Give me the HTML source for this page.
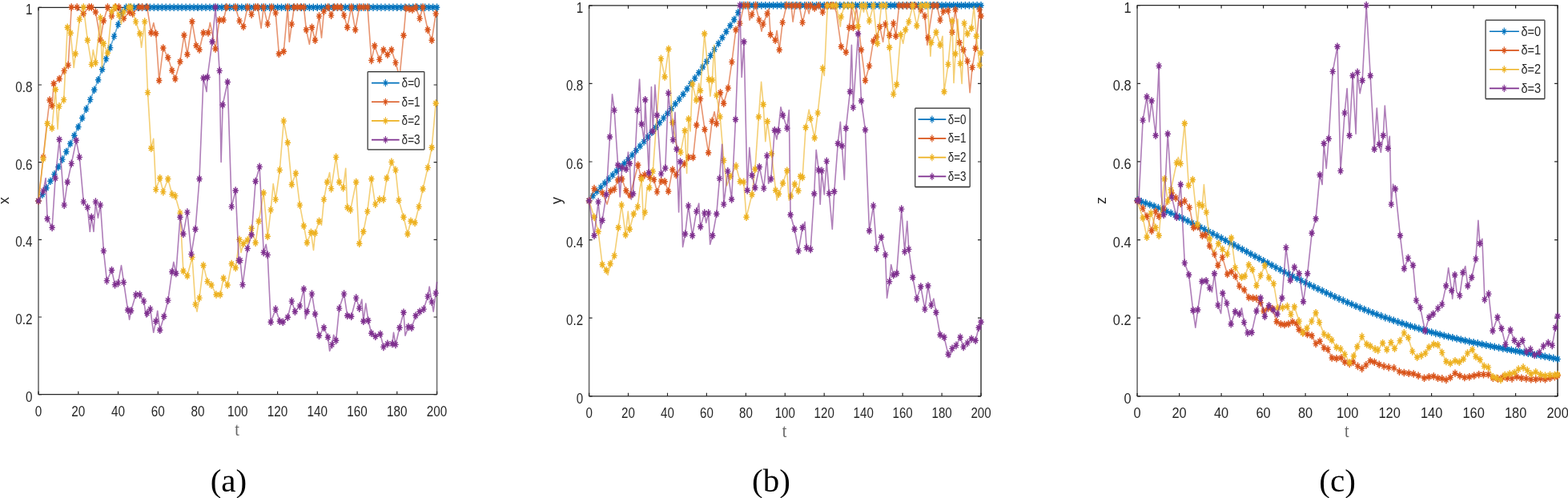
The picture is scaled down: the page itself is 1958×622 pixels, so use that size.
<!DOCTYPE html>
<html><head><meta charset="utf-8"><title>figure</title>
<style>
html,body{margin:0;padding:0;background:#fff;}
body{width:1958px;height:622px;overflow:hidden;}
svg{display:block;}
.tk{font-family:"Liberation Sans",Arial,sans-serif;font-size:18px;fill:#262626;}
.lg{font-family:"Liberation Sans",Arial,sans-serif;font-size:16px;fill:#262626;}
.xl{font-family:"Liberation Serif","Times New Roman",serif;font-size:24px;fill:#666;}
.yl{font-family:"Liberation Sans",Arial,sans-serif;font-size:18px;fill:#262626;}
.cap{font-family:"Liberation Serif","Times New Roman",serif;font-size:41px;fill:#000;}
</style></head><body>
<svg width="1958" height="622" viewBox="0 0 1958 622">
<rect width="1958" height="622" fill="#fff"/>
<path d="M48 9.3H545.6M48 492.7H545.6" stroke="#262626" stroke-width="1.3" fill="none"/>
<path d="M48 9.3V492.7" stroke="#6a6a6a" stroke-width="1.6" fill="none"/>
<path d="M545.6 9.3V492.7" stroke="#6a6a6a" stroke-width="1.5" fill="none"/>
<path d="M48 492.7v-4M48 9.3v4M97.8 492.7v-4M97.8 9.3v4M147.5 492.7v-4M147.5 9.3v4M197.3 492.7v-4M197.3 9.3v4M247 492.7v-4M247 9.3v4M296.8 492.7v-4M296.8 9.3v4M346.6 492.7v-4M346.6 9.3v4M396.3 492.7v-4M396.3 9.3v4M446.1 492.7v-4M446.1 9.3v4M495.8 492.7v-4M495.8 9.3v4M545.6 492.7v-4M545.6 9.3v4M48 492.7h4M545.6 492.7h-4M48 396h4M545.6 396h-4M48 299.3h4M545.6 299.3h-4M48 202.7h4M545.6 202.7h-4M48 106h4M545.6 106h-4M48 9.3h4M545.6 9.3h-4" stroke="#262626" stroke-width="1.2" fill="none"/>
<g>
<polyline points="48,251 53,243 58,234.8 62.9,226.3 67.9,217.6 72.9,208.5 77.9,199.1 82.8,189.5 87.8,179.5 92.8,169.2 97.8,158.5 102.7,147.5 107.7,136.1 112.7,124.4 117.7,112.3 122.6,99.7 127.6,86.8 132.6,73.4 137.6,59.6 142.5,45.4 147.5,30.6 152.5,15.4 157.5,9.3 162.4,9.3 167.4,9.3 172.4,9.3 177.4,9.3 182.4,9.3 187.3,9.3 192.3,9.3 197.3,9.3 202.3,9.3 207.2,9.3 212.2,9.3 217.2,9.3 222.2,9.3 227.1,9.3 232.1,9.3 237.1,9.3 242.1,9.3 247,9.3 252,9.3 257,9.3 262,9.3 266.9,9.3 271.9,9.3 276.9,9.3 281.9,9.3 286.8,9.3 291.8,9.3 296.8,9.3 301.8,9.3 306.8,9.3 311.7,9.3 316.7,9.3 321.7,9.3 326.7,9.3 331.6,9.3 336.6,9.3 341.6,9.3 346.6,9.3 351.5,9.3 356.5,9.3 361.5,9.3 366.5,9.3 371.4,9.3 376.4,9.3 381.4,9.3 386.4,9.3 391.3,9.3 396.3,9.3 401.3,9.3 406.3,9.3 411.2,9.3 416.2,9.3 421.2,9.3 426.2,9.3 431.2,9.3 436.1,9.3 441.1,9.3 446.1,9.3 451.1,9.3 456,9.3 461,9.3 466,9.3 471,9.3 475.9,9.3 480.9,9.3 485.9,9.3 490.9,9.3 495.8,9.3 500.8,9.3 505.8,9.3 510.8,9.3 515.7,9.3 520.7,9.3 525.7,9.3 530.7,9.3 535.6,9.3 540.6,9.3 545.6,9.3" fill="none" stroke="#0072BD" stroke-width="1.6" stroke-opacity="0.62" stroke-linejoin="round"/>
<path d="M44.3 251h7.4M48 246.2v9.6M45.3 248l5.3 6M45.3 254l5.3 -6M49.3 243h7.4M53 238.2v9.6M50.3 240.1l5.3 6M50.3 246l5.3 -6M54.3 234.8h7.4M58 230v9.6M55.3 231.8l5.3 6M55.3 237.8l5.3 -6M59.2 226.3h7.4M62.9 221.5v9.6M60.3 223.4l5.3 6M60.3 229.3l5.3 -6M64.2 217.6h7.4M67.9 212.8v9.6M65.2 214.6l5.3 6M65.2 220.5l5.3 -6M69.2 208.5h7.4M72.9 203.7v9.6M70.2 205.5l5.3 6M70.2 211.5l5.3 -6M74.2 199.1h7.4M77.9 194.3v9.6M75.2 196.2l5.3 6M75.2 202.1l5.3 -6M79.1 189.5h7.4M82.8 184.7v9.6M80.2 186.5l5.3 6M80.2 192.4l5.3 -6M84.1 179.5h7.4M87.8 174.7v9.6M85.1 176.5l5.3 6M85.1 182.5l5.3 -6M89.1 169.2h7.4M92.8 164.4v9.6M90.1 166.2l5.3 6M90.1 172.1l5.3 -6M94.1 158.5h7.4M97.8 153.7v9.6M95.1 155.5l5.3 6M95.1 161.5l5.3 -6M99 147.5h7.4M102.7 142.7v9.6M100.1 144.5l5.3 6M100.1 150.5l5.3 -6M104 136.1h7.4M107.7 131.3v9.6M105 133.2l5.3 6M105 139.1l5.3 -6M109 124.4h7.4M112.7 119.6v9.6M110 121.4l5.3 6M110 127.4l5.3 -6M114 112.3h7.4M117.7 107.5v9.6M115 109.3l5.3 6M115 115.2l5.3 -6M118.9 99.7h7.4M122.6 94.9v9.6M120 96.8l5.3 6M120 102.7l5.3 -6M123.9 86.8h7.4M127.6 82v9.6M125 83.8l5.3 6M125 89.8l5.3 -6M128.9 73.4h7.4M132.6 68.6v9.6M129.9 70.5l5.3 6M129.9 76.4l5.3 -6M133.9 59.6h7.4M137.6 54.8v9.6M134.9 56.7l5.3 6M134.9 62.6l5.3 -6M138.8 45.4h7.4M142.5 40.6v9.6M139.9 42.4l5.3 6M139.9 48.3l5.3 -6M143.8 30.6h7.4M147.5 25.8v9.6M144.9 27.7l5.3 6M144.9 33.6l5.3 -6M148.8 15.4h7.4M152.5 10.6v9.6M149.8 12.4l5.3 6M149.8 18.4l5.3 -6M153.8 9.3h7.4M157.5 4.5v9.6M154.8 6.3l5.3 6M154.8 12.3l5.3 -6M158.7 9.3h7.4M162.4 4.5v9.6M159.8 6.3l5.3 6M159.8 12.3l5.3 -6M163.7 9.3h7.4M167.4 4.5v9.6M164.8 6.3l5.3 6M164.8 12.3l5.3 -6M168.7 9.3h7.4M172.4 4.5v9.6M169.7 6.3l5.3 6M169.7 12.3l5.3 -6M173.7 9.3h7.4M177.4 4.5v9.6M174.7 6.3l5.3 6M174.7 12.3l5.3 -6M178.7 9.3h7.4M182.4 4.5v9.6M179.7 6.3l5.3 6M179.7 12.3l5.3 -6M183.6 9.3h7.4M187.3 4.5v9.6M184.7 6.3l5.3 6M184.7 12.3l5.3 -6M188.6 9.3h7.4M192.3 4.5v9.6M189.6 6.3l5.3 6M189.6 12.3l5.3 -6M193.6 9.3h7.4M197.3 4.5v9.6M194.6 6.3l5.3 6M194.6 12.3l5.3 -6M198.6 9.3h7.4M202.3 4.5v9.6M199.6 6.3l5.3 6M199.6 12.3l5.3 -6M203.5 9.3h7.4M207.2 4.5v9.6M204.6 6.3l5.3 6M204.6 12.3l5.3 -6M208.5 9.3h7.4M212.2 4.5v9.6M209.5 6.3l5.3 6M209.5 12.3l5.3 -6M213.5 9.3h7.4M217.2 4.5v9.6M214.5 6.3l5.3 6M214.5 12.3l5.3 -6M218.5 9.3h7.4M222.2 4.5v9.6M219.5 6.3l5.3 6M219.5 12.3l5.3 -6M223.4 9.3h7.4M227.1 4.5v9.6M224.5 6.3l5.3 6M224.5 12.3l5.3 -6M228.4 9.3h7.4M232.1 4.5v9.6M229.4 6.3l5.3 6M229.4 12.3l5.3 -6M233.4 9.3h7.4M237.1 4.5v9.6M234.4 6.3l5.3 6M234.4 12.3l5.3 -6M238.4 9.3h7.4M242.1 4.5v9.6M239.4 6.3l5.3 6M239.4 12.3l5.3 -6M243.3 9.3h7.4M247 4.5v9.6M244.4 6.3l5.3 6M244.4 12.3l5.3 -6M248.3 9.3h7.4M252 4.5v9.6M249.4 6.3l5.3 6M249.4 12.3l5.3 -6M253.3 9.3h7.4M257 4.5v9.6M254.3 6.3l5.3 6M254.3 12.3l5.3 -6M258.3 9.3h7.4M262 4.5v9.6M259.3 6.3l5.3 6M259.3 12.3l5.3 -6M263.2 9.3h7.4M266.9 4.5v9.6M264.3 6.3l5.3 6M264.3 12.3l5.3 -6M268.2 9.3h7.4M271.9 4.5v9.6M269.3 6.3l5.3 6M269.3 12.3l5.3 -6M273.2 9.3h7.4M276.9 4.5v9.6M274.2 6.3l5.3 6M274.2 12.3l5.3 -6M278.2 9.3h7.4M281.9 4.5v9.6M279.2 6.3l5.3 6M279.2 12.3l5.3 -6M283.1 9.3h7.4M286.8 4.5v9.6M284.2 6.3l5.3 6M284.2 12.3l5.3 -6M288.1 9.3h7.4M291.8 4.5v9.6M289.2 6.3l5.3 6M289.2 12.3l5.3 -6M293.1 9.3h7.4M296.8 4.5v9.6M294.1 6.3l5.3 6M294.1 12.3l5.3 -6M298.1 9.3h7.4M301.8 4.5v9.6M299.1 6.3l5.3 6M299.1 12.3l5.3 -6M303.1 9.3h7.4M306.8 4.5v9.6M304.1 6.3l5.3 6M304.1 12.3l5.3 -6M308 9.3h7.4M311.7 4.5v9.6M309.1 6.3l5.3 6M309.1 12.3l5.3 -6M313 9.3h7.4M316.7 4.5v9.6M314 6.3l5.3 6M314 12.3l5.3 -6M318 9.3h7.4M321.7 4.5v9.6M319 6.3l5.3 6M319 12.3l5.3 -6M323 9.3h7.4M326.7 4.5v9.6M324 6.3l5.3 6M324 12.3l5.3 -6M327.9 9.3h7.4M331.6 4.5v9.6M329 6.3l5.3 6M329 12.3l5.3 -6M332.9 9.3h7.4M336.6 4.5v9.6M333.9 6.3l5.3 6M333.9 12.3l5.3 -6M337.9 9.3h7.4M341.6 4.5v9.6M338.9 6.3l5.3 6M338.9 12.3l5.3 -6M342.9 9.3h7.4M346.6 4.5v9.6M343.9 6.3l5.3 6M343.9 12.3l5.3 -6M347.8 9.3h7.4M351.5 4.5v9.6M348.9 6.3l5.3 6M348.9 12.3l5.3 -6M352.8 9.3h7.4M356.5 4.5v9.6M353.8 6.3l5.3 6M353.8 12.3l5.3 -6M357.8 9.3h7.4M361.5 4.5v9.6M358.8 6.3l5.3 6M358.8 12.3l5.3 -6M362.8 9.3h7.4M366.5 4.5v9.6M363.8 6.3l5.3 6M363.8 12.3l5.3 -6M367.7 9.3h7.4M371.4 4.5v9.6M368.8 6.3l5.3 6M368.8 12.3l5.3 -6M372.7 9.3h7.4M376.4 4.5v9.6M373.8 6.3l5.3 6M373.8 12.3l5.3 -6M377.7 9.3h7.4M381.4 4.5v9.6M378.7 6.3l5.3 6M378.7 12.3l5.3 -6M382.7 9.3h7.4M386.4 4.5v9.6M383.7 6.3l5.3 6M383.7 12.3l5.3 -6M387.6 9.3h7.4M391.3 4.5v9.6M388.7 6.3l5.3 6M388.7 12.3l5.3 -6M392.6 9.3h7.4M396.3 4.5v9.6M393.7 6.3l5.3 6M393.7 12.3l5.3 -6M397.6 9.3h7.4M401.3 4.5v9.6M398.6 6.3l5.3 6M398.6 12.3l5.3 -6M402.6 9.3h7.4M406.3 4.5v9.6M403.6 6.3l5.3 6M403.6 12.3l5.3 -6M407.5 9.3h7.4M411.2 4.5v9.6M408.6 6.3l5.3 6M408.6 12.3l5.3 -6M412.5 9.3h7.4M416.2 4.5v9.6M413.6 6.3l5.3 6M413.6 12.3l5.3 -6M417.5 9.3h7.4M421.2 4.5v9.6M418.5 6.3l5.3 6M418.5 12.3l5.3 -6M422.5 9.3h7.4M426.2 4.5v9.6M423.5 6.3l5.3 6M423.5 12.3l5.3 -6M427.5 9.3h7.4M431.2 4.5v9.6M428.5 6.3l5.3 6M428.5 12.3l5.3 -6M432.4 9.3h7.4M436.1 4.5v9.6M433.5 6.3l5.3 6M433.5 12.3l5.3 -6M437.4 9.3h7.4M441.1 4.5v9.6M438.4 6.3l5.3 6M438.4 12.3l5.3 -6M442.4 9.3h7.4M446.1 4.5v9.6M443.4 6.3l5.3 6M443.4 12.3l5.3 -6M447.4 9.3h7.4M451.1 4.5v9.6M448.4 6.3l5.3 6M448.4 12.3l5.3 -6M452.3 9.3h7.4M456 4.5v9.6M453.4 6.3l5.3 6M453.4 12.3l5.3 -6M457.3 9.3h7.4M461 4.5v9.6M458.3 6.3l5.3 6M458.3 12.3l5.3 -6M462.3 9.3h7.4M466 4.5v9.6M463.3 6.3l5.3 6M463.3 12.3l5.3 -6M467.3 9.3h7.4M471 4.5v9.6M468.3 6.3l5.3 6M468.3 12.3l5.3 -6M472.2 9.3h7.4M475.9 4.5v9.6M473.3 6.3l5.3 6M473.3 12.3l5.3 -6M477.2 9.3h7.4M480.9 4.5v9.6M478.2 6.3l5.3 6M478.2 12.3l5.3 -6M482.2 9.3h7.4M485.9 4.5v9.6M483.2 6.3l5.3 6M483.2 12.3l5.3 -6M487.2 9.3h7.4M490.9 4.5v9.6M488.2 6.3l5.3 6M488.2 12.3l5.3 -6M492.1 9.3h7.4M495.8 4.5v9.6M493.2 6.3l5.3 6M493.2 12.3l5.3 -6M497.1 9.3h7.4M500.8 4.5v9.6M498.2 6.3l5.3 6M498.2 12.3l5.3 -6M502.1 9.3h7.4M505.8 4.5v9.6M503.1 6.3l5.3 6M503.1 12.3l5.3 -6M507.1 9.3h7.4M510.8 4.5v9.6M508.1 6.3l5.3 6M508.1 12.3l5.3 -6M512 9.3h7.4M515.7 4.5v9.6M513.1 6.3l5.3 6M513.1 12.3l5.3 -6M517 9.3h7.4M520.7 4.5v9.6M518.1 6.3l5.3 6M518.1 12.3l5.3 -6M522 9.3h7.4M525.7 4.5v9.6M523 6.3l5.3 6M523 12.3l5.3 -6M527 9.3h7.4M530.7 4.5v9.6M528 6.3l5.3 6M528 12.3l5.3 -6M531.9 9.3h7.4M535.6 4.5v9.6M533 6.3l5.3 6M533 12.3l5.3 -6M536.9 9.3h7.4M540.6 4.5v9.6M538 6.3l5.3 6M538 12.3l5.3 -6M541.9 9.3h7.4M545.6 4.5v9.6M542.9 6.3l5.3 6M542.9 12.3l5.3 -6" stroke="#0072BD" stroke-width="1.4" fill="none"/>
<polyline points="48,251 54,196.4 59,150 62,125 65.1,132 67.1,104.5 74.1,98.5 80.2,88.4 85.2,81.4 89.2,9 96.2,9 104.3,17 111.3,9 114.3,9 119.4,15 125.4,50 129.4,26 134.4,9 139.5,20 144.5,9 148.5,9 154.5,23 161.6,15 165.6,17 173.6,9 177.6,9 183.7,9 188.7,41 191.8,28.6 194.7,42 198.7,100.5 203.8,60 209.8,72 214.8,88 218.8,98.5 224.9,77 229.9,44 233.9,68 239.9,27 245,57 249,62 254,41 260,41 262.3,28.4 269,61 274,25 279,25 283,9 294,9 299,26.1 304,33.2 309.1,9 314.1,18.1 319.1,9 322,9 326.1,35.2 329.2,9 334.2,30.1 339.2,9 344.2,16.1 348.3,67.3 354.3,64.3 359.3,9 361.3,52.3 364.3,30.1 367.3,9 371.4,9 375.4,9 379.4,9 382.4,37.2 386.4,55.3 389.5,34.2 393.5,50.2 398.5,20.1 401.5,47.2 404.5,14.1 409.5,9 413.6,19.1 417.6,9 421.6,9 425.6,9 429.6,19.1 433.7,34.2 438.7,9 443.7,37.2 448.7,9 453.7,9 459,9 463.8,75.4 467.8,57.3 473.9,74.4 478.9,62.3 483.9,68.3 488.9,62.3 494,78.4 499,96 504,44.2 507,10 511,11 515,12 519.1,9 524.1,23.1 528.1,9 534.1,37.2 539.2,50.2 544.2,17.1" fill="none" stroke="#D95319" stroke-width="1.6" stroke-opacity="0.62" stroke-linejoin="round"/>
<path d="M44.3 251h7.4M48 246.2v9.6M45.3 248l5.3 6M45.3 254l5.3 -6M50.3 196.4h7.4M54 191.6v9.6M51.3 193.4l5.3 6M51.3 199.4l5.3 -6M58.3 125h7.4M62 120.2v9.6M59.3 122l5.3 6M59.3 128l5.3 -6M61.4 132h7.4M65.1 127.2v9.6M62.4 129l5.3 6M62.4 135l5.3 -6M63.4 104.5h7.4M67.1 99.7v9.6M64.4 101.5l5.3 6M64.4 107.5l5.3 -6M70.4 98.5h7.4M74.1 93.7v9.6M71.4 95.5l5.3 6M71.4 101.5l5.3 -6M76.5 88.4h7.4M80.2 83.6v9.6M77.5 85.4l5.3 6M77.5 91.4l5.3 -6M81.5 81.4h7.4M85.2 76.6v9.6M82.5 78.4l5.3 6M82.5 84.4l5.3 -6M85.5 9h7.4M89.2 4.2v9.6M86.5 6l5.3 6M86.5 12l5.3 -6M92.5 9h7.4M96.2 4.2v9.6M93.5 6l5.3 6M93.5 12l5.3 -6M100.6 17h7.4M104.3 12.2v9.6M101.6 14l5.3 6M101.6 20l5.3 -6M107.6 9h7.4M111.3 4.2v9.6M108.6 6l5.3 6M108.6 12l5.3 -6M110.6 9h7.4M114.3 4.2v9.6M111.6 6l5.3 6M111.6 12l5.3 -6M115.7 15h7.4M119.4 10.2v9.6M116.7 12l5.3 6M116.7 18l5.3 -6M121.7 50h7.4M125.4 45.2v9.6M122.7 47l5.3 6M122.7 53l5.3 -6M125.7 26h7.4M129.4 21.2v9.6M126.7 23l5.3 6M126.7 29l5.3 -6M130.7 9h7.4M134.4 4.2v9.6M131.7 6l5.3 6M131.7 12l5.3 -6M135.8 20h7.4M139.5 15.2v9.6M136.8 17l5.3 6M136.8 23l5.3 -6M140.8 9h7.4M144.5 4.2v9.6M141.8 6l5.3 6M141.8 12l5.3 -6M144.8 9h7.4M148.5 4.2v9.6M145.8 6l5.3 6M145.8 12l5.3 -6M150.8 23h7.4M154.5 18.2v9.6M151.8 20l5.3 6M151.8 26l5.3 -6M157.9 15h7.4M161.6 10.2v9.6M158.9 12l5.3 6M158.9 18l5.3 -6M161.9 17h7.4M165.6 12.2v9.6M162.9 14l5.3 6M162.9 20l5.3 -6M169.9 9h7.4M173.6 4.2v9.6M170.9 6l5.3 6M170.9 12l5.3 -6M173.9 9h7.4M177.6 4.2v9.6M174.9 6l5.3 6M174.9 12l5.3 -6M180 9h7.4M183.7 4.2v9.6M181 6l5.3 6M181 12l5.3 -6M185 41h7.4M188.7 36.2v9.6M186 38l5.3 6M186 44l5.3 -6M191 42h7.4M194.7 37.2v9.6M192 39l5.3 6M192 45l5.3 -6M195 100.5h7.4M198.7 95.7v9.6M196 97.5l5.3 6M196 103.5l5.3 -6M200.1 60h7.4M203.8 55.2v9.6M201.1 57l5.3 6M201.1 63l5.3 -6M206.1 72h7.4M209.8 67.2v9.6M207.1 69l5.3 6M207.1 75l5.3 -6M211.1 88h7.4M214.8 83.2v9.6M212.1 85l5.3 6M212.1 91l5.3 -6M215.1 98.5h7.4M218.8 93.7v9.6M216.1 95.5l5.3 6M216.1 101.5l5.3 -6M221.2 77h7.4M224.9 72.2v9.6M222.2 74l5.3 6M222.2 80l5.3 -6M226.2 44h7.4M229.9 39.2v9.6M227.2 41l5.3 6M227.2 47l5.3 -6M230.2 68h7.4M233.9 63.2v9.6M231.2 65l5.3 6M231.2 71l5.3 -6M236.2 27h7.4M239.9 22.2v9.6M237.2 24l5.3 6M237.2 30l5.3 -6M241.3 57h7.4M245 52.2v9.6M242.3 54l5.3 6M242.3 60l5.3 -6M245.3 62h7.4M249 57.2v9.6M246.3 59l5.3 6M246.3 65l5.3 -6M250.3 41h7.4M254 36.2v9.6M251.3 38l5.3 6M251.3 44l5.3 -6M256.3 41h7.4M260 36.2v9.6M257.3 38l5.3 6M257.3 44l5.3 -6M265.3 61h7.4M269 56.2v9.6M266.3 58l5.3 6M266.3 64l5.3 -6M270.3 25h7.4M274 20.2v9.6M271.3 22l5.3 6M271.3 28l5.3 -6M275.3 25h7.4M279 20.2v9.6M276.3 22l5.3 6M276.3 28l5.3 -6M279.3 9h7.4M283 4.2v9.6M280.3 6l5.3 6M280.3 12l5.3 -6M290.3 9h7.4M294 4.2v9.6M291.3 6l5.3 6M291.3 12l5.3 -6M295.3 26.1h7.4M299 21.3v9.6M296.3 23.1l5.3 6M296.3 29.1l5.3 -6M300.3 33.2h7.4M304 28.4v9.6M301.3 30.2l5.3 6M301.3 36.2l5.3 -6M305.4 9h7.4M309.1 4.2v9.6M306.4 6l5.3 6M306.4 12l5.3 -6M310.4 18.1h7.4M314.1 13.3v9.6M311.4 15.1l5.3 6M311.4 21.1l5.3 -6M315.4 9h7.4M319.1 4.2v9.6M316.4 6l5.3 6M316.4 12l5.3 -6M318.3 9h7.4M322 4.2v9.6M319.3 6l5.3 6M319.3 12l5.3 -6M325.5 9h7.4M329.2 4.2v9.6M326.5 6l5.3 6M326.5 12l5.3 -6M330.5 30.1h7.4M334.2 25.3v9.6M331.5 27.1l5.3 6M331.5 33.1l5.3 -6M335.5 9h7.4M339.2 4.2v9.6M336.5 6l5.3 6M336.5 12l5.3 -6M340.5 16.1h7.4M344.2 11.3v9.6M341.5 13.1l5.3 6M341.5 19.1l5.3 -6M344.6 67.3h7.4M348.3 62.5v9.6M345.6 64.3l5.3 6M345.6 70.3l5.3 -6M350.6 64.3h7.4M354.3 59.5v9.6M351.6 61.3l5.3 6M351.6 67.3l5.3 -6M355.6 9h7.4M359.3 4.2v9.6M356.6 6l5.3 6M356.6 12l5.3 -6M360.6 30.1h7.4M364.3 25.3v9.6M361.6 27.1l5.3 6M361.6 33.1l5.3 -6M363.6 9h7.4M367.3 4.2v9.6M364.6 6l5.3 6M364.6 12l5.3 -6M367.7 9h7.4M371.4 4.2v9.6M368.7 6l5.3 6M368.7 12l5.3 -6M371.7 9h7.4M375.4 4.2v9.6M372.7 6l5.3 6M372.7 12l5.3 -6M375.7 9h7.4M379.4 4.2v9.6M376.7 6l5.3 6M376.7 12l5.3 -6M378.7 37.2h7.4M382.4 32.4v9.6M379.7 34.2l5.3 6M379.7 40.2l5.3 -6M385.8 34.2h7.4M389.5 29.4v9.6M386.8 31.2l5.3 6M386.8 37.2l5.3 -6M389.8 50.2h7.4M393.5 45.4v9.6M390.8 47.2l5.3 6M390.8 53.2l5.3 -6M394.8 20.1h7.4M398.5 15.3v9.6M395.8 17.1l5.3 6M395.8 23.1l5.3 -6M400.8 14.1h7.4M404.5 9.3v9.6M401.8 11.1l5.3 6M401.8 17.1l5.3 -6M405.8 9h7.4M409.5 4.2v9.6M406.8 6l5.3 6M406.8 12l5.3 -6M409.9 19.1h7.4M413.6 14.3v9.6M410.9 16.1l5.3 6M410.9 22.1l5.3 -6M413.9 9h7.4M417.6 4.2v9.6M414.9 6l5.3 6M414.9 12l5.3 -6M417.9 9h7.4M421.6 4.2v9.6M418.9 6l5.3 6M418.9 12l5.3 -6M421.9 9h7.4M425.6 4.2v9.6M422.9 6l5.3 6M422.9 12l5.3 -6M425.9 19.1h7.4M429.6 14.3v9.6M426.9 16.1l5.3 6M426.9 22.1l5.3 -6M430 34.2h7.4M433.7 29.4v9.6M431 31.2l5.3 6M431 37.2l5.3 -6M435 9h7.4M438.7 4.2v9.6M436 6l5.3 6M436 12l5.3 -6M440 37.2h7.4M443.7 32.4v9.6M441 34.2l5.3 6M441 40.2l5.3 -6M445 9h7.4M448.7 4.2v9.6M446 6l5.3 6M446 12l5.3 -6M450 9h7.4M453.7 4.2v9.6M451 6l5.3 6M451 12l5.3 -6M455.3 9h7.4M459 4.2v9.6M456.3 6l5.3 6M456.3 12l5.3 -6M460.1 75.4h7.4M463.8 70.6v9.6M461.1 72.4l5.3 6M461.1 78.4l5.3 -6M464.1 57.3h7.4M467.8 52.5v9.6M465.1 54.3l5.3 6M465.1 60.3l5.3 -6M470.2 74.4h7.4M473.9 69.6v9.6M471.2 71.4l5.3 6M471.2 77.4l5.3 -6M475.2 62.3h7.4M478.9 57.5v9.6M476.2 59.3l5.3 6M476.2 65.3l5.3 -6M480.2 68.3h7.4M483.9 63.5v9.6M481.2 65.3l5.3 6M481.2 71.3l5.3 -6M485.2 62.3h7.4M488.9 57.5v9.6M486.2 59.3l5.3 6M486.2 65.3l5.3 -6M490.3 78.4h7.4M494 73.6v9.6M491.3 75.4l5.3 6M491.3 81.4l5.3 -6M500.3 44.2h7.4M504 39.4v9.6M501.3 41.2l5.3 6M501.3 47.2l5.3 -6M503.3 10h7.4M507 5.2v9.6M504.3 7l5.3 6M504.3 13l5.3 -6M507.3 11h7.4M511 6.2v9.6M508.3 8l5.3 6M508.3 14l5.3 -6M511.3 12h7.4M515 7.2v9.6M512.3 9l5.3 6M512.3 15l5.3 -6M515.4 9h7.4M519.1 4.2v9.6M516.4 6l5.3 6M516.4 12l5.3 -6M520.4 23.1h7.4M524.1 18.3v9.6M521.4 20.1l5.3 6M521.4 26.1l5.3 -6M524.4 9h7.4M528.1 4.2v9.6M525.4 6l5.3 6M525.4 12l5.3 -6M530.4 37.2h7.4M534.1 32.4v9.6M531.4 34.2l5.3 6M531.4 40.2l5.3 -6M535.5 50.2h7.4M539.2 45.4v9.6M536.5 47.2l5.3 6M536.5 53.2l5.3 -6M540.5 17.1h7.4M544.2 12.3v9.6M541.5 14.1l5.3 6M541.5 20.1l5.3 -6" stroke="#D95319" stroke-width="1.4" fill="none"/>
<polyline points="48,251 54,198.4 59.1,154.2 64.9,160 69.4,111.7 72,161.2 73.9,132.9 79.7,124.6 84.2,34.2 88.2,41.2 92.2,84.4 94.2,67.3 99.3,24.1 104.3,9 109.3,50.2 114.3,80.4 116.3,62.3 119.4,78.4 125.4,22.1 127.4,84.4 129.4,54.3 134.4,66.3 139.5,14.1 143.5,9 148.5,19.1 151.5,30.1 154.5,15.1 160.6,9 163.6,9 169.6,27.1 174.6,42.2 176.6,59.3 180.7,27.1 184.5,115.6 188.7,185.3 191.7,173.3 194.7,236.6 199.7,222.5 203.8,239.6 209.8,223.5 214.8,242.6 218.8,244.6 224.9,266.1 228.9,338.5 233.9,344.5 240,321.4 244,380.1 246,389.2 249,372.1 254,331.5 259,351.6 264,356 270,368 275,368 279.1,347.5 284.1,356 289.2,329.5 294.2,334.5 299,299.3 301,315.4 304,304.3 309,300 314.1,285.2 319.1,303.3 323.1,276.2 329.2,241 334.2,295.3 338.2,262.1 341.2,229.5 344.2,249.1 349.3,212.4 354.3,151.1 359.3,178.3 364.3,230.5 369.4,216.5 374.4,256.1 379.4,282.2 383.4,303.3 388.4,290.3 391.5,312.4 393.5,291.3 398.5,276.2 401.5,281.2 404.5,249.1 408.5,227.5 411.6,215.5 413.6,235.6 419.6,196.4 423.6,227.5 428.6,234.6 431.7,210.4 433.7,259.1 437.7,262.1 444.7,227.5 448.7,304.3 453.8,289.3 458.8,264.1 463.8,223.5 467.8,250 468.8,255.1 473.9,249.1 478.9,249.1 482.9,222.5 488.9,202.4 494,212.4 498,250.1 504,271.2 509,292.3 513,276.2 518.1,278.2 523.1,258.1 528.1,236 534.2,209.4 539.2,184.3 544.2,129" fill="none" stroke="#EDB120" stroke-width="1.6" stroke-opacity="0.62" stroke-linejoin="round"/>
<path d="M44.3 251h7.4M48 246.2v9.6M45.3 248l5.3 6M45.3 254l5.3 -6M50.3 198.4h7.4M54 193.6v9.6M51.3 195.4l5.3 6M51.3 201.4l5.3 -6M55.4 154.2h7.4M59.1 149.4v9.6M56.4 151.2l5.3 6M56.4 157.2l5.3 -6M61.2 160h7.4M64.9 155.2v9.6M62.2 157l5.3 6M62.2 163l5.3 -6M65.7 111.7h7.4M69.4 106.9v9.6M66.7 108.7l5.3 6M66.7 114.7l5.3 -6M70.2 132.9h7.4M73.9 128.1v9.6M71.2 129.9l5.3 6M71.2 135.9l5.3 -6M76 124.6h7.4M79.7 119.8v9.6M77 121.6l5.3 6M77 127.6l5.3 -6M80.5 34.2h7.4M84.2 29.4v9.6M81.5 31.2l5.3 6M81.5 37.2l5.3 -6M84.5 41.2h7.4M88.2 36.4v9.6M85.5 38.2l5.3 6M85.5 44.2l5.3 -6M90.5 67.3h7.4M94.2 62.5v9.6M91.5 64.3l5.3 6M91.5 70.3l5.3 -6M95.6 24.1h7.4M99.3 19.3v9.6M96.6 21.1l5.3 6M96.6 27.1l5.3 -6M100.6 9h7.4M104.3 4.2v9.6M101.6 6l5.3 6M101.6 12l5.3 -6M105.6 50.2h7.4M109.3 45.4v9.6M106.6 47.2l5.3 6M106.6 53.2l5.3 -6M110.6 80.4h7.4M114.3 75.6v9.6M111.6 77.4l5.3 6M111.6 83.4l5.3 -6M115.7 78.4h7.4M119.4 73.6v9.6M116.7 75.4l5.3 6M116.7 81.4l5.3 -6M121.7 22.1h7.4M125.4 17.3v9.6M122.7 19.1l5.3 6M122.7 25.1l5.3 -6M125.7 54.3h7.4M129.4 49.5v9.6M126.7 51.3l5.3 6M126.7 57.3l5.3 -6M130.7 66.3h7.4M134.4 61.5v9.6M131.7 63.3l5.3 6M131.7 69.3l5.3 -6M135.8 14.1h7.4M139.5 9.3v9.6M136.8 11.1l5.3 6M136.8 17.1l5.3 -6M139.8 9h7.4M143.5 4.2v9.6M140.8 6l5.3 6M140.8 12l5.3 -6M144.8 19.1h7.4M148.5 14.3v9.6M145.8 16.1l5.3 6M145.8 22.1l5.3 -6M150.8 15.1h7.4M154.5 10.3v9.6M151.8 12.1l5.3 6M151.8 18.1l5.3 -6M156.9 9h7.4M160.6 4.2v9.6M157.9 6l5.3 6M157.9 12l5.3 -6M159.9 9h7.4M163.6 4.2v9.6M160.9 6l5.3 6M160.9 12l5.3 -6M165.9 27.1h7.4M169.6 22.3v9.6M166.9 24.1l5.3 6M166.9 30.1l5.3 -6M170.9 42.2h7.4M174.6 37.4v9.6M171.9 39.2l5.3 6M171.9 45.2l5.3 -6M177 27.1h7.4M180.7 22.3v9.6M178 24.1l5.3 6M178 30.1l5.3 -6M180.8 115.6h7.4M184.5 110.8v9.6M181.8 112.6l5.3 6M181.8 118.6l5.3 -6M185 185.3h7.4M188.7 180.5v9.6M186 182.3l5.3 6M186 188.3l5.3 -6M191 236.6h7.4M194.7 231.8v9.6M192 233.6l5.3 6M192 239.6l5.3 -6M196 222.5h7.4M199.7 217.7v9.6M197 219.5l5.3 6M197 225.5l5.3 -6M200.1 239.6h7.4M203.8 234.8v9.6M201.1 236.6l5.3 6M201.1 242.6l5.3 -6M206.1 223.5h7.4M209.8 218.7v9.6M207.1 220.5l5.3 6M207.1 226.5l5.3 -6M211.1 242.6h7.4M214.8 237.8v9.6M212.1 239.6l5.3 6M212.1 245.6l5.3 -6M215.1 244.6h7.4M218.8 239.8v9.6M216.1 241.6l5.3 6M216.1 247.6l5.3 -6M221.2 266.1h7.4M224.9 261.3v9.6M222.2 263.1l5.3 6M222.2 269.1l5.3 -6M225.2 338.5h7.4M228.9 333.7v9.6M226.2 335.5l5.3 6M226.2 341.5l5.3 -6M230.2 344.5h7.4M233.9 339.7v9.6M231.2 341.5l5.3 6M231.2 347.5l5.3 -6M236.3 321.4h7.4M240 316.6v9.6M237.3 318.4l5.3 6M237.3 324.4l5.3 -6M240.3 380.1h7.4M244 375.3v9.6M241.3 377.1l5.3 6M241.3 383.1l5.3 -6M245.3 372.1h7.4M249 367.3v9.6M246.3 369.1l5.3 6M246.3 375.1l5.3 -6M250.3 331.5h7.4M254 326.7v9.6M251.3 328.5l5.3 6M251.3 334.5l5.3 -6M255.3 351.6h7.4M259 346.8v9.6M256.3 348.6l5.3 6M256.3 354.6l5.3 -6M260.3 356h7.4M264 351.2v9.6M261.3 353l5.3 6M261.3 359l5.3 -6M266.3 368h7.4M270 363.2v9.6M267.3 365l5.3 6M267.3 371l5.3 -6M271.3 368h7.4M275 363.2v9.6M272.3 365l5.3 6M272.3 371l5.3 -6M275.4 347.5h7.4M279.1 342.7v9.6M276.4 344.5l5.3 6M276.4 350.5l5.3 -6M280.4 356h7.4M284.1 351.2v9.6M281.4 353l5.3 6M281.4 359l5.3 -6M285.5 329.5h7.4M289.2 324.7v9.6M286.5 326.5l5.3 6M286.5 332.5l5.3 -6M290.5 334.5h7.4M294.2 329.7v9.6M291.5 331.5l5.3 6M291.5 337.5l5.3 -6M295.3 299.3h7.4M299 294.5v9.6M296.3 296.3l5.3 6M296.3 302.3l5.3 -6M300.3 304.3h7.4M304 299.5v9.6M301.3 301.3l5.3 6M301.3 307.3l5.3 -6M305.3 300h7.4M309 295.2v9.6M306.3 297l5.3 6M306.3 303l5.3 -6M310.4 285.2h7.4M314.1 280.4v9.6M311.4 282.2l5.3 6M311.4 288.2l5.3 -6M315.4 303.3h7.4M319.1 298.5v9.6M316.4 300.3l5.3 6M316.4 306.3l5.3 -6M319.4 276.2h7.4M323.1 271.4v9.6M320.4 273.2l5.3 6M320.4 279.2l5.3 -6M325.5 241h7.4M329.2 236.2v9.6M326.5 238l5.3 6M326.5 244l5.3 -6M330.5 295.3h7.4M334.2 290.5v9.6M331.5 292.3l5.3 6M331.5 298.3l5.3 -6M334.5 262.1h7.4M338.2 257.3v9.6M335.5 259.1l5.3 6M335.5 265.1l5.3 -6M340.5 249.1h7.4M344.2 244.3v9.6M341.5 246.1l5.3 6M341.5 252.1l5.3 -6M345.6 212.4h7.4M349.3 207.6v9.6M346.6 209.4l5.3 6M346.6 215.4l5.3 -6M350.6 151.1h7.4M354.3 146.3v9.6M351.6 148.1l5.3 6M351.6 154.1l5.3 -6M355.6 178.3h7.4M359.3 173.5v9.6M356.6 175.3l5.3 6M356.6 181.3l5.3 -6M360.6 230.5h7.4M364.3 225.7v9.6M361.6 227.5l5.3 6M361.6 233.5l5.3 -6M365.7 216.5h7.4M369.4 211.7v9.6M366.7 213.5l5.3 6M366.7 219.5l5.3 -6M370.7 256.1h7.4M374.4 251.3v9.6M371.7 253.1l5.3 6M371.7 259.1l5.3 -6M375.7 282.2h7.4M379.4 277.4v9.6M376.7 279.2l5.3 6M376.7 285.2l5.3 -6M379.7 303.3h7.4M383.4 298.5v9.6M380.7 300.3l5.3 6M380.7 306.3l5.3 -6M384.7 290.3h7.4M388.4 285.5v9.6M385.7 287.3l5.3 6M385.7 293.3l5.3 -6M389.8 291.3h7.4M393.5 286.5v9.6M390.8 288.3l5.3 6M390.8 294.3l5.3 -6M394.8 276.2h7.4M398.5 271.4v9.6M395.8 273.2l5.3 6M395.8 279.2l5.3 -6M400.8 249.1h7.4M404.5 244.3v9.6M401.8 246.1l5.3 6M401.8 252.1l5.3 -6M404.8 227.5h7.4M408.5 222.7v9.6M405.8 224.5l5.3 6M405.8 230.5l5.3 -6M409.9 235.6h7.4M413.6 230.8v9.6M410.9 232.6l5.3 6M410.9 238.6l5.3 -6M415.9 196.4h7.4M419.6 191.6v9.6M416.9 193.4l5.3 6M416.9 199.4l5.3 -6M419.9 227.5h7.4M423.6 222.7v9.6M420.9 224.5l5.3 6M420.9 230.5l5.3 -6M424.9 234.6h7.4M428.6 229.8v9.6M425.9 231.6l5.3 6M425.9 237.6l5.3 -6M430 259.1h7.4M433.7 254.3v9.6M431 256.1l5.3 6M431 262.1l5.3 -6M434 262.1h7.4M437.7 257.3v9.6M435 259.1l5.3 6M435 265.1l5.3 -6M441 227.5h7.4M444.7 222.7v9.6M442 224.5l5.3 6M442 230.5l5.3 -6M445 304.3h7.4M448.7 299.5v9.6M446 301.3l5.3 6M446 307.3l5.3 -6M450.1 289.3h7.4M453.8 284.5v9.6M451.1 286.3l5.3 6M451.1 292.3l5.3 -6M455.1 264.1h7.4M458.8 259.3v9.6M456.1 261.1l5.3 6M456.1 267.1l5.3 -6M460.1 223.5h7.4M463.8 218.7v9.6M461.1 220.5l5.3 6M461.1 226.5l5.3 -6M465.1 255.1h7.4M468.8 250.3v9.6M466.1 252.1l5.3 6M466.1 258.1l5.3 -6M470.2 249.1h7.4M473.9 244.3v9.6M471.2 246.1l5.3 6M471.2 252.1l5.3 -6M475.2 249.1h7.4M478.9 244.3v9.6M476.2 246.1l5.3 6M476.2 252.1l5.3 -6M479.2 222.5h7.4M482.9 217.7v9.6M480.2 219.5l5.3 6M480.2 225.5l5.3 -6M485.2 202.4h7.4M488.9 197.6v9.6M486.2 199.4l5.3 6M486.2 205.4l5.3 -6M490.3 212.4h7.4M494 207.6v9.6M491.3 209.4l5.3 6M491.3 215.4l5.3 -6M494.3 250.1h7.4M498 245.3v9.6M495.3 247.1l5.3 6M495.3 253.1l5.3 -6M500.3 271.2h7.4M504 266.4v9.6M501.3 268.2l5.3 6M501.3 274.2l5.3 -6M505.3 292.3h7.4M509 287.5v9.6M506.3 289.3l5.3 6M506.3 295.3l5.3 -6M509.3 276.2h7.4M513 271.4v9.6M510.3 273.2l5.3 6M510.3 279.2l5.3 -6M514.4 278.2h7.4M518.1 273.4v9.6M515.4 275.2l5.3 6M515.4 281.2l5.3 -6M519.4 258.1h7.4M523.1 253.3v9.6M520.4 255.1l5.3 6M520.4 261.1l5.3 -6M524.4 236h7.4M528.1 231.2v9.6M525.4 233l5.3 6M525.4 239l5.3 -6M530.5 209.4h7.4M534.2 204.6v9.6M531.5 206.4l5.3 6M531.5 212.4l5.3 -6M535.5 184.3h7.4M539.2 179.5v9.6M536.5 181.3l5.3 6M536.5 187.3l5.3 -6M540.5 129h7.4M544.2 124.2v9.6M541.5 126l5.3 6M541.5 132l5.3 -6" stroke="#EDB120" stroke-width="1.4" fill="none"/>
<polyline points="48,251 54,238.6 57.1,222.5 59.1,273.2 65.1,284.2 69.1,222.5 74.1,174.3 80.2,256.1 84.2,227.5 89.2,204.4 95.2,175.3 99.3,196.4 104.3,252.1 109.3,259.1 112.3,289.3 114.3,271.2 117,289.3 119.4,252.1 122.4,272.2 125.4,256.1 129.4,313.4 133.4,350.6 139.5,337.5 143.5,355.6 147.5,353.6 151.5,331.5 154.5,352.6 159.6,387.2 161.6,399.2 163.6,388.2 169.6,368.1 174.6,368.1 179.6,376.1 182.7,396.2 183.7,391.2 187.7,386.1 191.7,415.3 194.7,401.2 196.7,388.2 199.7,412.3 204.8,395.2 209.8,375.1 214.8,339.5 216.8,327.4 219.8,341.5 224.9,271.2 228.9,292.3 233.9,265.1 238.9,317.4 244,286.2 249,223.5 254,97.5 258,114.5 259,96.5 265,52.3 269.1,9 274.1,88.4 276.1,202.4 278.1,131 284.2,102.5 289.2,258.1 294.2,238 298.2,325.4 300,325.4 303,355.6 309.1,310.4 314.1,293.3 319.1,226.5 324.1,208.4 329.2,315.4 332.2,305.3 334.2,318.4 338.2,402.2 344.2,386.1 349.3,401.2 353.3,402.2 359.3,396.2 364.3,376.1 368.4,389.2 374.4,382.1 379.4,361 381.4,398.2 383.4,389.2 389.5,367.1 393.5,392.2 398.5,419.3 404.5,409.3 409.5,421.3 411.6,438.4 414.6,430.4 416.6,418.3 419.6,425.3 423.6,385.1 429.6,367.1 433.7,394.2 438.7,395.2 444.7,372.1 448.7,385.1 451.8,374.1 453.8,401.2 456.8,379.1 459.8,400.2 463.8,416.3 468.8,420.3 474.9,417.3 478.9,433.4 483.9,429.4 489.9,429.4 491.5,415.3 494,430.4 499,409.3 504,390.2 506,419.3 510,408.3 514,409.3 519.1,394.2 524.1,389.2 529.1,386.1 534.2,370.1 536.2,358 539.2,377.1 541.2,389.2 544.2,366.1 545.6,352" fill="none" stroke="#7E2F8E" stroke-width="1.6" stroke-opacity="0.62" stroke-linejoin="round"/>
<path d="M44.3 251h7.4M48 246.2v9.6M45.3 248l5.3 6M45.3 254l5.3 -6M50.3 238.6h7.4M54 233.8v9.6M51.3 235.6l5.3 6M51.3 241.6l5.3 -6M55.4 273.2h7.4M59.1 268.4v9.6M56.4 270.2l5.3 6M56.4 276.2l5.3 -6M61.4 284.2h7.4M65.1 279.4v9.6M62.4 281.2l5.3 6M62.4 287.2l5.3 -6M65.4 222.5h7.4M69.1 217.7v9.6M66.4 219.5l5.3 6M66.4 225.5l5.3 -6M70.4 174.3h7.4M74.1 169.5v9.6M71.4 171.3l5.3 6M71.4 177.3l5.3 -6M76.5 256.1h7.4M80.2 251.3v9.6M77.5 253.1l5.3 6M77.5 259.1l5.3 -6M80.5 227.5h7.4M84.2 222.7v9.6M81.5 224.5l5.3 6M81.5 230.5l5.3 -6M85.5 204.4h7.4M89.2 199.6v9.6M86.5 201.4l5.3 6M86.5 207.4l5.3 -6M91.5 175.3h7.4M95.2 170.5v9.6M92.5 172.3l5.3 6M92.5 178.3l5.3 -6M95.6 196.4h7.4M99.3 191.6v9.6M96.6 193.4l5.3 6M96.6 199.4l5.3 -6M100.6 252.1h7.4M104.3 247.3v9.6M101.6 249.1l5.3 6M101.6 255.1l5.3 -6M105.6 259.1h7.4M109.3 254.3v9.6M106.6 256.1l5.3 6M106.6 262.1l5.3 -6M110.6 271.2h7.4M114.3 266.4v9.6M111.6 268.2l5.3 6M111.6 274.2l5.3 -6M115.7 252.1h7.4M119.4 247.3v9.6M116.7 249.1l5.3 6M116.7 255.1l5.3 -6M121.7 256.1h7.4M125.4 251.3v9.6M122.7 253.1l5.3 6M122.7 259.1l5.3 -6M125.7 313.4h7.4M129.4 308.6v9.6M126.7 310.4l5.3 6M126.7 316.4l5.3 -6M129.7 350.6h7.4M133.4 345.8v9.6M130.7 347.6l5.3 6M130.7 353.6l5.3 -6M135.8 337.5h7.4M139.5 332.7v9.6M136.8 334.5l5.3 6M136.8 340.5l5.3 -6M139.8 355.6h7.4M143.5 350.8v9.6M140.8 352.6l5.3 6M140.8 358.6l5.3 -6M143.8 353.6h7.4M147.5 348.8v9.6M144.8 350.6l5.3 6M144.8 356.6l5.3 -6M150.8 352.6h7.4M154.5 347.8v9.6M151.8 349.6l5.3 6M151.8 355.6l5.3 -6M155.9 387.2h7.4M159.6 382.4v9.6M156.9 384.2l5.3 6M156.9 390.2l5.3 -6M159.9 388.2h7.4M163.6 383.4v9.6M160.9 385.2l5.3 6M160.9 391.2l5.3 -6M165.9 368.1h7.4M169.6 363.3v9.6M166.9 365.1l5.3 6M166.9 371.1l5.3 -6M170.9 368.1h7.4M174.6 363.3v9.6M171.9 365.1l5.3 6M171.9 371.1l5.3 -6M175.9 376.1h7.4M179.6 371.3v9.6M176.9 373.1l5.3 6M176.9 379.1l5.3 -6M180 391.2h7.4M183.7 386.4v9.6M181 388.2l5.3 6M181 394.2l5.3 -6M184 386.1h7.4M187.7 381.3v9.6M185 383.1l5.3 6M185 389.1l5.3 -6M191 401.2h7.4M194.7 396.4v9.6M192 398.2l5.3 6M192 404.2l5.3 -6M196 412.3h7.4M199.7 407.5v9.6M197 409.3l5.3 6M197 415.3l5.3 -6M201.1 395.2h7.4M204.8 390.4v9.6M202.1 392.2l5.3 6M202.1 398.2l5.3 -6M206.1 375.1h7.4M209.8 370.3v9.6M207.1 372.1l5.3 6M207.1 378.1l5.3 -6M211.1 339.5h7.4M214.8 334.7v9.6M212.1 336.5l5.3 6M212.1 342.5l5.3 -6M216.1 341.5h7.4M219.8 336.7v9.6M217.1 338.5l5.3 6M217.1 344.5l5.3 -6M221.2 271.2h7.4M224.9 266.4v9.6M222.2 268.2l5.3 6M222.2 274.2l5.3 -6M225.2 292.3h7.4M228.9 287.5v9.6M226.2 289.3l5.3 6M226.2 295.3l5.3 -6M230.2 265.1h7.4M233.9 260.3v9.6M231.2 262.1l5.3 6M231.2 268.1l5.3 -6M235.2 317.4h7.4M238.9 312.6v9.6M236.2 314.4l5.3 6M236.2 320.4l5.3 -6M240.3 286.2h7.4M244 281.4v9.6M241.3 283.2l5.3 6M241.3 289.2l5.3 -6M245.3 223.5h7.4M249 218.7v9.6M246.3 220.5l5.3 6M246.3 226.5l5.3 -6M250.3 97.5h7.4M254 92.7v9.6M251.3 94.5l5.3 6M251.3 100.5l5.3 -6M255.3 96.5h7.4M259 91.7v9.6M256.3 93.5l5.3 6M256.3 99.5l5.3 -6M261.3 52.3h7.4M265 47.5v9.6M262.3 49.3l5.3 6M262.3 55.3l5.3 -6M265.4 9h7.4M269.1 4.2v9.6M266.4 6l5.3 6M266.4 12l5.3 -6M270.4 88.4h7.4M274.1 83.6v9.6M271.4 85.4l5.3 6M271.4 91.4l5.3 -6M274.4 131h7.4M278.1 126.2v9.6M275.4 128l5.3 6M275.4 134l5.3 -6M280.5 102.5h7.4M284.2 97.7v9.6M281.5 99.5l5.3 6M281.5 105.5l5.3 -6M285.5 258.1h7.4M289.2 253.3v9.6M286.5 255.1l5.3 6M286.5 261.1l5.3 -6M290.5 238h7.4M294.2 233.2v9.6M291.5 235l5.3 6M291.5 241l5.3 -6M294.5 325.4h7.4M298.2 320.6v9.6M295.5 322.4l5.3 6M295.5 328.4l5.3 -6M296.3 325.4h7.4M300 320.6v9.6M297.3 322.4l5.3 6M297.3 328.4l5.3 -6M299.3 355.6h7.4M303 350.8v9.6M300.3 352.6l5.3 6M300.3 358.6l5.3 -6M305.4 310.4h7.4M309.1 305.6v9.6M306.4 307.4l5.3 6M306.4 313.4l5.3 -6M310.4 293.3h7.4M314.1 288.5v9.6M311.4 290.3l5.3 6M311.4 296.3l5.3 -6M315.4 226.5h7.4M319.1 221.7v9.6M316.4 223.5l5.3 6M316.4 229.5l5.3 -6M320.4 208.4h7.4M324.1 203.6v9.6M321.4 205.4l5.3 6M321.4 211.4l5.3 -6M325.5 315.4h7.4M329.2 310.6v9.6M326.5 312.4l5.3 6M326.5 318.4l5.3 -6M330.5 318.4h7.4M334.2 313.6v9.6M331.5 315.4l5.3 6M331.5 321.4l5.3 -6M334.5 402.2h7.4M338.2 397.4v9.6M335.5 399.2l5.3 6M335.5 405.2l5.3 -6M340.5 386.1h7.4M344.2 381.3v9.6M341.5 383.1l5.3 6M341.5 389.1l5.3 -6M345.6 401.2h7.4M349.3 396.4v9.6M346.6 398.2l5.3 6M346.6 404.2l5.3 -6M349.6 402.2h7.4M353.3 397.4v9.6M350.6 399.2l5.3 6M350.6 405.2l5.3 -6M355.6 396.2h7.4M359.3 391.4v9.6M356.6 393.2l5.3 6M356.6 399.2l5.3 -6M360.6 376.1h7.4M364.3 371.3v9.6M361.6 373.1l5.3 6M361.6 379.1l5.3 -6M364.7 389.2h7.4M368.4 384.4v9.6M365.7 386.2l5.3 6M365.7 392.2l5.3 -6M370.7 382.1h7.4M374.4 377.3v9.6M371.7 379.1l5.3 6M371.7 385.1l5.3 -6M375.7 361h7.4M379.4 356.2v9.6M376.7 358l5.3 6M376.7 364l5.3 -6M379.7 389.2h7.4M383.4 384.4v9.6M380.7 386.2l5.3 6M380.7 392.2l5.3 -6M385.8 367.1h7.4M389.5 362.3v9.6M386.8 364.1l5.3 6M386.8 370.1l5.3 -6M389.8 392.2h7.4M393.5 387.4v9.6M390.8 389.2l5.3 6M390.8 395.2l5.3 -6M394.8 419.3h7.4M398.5 414.5v9.6M395.8 416.3l5.3 6M395.8 422.3l5.3 -6M400.8 409.3h7.4M404.5 404.5v9.6M401.8 406.3l5.3 6M401.8 412.3l5.3 -6M405.8 421.3h7.4M409.5 416.5v9.6M406.8 418.3l5.3 6M406.8 424.3l5.3 -6M410.9 430.4h7.4M414.6 425.6v9.6M411.9 427.4l5.3 6M411.9 433.4l5.3 -6M415.9 425.3h7.4M419.6 420.5v9.6M416.9 422.3l5.3 6M416.9 428.3l5.3 -6M419.9 385.1h7.4M423.6 380.3v9.6M420.9 382.1l5.3 6M420.9 388.1l5.3 -6M425.9 367.1h7.4M429.6 362.3v9.6M426.9 364.1l5.3 6M426.9 370.1l5.3 -6M430 394.2h7.4M433.7 389.4v9.6M431 391.2l5.3 6M431 397.2l5.3 -6M435 395.2h7.4M438.7 390.4v9.6M436 392.2l5.3 6M436 398.2l5.3 -6M441 372.1h7.4M444.7 367.3v9.6M442 369.1l5.3 6M442 375.1l5.3 -6M445 385.1h7.4M448.7 380.3v9.6M446 382.1l5.3 6M446 388.1l5.3 -6M450.1 401.2h7.4M453.8 396.4v9.6M451.1 398.2l5.3 6M451.1 404.2l5.3 -6M456.1 400.2h7.4M459.8 395.4v9.6M457.1 397.2l5.3 6M457.1 403.2l5.3 -6M460.1 416.3h7.4M463.8 411.5v9.6M461.1 413.3l5.3 6M461.1 419.3l5.3 -6M465.1 420.3h7.4M468.8 415.5v9.6M466.1 417.3l5.3 6M466.1 423.3l5.3 -6M471.2 417.3h7.4M474.9 412.5v9.6M472.2 414.3l5.3 6M472.2 420.3l5.3 -6M475.2 433.4h7.4M478.9 428.6v9.6M476.2 430.4l5.3 6M476.2 436.4l5.3 -6M480.2 429.4h7.4M483.9 424.6v9.6M481.2 426.4l5.3 6M481.2 432.4l5.3 -6M486.2 429.4h7.4M489.9 424.6v9.6M487.2 426.4l5.3 6M487.2 432.4l5.3 -6M490.3 430.4h7.4M494 425.6v9.6M491.3 427.4l5.3 6M491.3 433.4l5.3 -6M495.3 409.3h7.4M499 404.5v9.6M496.3 406.3l5.3 6M496.3 412.3l5.3 -6M500.3 390.2h7.4M504 385.4v9.6M501.3 387.2l5.3 6M501.3 393.2l5.3 -6M506.3 408.3h7.4M510 403.5v9.6M507.3 405.3l5.3 6M507.3 411.3l5.3 -6M510.3 409.3h7.4M514 404.5v9.6M511.3 406.3l5.3 6M511.3 412.3l5.3 -6M515.4 394.2h7.4M519.1 389.4v9.6M516.4 391.2l5.3 6M516.4 397.2l5.3 -6M520.4 389.2h7.4M524.1 384.4v9.6M521.4 386.2l5.3 6M521.4 392.2l5.3 -6M525.4 386.1h7.4M529.1 381.3v9.6M526.4 383.1l5.3 6M526.4 389.1l5.3 -6M530.5 370.1h7.4M534.2 365.3v9.6M531.5 367.1l5.3 6M531.5 373.1l5.3 -6M535.5 377.1h7.4M539.2 372.3v9.6M536.5 374.1l5.3 6M536.5 380.1l5.3 -6M540.5 366.1h7.4M544.2 361.3v9.6M541.5 363.1l5.3 6M541.5 369.1l5.3 -6" stroke="#7E2F8E" stroke-width="1.4" fill="none"/>
</g>
<text class="tk" x="48" y="520.1" text-anchor="middle" transform="translate(48 0) scale(0.85 1) translate(-48 0)">0</text>
<text class="tk" x="97.8" y="520.1" text-anchor="middle" transform="translate(97.8 0) scale(0.85 1) translate(-97.8 0)">20</text>
<text class="tk" x="147.5" y="520.1" text-anchor="middle" transform="translate(147.5 0) scale(0.85 1) translate(-147.5 0)">40</text>
<text class="tk" x="197.3" y="520.1" text-anchor="middle" transform="translate(197.3 0) scale(0.85 1) translate(-197.3 0)">60</text>
<text class="tk" x="247" y="520.1" text-anchor="middle" transform="translate(247 0) scale(0.85 1) translate(-247 0)">80</text>
<text class="tk" x="296.8" y="520.1" text-anchor="middle" transform="translate(296.8 0) scale(0.85 1) translate(-296.8 0)">100</text>
<text class="tk" x="346.6" y="520.1" text-anchor="middle" transform="translate(346.6 0) scale(0.85 1) translate(-346.6 0)">120</text>
<text class="tk" x="396.3" y="520.1" text-anchor="middle" transform="translate(396.3 0) scale(0.85 1) translate(-396.3 0)">140</text>
<text class="tk" x="446.1" y="520.1" text-anchor="middle" transform="translate(446.1 0) scale(0.85 1) translate(-446.1 0)">160</text>
<text class="tk" x="495.8" y="520.1" text-anchor="middle" transform="translate(495.8 0) scale(0.85 1) translate(-495.8 0)">180</text>
<text class="tk" x="545.6" y="520.1" text-anchor="middle" transform="translate(545.6 0) scale(0.85 1) translate(-545.6 0)">200</text>
<text class="tk" x="40.5" y="501.7" text-anchor="end" transform="translate(40.5 0) scale(0.85 1) translate(-40.5 0)">0</text>
<text class="tk" x="40.5" y="405" text-anchor="end" transform="translate(40.5 0) scale(0.85 1) translate(-40.5 0)">0.2</text>
<text class="tk" x="40.5" y="308.3" text-anchor="end" transform="translate(40.5 0) scale(0.85 1) translate(-40.5 0)">0.4</text>
<text class="tk" x="40.5" y="211.7" text-anchor="end" transform="translate(40.5 0) scale(0.85 1) translate(-40.5 0)">0.6</text>
<text class="tk" x="40.5" y="115" text-anchor="end" transform="translate(40.5 0) scale(0.85 1) translate(-40.5 0)">0.8</text>
<text class="tk" x="40.5" y="18.3" text-anchor="end" transform="translate(40.5 0) scale(0.85 1) translate(-40.5 0)">1</text>
<text class="xl" x="296.1" y="544.2" text-anchor="middle" transform="translate(296.1 0) scale(0.85 1) translate(-296.1 0)">t</text>
<text class="yl" x="0" y="0" text-anchor="middle" transform="translate(6 250.5) rotate(-90)" dy="5">x</text>
<rect x="459.2" y="89.6" width="70.6" height="97.3" fill="#fff"/>
<path d="M459.2 89.6H529.8M459.2 186.9H529.8" stroke="#262626" stroke-width="1.3" fill="none"/>
<path d="M459.2 89.6V186.9M529.8 89.6V186.9" stroke="#555" stroke-width="1.5" fill="none"/>
<path d="M464 103.6H498.7" stroke="#0072BD" stroke-width="1.6"/>
<path d="M478.2 103.6h6.4M481.4 99v9.2M479.1 100.7l4.6 5.7M479.1 106.5l4.6 -5.7" stroke="#0072BD" stroke-width="1.1" fill="none"/>
<text class="lg" x="501.6" y="109.2" transform="translate(501.6 0) scale(0.85 1) translate(-501.6 0)">&#948;=0</text>
<path d="M464 127.3H498.7" stroke="#D95319" stroke-width="1.6"/>
<path d="M478.2 127.3h6.4M481.4 122.7v9.2M479.1 124.4l4.6 5.7M479.1 130.1l4.6 -5.7" stroke="#D95319" stroke-width="1.1" fill="none"/>
<text class="lg" x="501.6" y="132.9" transform="translate(501.6 0) scale(0.85 1) translate(-501.6 0)">&#948;=1</text>
<path d="M464 150.9H498.7" stroke="#EDB120" stroke-width="1.6"/>
<path d="M478.2 150.9h6.4M481.4 146.3v9.2M479.1 148.1l4.6 5.7M479.1 153.8l4.6 -5.7" stroke="#EDB120" stroke-width="1.1" fill="none"/>
<text class="lg" x="501.6" y="156.5" transform="translate(501.6 0) scale(0.85 1) translate(-501.6 0)">&#948;=2</text>
<path d="M464 174.6H498.7" stroke="#7E2F8E" stroke-width="1.6"/>
<path d="M478.2 174.6h6.4M481.4 170v9.2M479.1 171.8l4.6 5.7M479.1 177.5l4.6 -5.7" stroke="#7E2F8E" stroke-width="1.1" fill="none"/>
<text class="lg" x="501.6" y="180.2" transform="translate(501.6 0) scale(0.85 1) translate(-501.6 0)">&#948;=3</text>
<text class="cap" x="285.4" y="613.5" text-anchor="middle">(a)</text>
<path d="M735.6 6.8H1225M735.6 494.8H1225" stroke="#262626" stroke-width="1.3" fill="none"/>
<path d="M735.6 6.8V494.8" stroke="#6a6a6a" stroke-width="1.6" fill="none"/>
<path d="M1225 6.8V494.8" stroke="#3a3a3a" stroke-width="1.5" fill="none"/>
<path d="M735.6 494.8v-4M735.6 6.8v4M784.5 494.8v-4M784.5 6.8v4M833.5 494.8v-4M833.5 6.8v4M882.4 494.8v-4M882.4 6.8v4M931.4 494.8v-4M931.4 6.8v4M980.3 494.8v-4M980.3 6.8v4M1029.2 494.8v-4M1029.2 6.8v4M1078.2 494.8v-4M1078.2 6.8v4M1127.1 494.8v-4M1127.1 6.8v4M1176.1 494.8v-4M1176.1 6.8v4M1225 494.8v-4M1225 6.8v4M735.6 494.8h4M1225 494.8h-4M735.6 397.2h4M1225 397.2h-4M735.6 299.6h4M1225 299.6h-4M735.6 202h4M1225 202h-4M735.6 104.4h4M1225 104.4h-4M735.6 6.8h4M1225 6.8h-4" stroke="#262626" stroke-width="1.2" fill="none"/>
<g>
<polyline points="735.6,250.8 740.5,244.5 745.4,239 750.3,233.9 755.2,228.8 760.1,223.6 765,218.6 769.9,213.8 774.8,208.9 779.6,204 784.5,199.1 789.4,193.6 794.3,188 799.2,182.5 804.1,176.9 809,171.1 813.9,165.2 818.8,159.3 823.7,153.3 828.6,147.4 833.5,141.5 838.4,135.7 843.3,129.8 848.2,123.9 853.1,117.7 858,111 862.8,104.3 867.7,97.6 872.6,90.7 877.5,83.7 882.4,76.7 887.3,69.4 892.2,61.9 897.1,54.4 902,47 906.9,39.5 911.8,32 916.7,24.5 921.6,15.6 926.5,6.8 931.4,6.8 936.3,6.8 941.1,6.8 946,6.8 950.9,6.8 955.8,6.8 960.7,6.8 965.6,6.8 970.5,6.8 975.4,6.8 980.3,6.8 985.2,6.8 990.1,6.8 995,6.8 999.9,6.8 1004.8,6.8 1009.7,6.8 1014.6,6.8 1019.5,6.8 1024.3,6.8 1029.2,6.8 1034.1,6.8 1039,6.8 1043.9,6.8 1048.8,6.8 1053.7,6.8 1058.6,6.8 1063.5,6.8 1068.4,6.8 1073.3,6.8 1078.2,6.8 1083.1,6.8 1088,6.8 1092.9,6.8 1097.8,6.8 1102.7,6.8 1107.5,6.8 1112.4,6.8 1117.3,6.8 1122.2,6.8 1127.1,6.8 1132,6.8 1136.9,6.8 1141.8,6.8 1146.7,6.8 1151.6,6.8 1156.5,6.8 1161.4,6.8 1166.3,6.8 1171.2,6.8 1176.1,6.8 1181,6.8 1185.8,6.8 1190.7,6.8 1195.6,6.8 1200.5,6.8 1205.4,6.8 1210.3,6.8 1215.2,6.8 1220.1,6.8 1225,6.8" fill="none" stroke="#0072BD" stroke-width="1.6" stroke-opacity="0.62" stroke-linejoin="round"/>
<path d="M731.9 250.8h7.4M735.6 246v9.6M732.9 247.8l5.3 6M732.9 253.8l5.3 -6M736.8 244.5h7.4M740.5 239.7v9.6M737.8 241.6l5.3 6M737.8 247.5l5.3 -6M741.7 239h7.4M745.4 234.2v9.6M742.7 236.1l5.3 6M742.7 242l5.3 -6M746.6 233.9h7.4M750.3 229.1v9.6M747.6 230.9l5.3 6M747.6 236.9l5.3 -6M751.5 228.8h7.4M755.2 224v9.6M752.5 225.8l5.3 6M752.5 231.7l5.3 -6M756.4 223.6h7.4M760.1 218.8v9.6M757.4 220.7l5.3 6M757.4 226.6l5.3 -6M761.3 218.6h7.4M765 213.8v9.6M762.3 215.7l5.3 6M762.3 221.6l5.3 -6M766.2 213.8h7.4M769.9 209v9.6M767.2 210.8l5.3 6M767.2 216.8l5.3 -6M771.1 208.9h7.4M774.8 204.1v9.6M772.1 205.9l5.3 6M772.1 211.9l5.3 -6M775.9 204h7.4M779.6 199.2v9.6M777 201.1l5.3 6M777 207l5.3 -6M780.8 199.1h7.4M784.5 194.3v9.6M781.9 196.2l5.3 6M781.9 202.1l5.3 -6M785.7 193.6h7.4M789.4 188.8v9.6M786.8 190.6l5.3 6M786.8 196.5l5.3 -6M790.6 188h7.4M794.3 183.2v9.6M791.7 185l5.3 6M791.7 191l5.3 -6M795.5 182.5h7.4M799.2 177.7v9.6M796.6 179.5l5.3 6M796.6 185.4l5.3 -6M800.4 176.9h7.4M804.1 172.1v9.6M801.5 173.9l5.3 6M801.5 179.9l5.3 -6M805.3 171.1h7.4M809 166.3v9.6M806.3 168.2l5.3 6M806.3 174.1l5.3 -6M810.2 165.2h7.4M813.9 160.4v9.6M811.2 162.2l5.3 6M811.2 168.2l5.3 -6M815.1 159.3h7.4M818.8 154.5v9.6M816.1 156.3l5.3 6M816.1 162.3l5.3 -6M820 153.3h7.4M823.7 148.5v9.6M821 150.4l5.3 6M821 156.3l5.3 -6M824.9 147.4h7.4M828.6 142.6v9.6M825.9 144.4l5.3 6M825.9 150.4l5.3 -6M829.8 141.5h7.4M833.5 136.7v9.6M830.8 138.6l5.3 6M830.8 144.5l5.3 -6M834.7 135.7h7.4M838.4 130.9v9.6M835.7 132.7l5.3 6M835.7 138.6l5.3 -6M839.6 129.8h7.4M843.3 125v9.6M840.6 126.8l5.3 6M840.6 132.8l5.3 -6M844.5 123.9h7.4M848.2 119.1v9.6M845.5 120.9l5.3 6M845.5 126.9l5.3 -6M849.4 117.7h7.4M853.1 112.9v9.6M850.4 114.7l5.3 6M850.4 120.6l5.3 -6M854.2 111h7.4M858 106.2v9.6M855.3 108l5.3 6M855.3 114l5.3 -6M859.1 104.3h7.4M862.8 99.5v9.6M860.2 101.3l5.3 6M860.2 107.3l5.3 -6M864 97.6h7.4M867.7 92.8v9.6M865.1 94.7l5.3 6M865.1 100.6l5.3 -6M868.9 90.7h7.4M872.6 85.9v9.6M870 87.8l5.3 6M870 93.7l5.3 -6M873.8 83.7h7.4M877.5 78.9v9.6M874.9 80.7l5.3 6M874.9 86.7l5.3 -6M878.7 76.7h7.4M882.4 71.9v9.6M879.8 73.7l5.3 6M879.8 79.7l5.3 -6M883.6 69.4h7.4M887.3 64.6v9.6M884.7 66.4l5.3 6M884.7 72.4l5.3 -6M888.5 61.9h7.4M892.2 57.1v9.6M889.5 58.9l5.3 6M889.5 64.9l5.3 -6M893.4 54.4h7.4M897.1 49.6v9.6M894.4 51.5l5.3 6M894.4 57.4l5.3 -6M898.3 47h7.4M902 42.2v9.6M899.3 44l5.3 6M899.3 49.9l5.3 -6M903.2 39.5h7.4M906.9 34.7v9.6M904.2 36.5l5.3 6M904.2 42.4l5.3 -6M908.1 32h7.4M911.8 27.2v9.6M909.1 29l5.3 6M909.1 35l5.3 -6M913 24.5h7.4M916.7 19.7v9.6M914 21.5l5.3 6M914 27.5l5.3 -6M917.9 15.6h7.4M921.6 10.8v9.6M918.9 12.7l5.3 6M918.9 18.6l5.3 -6M922.8 6.8h7.4M926.5 2v9.6M923.8 3.8l5.3 6M923.8 9.8l5.3 -6M927.7 6.8h7.4M931.4 2v9.6M928.7 3.8l5.3 6M928.7 9.8l5.3 -6M932.6 6.8h7.4M936.3 2v9.6M933.6 3.8l5.3 6M933.6 9.8l5.3 -6M937.4 6.8h7.4M941.1 2v9.6M938.5 3.8l5.3 6M938.5 9.8l5.3 -6M942.3 6.8h7.4M946 2v9.6M943.4 3.8l5.3 6M943.4 9.8l5.3 -6M947.2 6.8h7.4M950.9 2v9.6M948.3 3.8l5.3 6M948.3 9.8l5.3 -6M952.1 6.8h7.4M955.8 2v9.6M953.2 3.8l5.3 6M953.2 9.8l5.3 -6M957 6.8h7.4M960.7 2v9.6M958.1 3.8l5.3 6M958.1 9.8l5.3 -6M961.9 6.8h7.4M965.6 2v9.6M963 3.8l5.3 6M963 9.8l5.3 -6M966.8 6.8h7.4M970.5 2v9.6M967.8 3.8l5.3 6M967.8 9.8l5.3 -6M971.7 6.8h7.4M975.4 2v9.6M972.7 3.8l5.3 6M972.7 9.8l5.3 -6M976.6 6.8h7.4M980.3 2v9.6M977.6 3.8l5.3 6M977.6 9.8l5.3 -6M981.5 6.8h7.4M985.2 2v9.6M982.5 3.8l5.3 6M982.5 9.8l5.3 -6M986.4 6.8h7.4M990.1 2v9.6M987.4 3.8l5.3 6M987.4 9.8l5.3 -6M991.3 6.8h7.4M995 2v9.6M992.3 3.8l5.3 6M992.3 9.8l5.3 -6M996.2 6.8h7.4M999.9 2v9.6M997.2 3.8l5.3 6M997.2 9.8l5.3 -6M1001.1 6.8h7.4M1004.8 2v9.6M1002.1 3.8l5.3 6M1002.1 9.8l5.3 -6M1006 6.8h7.4M1009.7 2v9.6M1007 3.8l5.3 6M1007 9.8l5.3 -6M1010.9 6.8h7.4M1014.6 2v9.6M1011.9 3.8l5.3 6M1011.9 9.8l5.3 -6M1015.8 6.8h7.4M1019.5 2v9.6M1016.8 3.8l5.3 6M1016.8 9.8l5.3 -6M1020.6 6.8h7.4M1024.3 2v9.6M1021.7 3.8l5.3 6M1021.7 9.8l5.3 -6M1025.5 6.8h7.4M1029.2 2v9.6M1026.6 3.8l5.3 6M1026.6 9.8l5.3 -6M1030.4 6.8h7.4M1034.1 2v9.6M1031.5 3.8l5.3 6M1031.5 9.8l5.3 -6M1035.3 6.8h7.4M1039 2v9.6M1036.4 3.8l5.3 6M1036.4 9.8l5.3 -6M1040.2 6.8h7.4M1043.9 2v9.6M1041.3 3.8l5.3 6M1041.3 9.8l5.3 -6M1045.1 6.8h7.4M1048.8 2v9.6M1046.2 3.8l5.3 6M1046.2 9.8l5.3 -6M1050 6.8h7.4M1053.7 2v9.6M1051 3.8l5.3 6M1051 9.8l5.3 -6M1054.9 6.8h7.4M1058.6 2v9.6M1055.9 3.8l5.3 6M1055.9 9.8l5.3 -6M1059.8 6.8h7.4M1063.5 2v9.6M1060.8 3.8l5.3 6M1060.8 9.8l5.3 -6M1064.7 6.8h7.4M1068.4 2v9.6M1065.7 3.8l5.3 6M1065.7 9.8l5.3 -6M1069.6 6.8h7.4M1073.3 2v9.6M1070.6 3.8l5.3 6M1070.6 9.8l5.3 -6M1074.5 6.8h7.4M1078.2 2v9.6M1075.5 3.8l5.3 6M1075.5 9.8l5.3 -6M1079.4 6.8h7.4M1083.1 2v9.6M1080.4 3.8l5.3 6M1080.4 9.8l5.3 -6M1084.3 6.8h7.4M1088 2v9.6M1085.3 3.8l5.3 6M1085.3 9.8l5.3 -6M1089.2 6.8h7.4M1092.9 2v9.6M1090.2 3.8l5.3 6M1090.2 9.8l5.3 -6M1094.1 6.8h7.4M1097.8 2v9.6M1095.1 3.8l5.3 6M1095.1 9.8l5.3 -6M1099 6.8h7.4M1102.7 2v9.6M1100 3.8l5.3 6M1100 9.8l5.3 -6M1103.8 6.8h7.4M1107.5 2v9.6M1104.9 3.8l5.3 6M1104.9 9.8l5.3 -6M1108.7 6.8h7.4M1112.4 2v9.6M1109.8 3.8l5.3 6M1109.8 9.8l5.3 -6M1113.6 6.8h7.4M1117.3 2v9.6M1114.7 3.8l5.3 6M1114.7 9.8l5.3 -6M1118.5 6.8h7.4M1122.2 2v9.6M1119.6 3.8l5.3 6M1119.6 9.8l5.3 -6M1123.4 6.8h7.4M1127.1 2v9.6M1124.5 3.8l5.3 6M1124.5 9.8l5.3 -6M1128.3 6.8h7.4M1132 2v9.6M1129.4 3.8l5.3 6M1129.4 9.8l5.3 -6M1133.2 6.8h7.4M1136.9 2v9.6M1134.2 3.8l5.3 6M1134.2 9.8l5.3 -6M1138.1 6.8h7.4M1141.8 2v9.6M1139.1 3.8l5.3 6M1139.1 9.8l5.3 -6M1143 6.8h7.4M1146.7 2v9.6M1144 3.8l5.3 6M1144 9.8l5.3 -6M1147.9 6.8h7.4M1151.6 2v9.6M1148.9 3.8l5.3 6M1148.9 9.8l5.3 -6M1152.8 6.8h7.4M1156.5 2v9.6M1153.8 3.8l5.3 6M1153.8 9.8l5.3 -6M1157.7 6.8h7.4M1161.4 2v9.6M1158.7 3.8l5.3 6M1158.7 9.8l5.3 -6M1162.6 6.8h7.4M1166.3 2v9.6M1163.6 3.8l5.3 6M1163.6 9.8l5.3 -6M1167.5 6.8h7.4M1171.2 2v9.6M1168.5 3.8l5.3 6M1168.5 9.8l5.3 -6M1172.4 6.8h7.4M1176.1 2v9.6M1173.4 3.8l5.3 6M1173.4 9.8l5.3 -6M1177.3 6.8h7.4M1181 2v9.6M1178.3 3.8l5.3 6M1178.3 9.8l5.3 -6M1182.1 6.8h7.4M1185.8 2v9.6M1183.2 3.8l5.3 6M1183.2 9.8l5.3 -6M1187 6.8h7.4M1190.7 2v9.6M1188.1 3.8l5.3 6M1188.1 9.8l5.3 -6M1191.9 6.8h7.4M1195.6 2v9.6M1193 3.8l5.3 6M1193 9.8l5.3 -6M1196.8 6.8h7.4M1200.5 2v9.6M1197.9 3.8l5.3 6M1197.9 9.8l5.3 -6M1201.7 6.8h7.4M1205.4 2v9.6M1202.8 3.8l5.3 6M1202.8 9.8l5.3 -6M1206.6 6.8h7.4M1210.3 2v9.6M1207.7 3.8l5.3 6M1207.7 9.8l5.3 -6M1211.5 6.8h7.4M1215.2 2v9.6M1212.5 3.8l5.3 6M1212.5 9.8l5.3 -6M1216.4 6.8h7.4M1220.1 2v9.6M1217.4 3.8l5.3 6M1217.4 9.8l5.3 -6M1221.3 6.8h7.4M1225 2v9.6M1222.3 3.8l5.3 6M1222.3 9.8l5.3 -6" stroke="#0072BD" stroke-width="1.4" fill="none"/>
<polyline points="735.6,250.8 742,235.6 752.3,240.9 758.1,255.1 762.6,238.3 767.1,236.4 771.6,224.8 776.7,223.5 781.9,238.3 785.3,247.1 787,243.5 796.7,206.2 800.5,221.6 805,218.4 811.5,221.6 816.6,224.2 820.5,239.6 825.6,226.1 830.1,226.7 834.6,239 839.8,212 844.3,218.4 849.5,210 854.5,204.9 859.7,196.5 865.5,196.5 869.8,156.2 874.6,123.4 880,161.7 884.6,190.7 889.1,151.4 892.1,139.5 894.7,154.5 899.5,115.7 903.7,129.2 909.2,110 913.9,77.4 918.9,37.2 923.9,29.1 928.9,6.6 933.8,6.6 936,25.1 939,18.1 943.6,6.6 948,25.1 951,39.2 953,30.1 958,17.1 960,11 962.1,43.2 968.1,50.2 970.1,38.2 973.2,62.3 977.2,28.1 982.2,6.6 988.1,7 990.1,27.1 993.1,7 998.1,7 1002.1,28.1 1007.2,7 1010.2,17.1 1012.2,7 1017.2,10 1022.2,7 1027.3,15.1 1032.3,7 1037.3,7 1041,7 1044.3,15.1 1050.4,58.3 1056.4,65.3 1060.4,34.2 1063.4,9 1065.4,34.2 1069.5,9 1075.5,62.3 1080.5,100.5 1085.5,82.4 1090.6,51.2 1094.6,46.2 1098.6,33.2 1102.6,52.3 1105.6,30.1 1110.7,44.2 1115.7,29.1 1118.7,45.2 1122.7,7 1127.7,7 1132.7,7 1137.7,7 1142.7,7 1149.8,12.1 1154.9,20.1 1157.9,56.3 1158.9,47.2 1165,7 1170,7 1174,25.1 1178,14.1 1184,13.1 1189,40.2 1193,12.1 1198.1,53.3 1203.1,62.3 1208.1,76.4 1211.1,115.6 1214.1,84.4 1218.2,60.3 1223.2,12.1 1225,20" fill="none" stroke="#D95319" stroke-width="1.6" stroke-opacity="0.62" stroke-linejoin="round"/>
<path d="M731.9 250.8h7.4M735.6 246v9.6M732.9 247.8l5.3 6M732.9 253.8l5.3 -6M738.3 235.6h7.4M742 230.8v9.6M739.3 232.6l5.3 6M739.3 238.6l5.3 -6M748.6 240.9h7.4M752.3 236.1v9.6M749.6 237.9l5.3 6M749.6 243.9l5.3 -6M758.9 238.3h7.4M762.6 233.5v9.6M759.9 235.3l5.3 6M759.9 241.3l5.3 -6M763.4 236.4h7.4M767.1 231.6v9.6M764.4 233.4l5.3 6M764.4 239.4l5.3 -6M767.9 224.8h7.4M771.6 220v9.6M768.9 221.8l5.3 6M768.9 227.8l5.3 -6M773 223.5h7.4M776.7 218.7v9.6M774 220.5l5.3 6M774 226.5l5.3 -6M778.2 238.3h7.4M781.9 233.5v9.6M779.2 235.3l5.3 6M779.2 241.3l5.3 -6M783.3 243.5h7.4M787 238.7v9.6M784.3 240.5l5.3 6M784.3 246.5l5.3 -6M793 206.2h7.4M796.7 201.4v9.6M794 203.2l5.3 6M794 209.2l5.3 -6M796.8 221.6h7.4M800.5 216.8v9.6M797.8 218.6l5.3 6M797.8 224.6l5.3 -6M801.3 218.4h7.4M805 213.6v9.6M802.3 215.4l5.3 6M802.3 221.4l5.3 -6M807.8 221.6h7.4M811.5 216.8v9.6M808.8 218.6l5.3 6M808.8 224.6l5.3 -6M812.9 224.2h7.4M816.6 219.4v9.6M813.9 221.2l5.3 6M813.9 227.2l5.3 -6M816.8 239.6h7.4M820.5 234.8v9.6M817.8 236.6l5.3 6M817.8 242.6l5.3 -6M821.9 226.1h7.4M825.6 221.3v9.6M822.9 223.1l5.3 6M822.9 229.1l5.3 -6M826.4 226.7h7.4M830.1 221.9v9.6M827.4 223.7l5.3 6M827.4 229.7l5.3 -6M830.9 239h7.4M834.6 234.2v9.6M831.9 236l5.3 6M831.9 242l5.3 -6M836.1 212h7.4M839.8 207.2v9.6M837.1 209l5.3 6M837.1 215l5.3 -6M840.6 218.4h7.4M844.3 213.6v9.6M841.6 215.4l5.3 6M841.6 221.4l5.3 -6M850.8 204.9h7.4M854.5 200.1v9.6M851.8 201.9l5.3 6M851.8 207.9l5.3 -6M856 196.5h7.4M859.7 191.7v9.6M857 193.5l5.3 6M857 199.5l5.3 -6M861.8 196.5h7.4M865.5 191.7v9.6M862.8 193.5l5.3 6M862.8 199.5l5.3 -6M866.1 156.2h7.4M869.8 151.4v9.6M867.1 153.2l5.3 6M867.1 159.2l5.3 -6M870.9 123.4h7.4M874.6 118.6v9.6M871.9 120.4l5.3 6M871.9 126.4l5.3 -6M876.3 161.7h7.4M880 156.9v9.6M877.3 158.7l5.3 6M877.3 164.7l5.3 -6M880.9 190.7h7.4M884.6 185.9v9.6M881.9 187.7l5.3 6M881.9 193.7l5.3 -6M885.4 151.4h7.4M889.1 146.6v9.6M886.4 148.4l5.3 6M886.4 154.4l5.3 -6M891 154.5h7.4M894.7 149.7v9.6M892 151.5l5.3 6M892 157.5l5.3 -6M895.8 115.7h7.4M899.5 110.9v9.6M896.8 112.7l5.3 6M896.8 118.7l5.3 -6M900 129.2h7.4M903.7 124.4v9.6M901 126.2l5.3 6M901 132.2l5.3 -6M905.5 110h7.4M909.2 105.2v9.6M906.5 107l5.3 6M906.5 113l5.3 -6M910.2 77.4h7.4M913.9 72.6v9.6M911.2 74.4l5.3 6M911.2 80.4l5.3 -6M915.2 37.2h7.4M918.9 32.4v9.6M916.2 34.2l5.3 6M916.2 40.2l5.3 -6M920.2 29.1h7.4M923.9 24.3v9.6M921.2 26.1l5.3 6M921.2 32.1l5.3 -6M925.2 6.6h7.4M928.9 1.8v9.6M926.2 3.6l5.3 6M926.2 9.6l5.3 -6M930.1 6.6h7.4M933.8 1.8v9.6M931.1 3.6l5.3 6M931.1 9.6l5.3 -6M935.3 18.1h7.4M939 13.3v9.6M936.3 15.1l5.3 6M936.3 21.1l5.3 -6M939.9 6.6h7.4M943.6 1.8v9.6M940.9 3.6l5.3 6M940.9 9.6l5.3 -6M944.3 25.1h7.4M948 20.3v9.6M945.3 22.1l5.3 6M945.3 28.1l5.3 -6M949.3 30.1h7.4M953 25.3v9.6M950.3 27.1l5.3 6M950.3 33.1l5.3 -6M954.3 17.1h7.4M958 12.3v9.6M955.3 14.1l5.3 6M955.3 20.1l5.3 -6M958.4 43.2h7.4M962.1 38.4v9.6M959.4 40.2l5.3 6M959.4 46.2l5.3 -6M964.4 50.2h7.4M968.1 45.4v9.6M965.4 47.2l5.3 6M965.4 53.2l5.3 -6M969.5 62.3h7.4M973.2 57.5v9.6M970.5 59.3l5.3 6M970.5 65.3l5.3 -6M973.5 28.1h7.4M977.2 23.3v9.6M974.5 25.1l5.3 6M974.5 31.1l5.3 -6M978.5 6.6h7.4M982.2 1.8v9.6M979.5 3.6l5.3 6M979.5 9.6l5.3 -6M984.4 7h7.4M988.1 2.2v9.6M985.4 4l5.3 6M985.4 10l5.3 -6M989.4 7h7.4M993.1 2.2v9.6M990.4 4l5.3 6M990.4 10l5.3 -6M994.4 7h7.4M998.1 2.2v9.6M995.4 4l5.3 6M995.4 10l5.3 -6M998.4 28.1h7.4M1002.1 23.3v9.6M999.4 25.1l5.3 6M999.4 31.1l5.3 -6M1003.5 7h7.4M1007.2 2.2v9.6M1004.5 4l5.3 6M1004.5 10l5.3 -6M1008.5 7h7.4M1012.2 2.2v9.6M1009.5 4l5.3 6M1009.5 10l5.3 -6M1013.5 10h7.4M1017.2 5.2v9.6M1014.5 7l5.3 6M1014.5 13l5.3 -6M1018.5 7h7.4M1022.2 2.2v9.6M1019.5 4l5.3 6M1019.5 10l5.3 -6M1023.6 15.1h7.4M1027.3 10.3v9.6M1024.6 12.1l5.3 6M1024.6 18.1l5.3 -6M1028.6 7h7.4M1032.3 2.2v9.6M1029.6 4l5.3 6M1029.6 10l5.3 -6M1033.6 7h7.4M1037.3 2.2v9.6M1034.6 4l5.3 6M1034.6 10l5.3 -6M1037.3 7h7.4M1041 2.2v9.6M1038.3 4l5.3 6M1038.3 10l5.3 -6M1046.7 58.3h7.4M1050.4 53.5v9.6M1047.7 55.3l5.3 6M1047.7 61.3l5.3 -6M1052.7 65.3h7.4M1056.4 60.5v9.6M1053.7 62.3l5.3 6M1053.7 68.3l5.3 -6M1056.7 34.2h7.4M1060.4 29.4v9.6M1057.7 31.2l5.3 6M1057.7 37.2l5.3 -6M1061.7 34.2h7.4M1065.4 29.4v9.6M1062.7 31.2l5.3 6M1062.7 37.2l5.3 -6M1071.8 62.3h7.4M1075.5 57.5v9.6M1072.8 59.3l5.3 6M1072.8 65.3l5.3 -6M1076.8 100.5h7.4M1080.5 95.7v9.6M1077.8 97.5l5.3 6M1077.8 103.5l5.3 -6M1081.8 82.4h7.4M1085.5 77.6v9.6M1082.8 79.4l5.3 6M1082.8 85.4l5.3 -6M1086.9 51.2h7.4M1090.6 46.4v9.6M1087.9 48.2l5.3 6M1087.9 54.2l5.3 -6M1090.9 46.2h7.4M1094.6 41.4v9.6M1091.9 43.2l5.3 6M1091.9 49.2l5.3 -6M1094.9 33.2h7.4M1098.6 28.4v9.6M1095.9 30.2l5.3 6M1095.9 36.2l5.3 -6M1101.9 30.1h7.4M1105.6 25.3v9.6M1102.9 27.1l5.3 6M1102.9 33.1l5.3 -6M1107 44.2h7.4M1110.7 39.4v9.6M1108 41.2l5.3 6M1108 47.2l5.3 -6M1112 29.1h7.4M1115.7 24.3v9.6M1113 26.1l5.3 6M1113 32.1l5.3 -6M1115 45.2h7.4M1118.7 40.4v9.6M1116 42.2l5.3 6M1116 48.2l5.3 -6M1119 7h7.4M1122.7 2.2v9.6M1120 4l5.3 6M1120 10l5.3 -6M1124 7h7.4M1127.7 2.2v9.6M1125 4l5.3 6M1125 10l5.3 -6M1129 7h7.4M1132.7 2.2v9.6M1130 4l5.3 6M1130 10l5.3 -6M1134 7h7.4M1137.7 2.2v9.6M1135 4l5.3 6M1135 10l5.3 -6M1139 7h7.4M1142.7 2.2v9.6M1140 4l5.3 6M1140 10l5.3 -6M1146.1 12.1h7.4M1149.8 7.3v9.6M1147.1 9.1l5.3 6M1147.1 15.1l5.3 -6M1151.2 20.1h7.4M1154.9 15.3v9.6M1152.2 17.1l5.3 6M1152.2 23.1l5.3 -6M1155.2 47.2h7.4M1158.9 42.4v9.6M1156.2 44.2l5.3 6M1156.2 50.2l5.3 -6M1161.3 7h7.4M1165 2.2v9.6M1162.3 4l5.3 6M1162.3 10l5.3 -6M1166.3 7h7.4M1170 2.2v9.6M1167.3 4l5.3 6M1167.3 10l5.3 -6M1170.3 25.1h7.4M1174 20.3v9.6M1171.3 22.1l5.3 6M1171.3 28.1l5.3 -6M1174.3 14.1h7.4M1178 9.3v9.6M1175.3 11.1l5.3 6M1175.3 17.1l5.3 -6M1180.3 13.1h7.4M1184 8.3v9.6M1181.3 10.1l5.3 6M1181.3 16.1l5.3 -6M1185.3 40.2h7.4M1189 35.4v9.6M1186.3 37.2l5.3 6M1186.3 43.2l5.3 -6M1189.3 12.1h7.4M1193 7.3v9.6M1190.3 9.1l5.3 6M1190.3 15.1l5.3 -6M1194.4 53.3h7.4M1198.1 48.5v9.6M1195.4 50.3l5.3 6M1195.4 56.3l5.3 -6M1199.4 62.3h7.4M1203.1 57.5v9.6M1200.4 59.3l5.3 6M1200.4 65.3l5.3 -6M1204.4 76.4h7.4M1208.1 71.6v9.6M1205.4 73.4l5.3 6M1205.4 79.4l5.3 -6M1210.4 84.4h7.4M1214.1 79.6v9.6M1211.4 81.4l5.3 6M1211.4 87.4l5.3 -6M1214.5 60.3h7.4M1218.2 55.5v9.6M1215.5 57.3l5.3 6M1215.5 63.3l5.3 -6M1219.5 12.1h7.4M1223.2 7.3v9.6M1220.5 9.1l5.3 6M1220.5 15.1l5.3 -6M1221.3 20h7.4M1225 15.2v9.6M1222.3 17l5.3 6M1222.3 23l5.3 -6" stroke="#D95319" stroke-width="1.4" fill="none"/>
<polyline points="735.6,250.8 742,271.2 747.1,289.3 752.1,330.5 757.1,337.5 759.1,343.5 762.1,329.5 767.2,319.4 772.2,284.2 776.2,256.1 781.2,293.3 784.3,264.1 786.3,286.2 791.3,267.2 796.3,258.1 799,236 801.2,223.5 803.3,274.2 805.4,265.1 808,235 810.8,234.5 815.3,213.9 825.4,73.4 830.1,96 834.9,61.3 838.5,133.7 839.8,153 844.5,180.3 850,190.1 855.2,163.3 857.6,216.5 859.8,148.8 862,164 864.6,105 869.5,125 872.7,104 874.6,113.2 879.7,42.2 885.2,99.3 886.9,120.2 889.4,100 891.8,56.3 894.7,118.9 899.2,145.9 903.8,200.4 907.5,231.9 912,220.3 919.1,207.4 924.2,226.7 928.7,227.4 932,271.2 939,243 942.9,211.3 947.4,146 950.6,102.2 953.2,130.5 955.8,176.6 958.3,151.7 963.5,192 968.6,237.7 970.1,250.1 972.5,242.2 977.6,228.7 982.8,213.2 985.2,250.1 987.5,245 992.4,230 996.9,238.3 999.5,220.3 1002.1,221.5 1006.1,159.2 1010.2,137.1 1012.2,148.1 1017.2,172.3 1021.2,141.1 1027.3,85.4 1029.3,94.5 1033.3,7 1039.3,7 1044.3,7 1049.4,33.2 1050.4,21.1 1054.4,7 1059.4,7 1064.4,7 1071.5,33.2 1076,7 1078.5,15.1 1080.5,7 1085.5,26.1 1090.6,7 1095.6,54.3 1100.6,7 1105.6,7 1110.7,59.3 1115.7,117.6 1119.7,105.5 1124.7,43.2 1127.7,54.3 1130.7,37.2 1134.8,27.1 1139.8,7 1144.8,32.2 1149.8,7 1154.8,7 1158.5,7 1161.9,70.3 1162.9,53.3 1169,40.2 1174,56.3 1177,45.2 1179,114.5 1184,80.4 1189,26.1 1191,103.5 1193,67.3 1196,24 1199.1,79.4 1201.1,104.5 1204.1,29.1 1208.1,42.2 1213.1,35.2 1216.2,8 1219.2,45.2 1223.2,81.4 1225,66.3" fill="none" stroke="#EDB120" stroke-width="1.6" stroke-opacity="0.62" stroke-linejoin="round"/>
<path d="M731.9 250.8h7.4M735.6 246v9.6M732.9 247.8l5.3 6M732.9 253.8l5.3 -6M738.3 271.2h7.4M742 266.4v9.6M739.3 268.2l5.3 6M739.3 274.2l5.3 -6M743.4 289.3h7.4M747.1 284.5v9.6M744.4 286.3l5.3 6M744.4 292.3l5.3 -6M748.4 330.5h7.4M752.1 325.7v9.6M749.4 327.5l5.3 6M749.4 333.5l5.3 -6M753.4 337.5h7.4M757.1 332.7v9.6M754.4 334.5l5.3 6M754.4 340.5l5.3 -6M758.4 329.5h7.4M762.1 324.7v9.6M759.4 326.5l5.3 6M759.4 332.5l5.3 -6M763.5 319.4h7.4M767.2 314.6v9.6M764.5 316.4l5.3 6M764.5 322.4l5.3 -6M768.5 284.2h7.4M772.2 279.4v9.6M769.5 281.2l5.3 6M769.5 287.2l5.3 -6M772.5 256.1h7.4M776.2 251.3v9.6M773.5 253.1l5.3 6M773.5 259.1l5.3 -6M777.5 293.3h7.4M781.2 288.5v9.6M778.5 290.3l5.3 6M778.5 296.3l5.3 -6M782.6 286.2h7.4M786.3 281.4v9.6M783.6 283.2l5.3 6M783.6 289.2l5.3 -6M787.6 267.2h7.4M791.3 262.4v9.6M788.6 264.2l5.3 6M788.6 270.2l5.3 -6M792.6 258.1h7.4M796.3 253.3v9.6M793.6 255.1l5.3 6M793.6 261.1l5.3 -6M797.5 223.5h7.4M801.2 218.7v9.6M798.5 220.5l5.3 6M798.5 226.5l5.3 -6M801.7 265.1h7.4M805.4 260.3v9.6M802.7 262.1l5.3 6M802.7 268.1l5.3 -6M807.1 234.5h7.4M810.8 229.7v9.6M808.1 231.5l5.3 6M808.1 237.5l5.3 -6M811.6 213.9h7.4M815.3 209.1v9.6M812.6 210.9l5.3 6M812.6 216.9l5.3 -6M821.7 73.4h7.4M825.4 68.6v9.6M822.7 70.4l5.3 6M822.7 76.4l5.3 -6M826.4 96h7.4M830.1 91.2v9.6M827.4 93l5.3 6M827.4 99l5.3 -6M831.2 61.3h7.4M834.9 56.5v9.6M832.2 58.3l5.3 6M832.2 64.3l5.3 -6M836.1 153h7.4M839.8 148.2v9.6M837.1 150l5.3 6M837.1 156l5.3 -6M846.3 190.1h7.4M850 185.3v9.6M847.3 187.1l5.3 6M847.3 193.1l5.3 -6M851.5 163.3h7.4M855.2 158.5v9.6M852.5 160.3l5.3 6M852.5 166.3l5.3 -6M856.1 148.8h7.4M859.8 144v9.6M857.1 145.8l5.3 6M857.1 151.8l5.3 -6M860.9 105h7.4M864.6 100.2v9.6M861.9 102l5.3 6M861.9 108l5.3 -6M865.8 125h7.4M869.5 120.2v9.6M866.8 122l5.3 6M866.8 128l5.3 -6M870.9 113.2h7.4M874.6 108.4v9.6M871.9 110.2l5.3 6M871.9 116.2l5.3 -6M876 42.2h7.4M879.7 37.4v9.6M877 39.2l5.3 6M877 45.2l5.3 -6M881.5 99.3h7.4M885.2 94.5v9.6M882.5 96.3l5.3 6M882.5 102.3l5.3 -6M885.7 100h7.4M889.4 95.2v9.6M886.7 97l5.3 6M886.7 103l5.3 -6M891 118.9h7.4M894.7 114.1v9.6M892 115.9l5.3 6M892 121.9l5.3 -6M895.5 145.9h7.4M899.2 141.1v9.6M896.5 142.9l5.3 6M896.5 148.9l5.3 -6M900.1 200.4h7.4M903.8 195.6v9.6M901.1 197.4l5.3 6M901.1 203.4l5.3 -6M908.3 220.3h7.4M912 215.5v9.6M909.3 217.3l5.3 6M909.3 223.3l5.3 -6M915.4 207.4h7.4M919.1 202.6v9.6M916.4 204.4l5.3 6M916.4 210.4l5.3 -6M920.5 226.7h7.4M924.2 221.9v9.6M921.5 223.7l5.3 6M921.5 229.7l5.3 -6M925 227.4h7.4M928.7 222.6v9.6M926 224.4l5.3 6M926 230.4l5.3 -6M928.3 271.2h7.4M932 266.4v9.6M929.3 268.2l5.3 6M929.3 274.2l5.3 -6M935.3 243h7.4M939 238.2v9.6M936.3 240l5.3 6M936.3 246l5.3 -6M939.2 211.3h7.4M942.9 206.5v9.6M940.2 208.3l5.3 6M940.2 214.3l5.3 -6M943.7 146h7.4M947.4 141.2v9.6M944.7 143l5.3 6M944.7 149l5.3 -6M949.5 130.5h7.4M953.2 125.7v9.6M950.5 127.5l5.3 6M950.5 133.5l5.3 -6M954.6 151.7h7.4M958.3 146.9v9.6M955.6 148.7l5.3 6M955.6 154.7l5.3 -6M959.8 192h7.4M963.5 187.2v9.6M960.8 189l5.3 6M960.8 195l5.3 -6M964.9 237.7h7.4M968.6 232.9v9.6M965.9 234.7l5.3 6M965.9 240.7l5.3 -6M968.8 242.2h7.4M972.5 237.4v9.6M969.8 239.2l5.3 6M969.8 245.2l5.3 -6M973.9 228.7h7.4M977.6 223.9v9.6M974.9 225.7l5.3 6M974.9 231.7l5.3 -6M979.1 213.2h7.4M982.8 208.4v9.6M980.1 210.2l5.3 6M980.1 216.2l5.3 -6M983.8 245h7.4M987.5 240.2v9.6M984.8 242l5.3 6M984.8 248l5.3 -6M988.7 230h7.4M992.4 225.2v9.6M989.7 227l5.3 6M989.7 233l5.3 -6M993.2 238.3h7.4M996.9 233.5v9.6M994.2 235.3l5.3 6M994.2 241.3l5.3 -6M995.8 220.3h7.4M999.5 215.5v9.6M996.8 217.3l5.3 6M996.8 223.3l5.3 -6M998.4 221.5h7.4M1002.1 216.7v9.6M999.4 218.5l5.3 6M999.4 224.5l5.3 -6M1002.4 159.2h7.4M1006.1 154.4v9.6M1003.4 156.2l5.3 6M1003.4 162.2l5.3 -6M1008.5 148.1h7.4M1012.2 143.3v9.6M1009.5 145.1l5.3 6M1009.5 151.1l5.3 -6M1013.5 172.3h7.4M1017.2 167.5v9.6M1014.5 169.3l5.3 6M1014.5 175.3l5.3 -6M1017.5 141.1h7.4M1021.2 136.3v9.6M1018.5 138.1l5.3 6M1018.5 144.1l5.3 -6M1023.6 85.4h7.4M1027.3 80.6v9.6M1024.6 82.4l5.3 6M1024.6 88.4l5.3 -6M1029.6 7h7.4M1033.3 2.2v9.6M1030.6 4l5.3 6M1030.6 10l5.3 -6M1035.6 7h7.4M1039.3 2.2v9.6M1036.6 4l5.3 6M1036.6 10l5.3 -6M1040.6 7h7.4M1044.3 2.2v9.6M1041.6 4l5.3 6M1041.6 10l5.3 -6M1046.7 21.1h7.4M1050.4 16.3v9.6M1047.7 18.1l5.3 6M1047.7 24.1l5.3 -6M1050.7 7h7.4M1054.4 2.2v9.6M1051.7 4l5.3 6M1051.7 10l5.3 -6M1055.7 7h7.4M1059.4 2.2v9.6M1056.7 4l5.3 6M1056.7 10l5.3 -6M1060.7 7h7.4M1064.4 2.2v9.6M1061.7 4l5.3 6M1061.7 10l5.3 -6M1067.8 33.2h7.4M1071.5 28.4v9.6M1068.8 30.2l5.3 6M1068.8 36.2l5.3 -6M1072.3 7h7.4M1076 2.2v9.6M1073.3 4l5.3 6M1073.3 10l5.3 -6M1076.8 7h7.4M1080.5 2.2v9.6M1077.8 4l5.3 6M1077.8 10l5.3 -6M1081.8 26.1h7.4M1085.5 21.3v9.6M1082.8 23.1l5.3 6M1082.8 29.1l5.3 -6M1086.9 7h7.4M1090.6 2.2v9.6M1087.9 4l5.3 6M1087.9 10l5.3 -6M1091.9 54.3h7.4M1095.6 49.5v9.6M1092.9 51.3l5.3 6M1092.9 57.3l5.3 -6M1096.9 7h7.4M1100.6 2.2v9.6M1097.9 4l5.3 6M1097.9 10l5.3 -6M1101.9 7h7.4M1105.6 2.2v9.6M1102.9 4l5.3 6M1102.9 10l5.3 -6M1107 59.3h7.4M1110.7 54.5v9.6M1108 56.3l5.3 6M1108 62.3l5.3 -6M1112 117.6h7.4M1115.7 112.8v9.6M1113 114.6l5.3 6M1113 120.6l5.3 -6M1116 105.5h7.4M1119.7 100.7v9.6M1117 102.5l5.3 6M1117 108.5l5.3 -6M1121 43.2h7.4M1124.7 38.4v9.6M1122 40.2l5.3 6M1122 46.2l5.3 -6M1127 37.2h7.4M1130.7 32.4v9.6M1128 34.2l5.3 6M1128 40.2l5.3 -6M1131.1 27.1h7.4M1134.8 22.3v9.6M1132.1 24.1l5.3 6M1132.1 30.1l5.3 -6M1136.1 7h7.4M1139.8 2.2v9.6M1137.1 4l5.3 6M1137.1 10l5.3 -6M1141.1 32.2h7.4M1144.8 27.4v9.6M1142.1 29.2l5.3 6M1142.1 35.2l5.3 -6M1146.1 7h7.4M1149.8 2.2v9.6M1147.1 4l5.3 6M1147.1 10l5.3 -6M1151.1 7h7.4M1154.8 2.2v9.6M1152.1 4l5.3 6M1152.1 10l5.3 -6M1154.8 7h7.4M1158.5 2.2v9.6M1155.8 4l5.3 6M1155.8 10l5.3 -6M1159.2 53.3h7.4M1162.9 48.5v9.6M1160.2 50.3l5.3 6M1160.2 56.3l5.3 -6M1165.3 40.2h7.4M1169 35.4v9.6M1166.3 37.2l5.3 6M1166.3 43.2l5.3 -6M1170.3 56.3h7.4M1174 51.5v9.6M1171.3 53.3l5.3 6M1171.3 59.3l5.3 -6M1175.3 114.5h7.4M1179 109.7v9.6M1176.3 111.5l5.3 6M1176.3 117.5l5.3 -6M1180.3 80.4h7.4M1184 75.6v9.6M1181.3 77.4l5.3 6M1181.3 83.4l5.3 -6M1185.3 26.1h7.4M1189 21.3v9.6M1186.3 23.1l5.3 6M1186.3 29.1l5.3 -6M1189.3 67.3h7.4M1193 62.5v9.6M1190.3 64.3l5.3 6M1190.3 70.3l5.3 -6M1195.4 79.4h7.4M1199.1 74.6v9.6M1196.4 76.4l5.3 6M1196.4 82.4l5.3 -6M1200.4 29.1h7.4M1204.1 24.3v9.6M1201.4 26.1l5.3 6M1201.4 32.1l5.3 -6M1204.4 42.2h7.4M1208.1 37.4v9.6M1205.4 39.2l5.3 6M1205.4 45.2l5.3 -6M1209.4 35.2h7.4M1213.1 30.4v9.6M1210.4 32.2l5.3 6M1210.4 38.2l5.3 -6M1215.5 45.2h7.4M1219.2 40.4v9.6M1216.5 42.2l5.3 6M1216.5 48.2l5.3 -6M1219.5 81.4h7.4M1223.2 76.6v9.6M1220.5 78.4l5.3 6M1220.5 84.4l5.3 -6M1221.3 66.3h7.4M1225 61.5v9.6M1222.3 63.3l5.3 6M1222.3 69.3l5.3 -6" stroke="#EDB120" stroke-width="1.4" fill="none"/>
<polyline points="735.6,250.8 742,294.3 747.1,252.1 750.1,285.2 752.1,275.2 757.1,243 761.5,171 764.5,117.7 767.1,137.6 771.6,206.2 774.2,246 776.7,209.4 781.9,211.3 784.4,190.1 786.4,204.2 788.3,249.1 790.6,242 796,137.6 798.6,99 801.2,155 804.4,176.6 805.7,124.7 810.2,215.8 813.4,108.6 815.3,164 817.9,106.1 820.5,144 825.6,217.1 830.8,210 834.6,116.4 840.4,174.6 843,140.2 844.9,186.2 847.6,265 849.5,202 852.6,308.4 855.6,292.3 859.6,257.1 864.6,294.3 869.7,264.1 872.7,254.1 874.7,283.2 879.7,266.1 881.7,278.2 884.7,266.1 886.7,305.3 889.8,294.3 894.8,267.2 898.5,222.9 901.7,180.4 903.8,255.1 908.8,213.9 913.6,249 918.5,149.2 923.9,6.6 926.2,96.4 929,52.3 933.2,237.7 935.8,184.3 939,219 942.9,234.5 948.3,208.5 953.8,235.1 957.7,194.6 959.6,229.3 962.8,223.5 967.3,162.7 969.9,174 971.8,163.3 975,133.7 977.6,144 982.8,160.1 985.3,137.6 987.1,268.2 992.1,286.2 997.1,313.4 1002.1,284.2 1005.1,277.2 1007.2,309.4 1012.2,311.4 1016.7,242 1019.2,187.3 1022.2,212.4 1024.2,255.1 1026.2,213.4 1029.3,243 1032.3,201.4 1035.3,241.6 1039.3,286.2 1041.8,239.3 1046.3,179.3 1049.4,152.2 1051.4,182.3 1054.4,224.5 1056.4,160.2 1061.4,114.5 1063.4,56.3 1065.4,134.1 1071.5,42.2 1075.5,126 1080.5,162.2 1085.5,288.3 1090.6,257.1 1094.6,310.4 1100.6,296.3 1105.6,318.4 1107.6,372.1 1110.7,351.6 1112.7,330.5 1115.7,343.5 1119.7,341.5 1125.7,261.1 1129.7,314.4 1132.8,276.2 1134.8,311.4 1139.8,346.5 1144.8,373.1 1149.8,358 1154.9,386.1 1158.9,357 1162.9,381.1 1165.9,373.1 1168.9,390.2 1174,418.3 1179,421.3 1184,442.4 1186,446.4 1189,435.4 1194,431.4 1199.1,421.3 1203.1,433.4 1208.1,428.4 1213.1,423.3 1218.2,425.3 1222.2,409.3 1225,402.2" fill="none" stroke="#7E2F8E" stroke-width="1.6" stroke-opacity="0.62" stroke-linejoin="round"/>
<path d="M731.9 250.8h7.4M735.6 246v9.6M732.9 247.8l5.3 6M732.9 253.8l5.3 -6M738.3 294.3h7.4M742 289.5v9.6M739.3 291.3l5.3 6M739.3 297.3l5.3 -6M743.4 252.1h7.4M747.1 247.3v9.6M744.4 249.1l5.3 6M744.4 255.1l5.3 -6M748.4 275.2h7.4M752.1 270.4v9.6M749.4 272.2l5.3 6M749.4 278.2l5.3 -6M753.4 243h7.4M757.1 238.2v9.6M754.4 240l5.3 6M754.4 246l5.3 -6M757.8 171h7.4M761.5 166.2v9.6M758.8 168l5.3 6M758.8 174l5.3 -6M763.4 137.6h7.4M767.1 132.8v9.6M764.4 134.6l5.3 6M764.4 140.6l5.3 -6M767.9 206.2h7.4M771.6 201.4v9.6M768.9 203.2l5.3 6M768.9 209.2l5.3 -6M773 209.4h7.4M776.7 204.6v9.6M774 206.4l5.3 6M774 212.4l5.3 -6M778.2 211.3h7.4M781.9 206.5v9.6M779.2 208.3l5.3 6M779.2 214.3l5.3 -6M782.7 204.2h7.4M786.4 199.4v9.6M783.7 201.2l5.3 6M783.7 207.2l5.3 -6M786.9 242h7.4M790.6 237.2v9.6M787.9 239l5.3 6M787.9 245l5.3 -6M792.3 137.6h7.4M796 132.8v9.6M793.3 134.6l5.3 6M793.3 140.6l5.3 -6M797.5 155h7.4M801.2 150.2v9.6M798.5 152l5.3 6M798.5 158l5.3 -6M802 124.7h7.4M805.7 119.9v9.6M803 121.7l5.3 6M803 127.7l5.3 -6M806.5 215.8h7.4M810.2 211v9.6M807.5 212.8l5.3 6M807.5 218.8l5.3 -6M811.6 164h7.4M815.3 159.2v9.6M812.6 161l5.3 6M812.6 167l5.3 -6M816.8 144h7.4M820.5 139.2v9.6M817.8 141l5.3 6M817.8 147l5.3 -6M821.9 217.1h7.4M825.6 212.3v9.6M822.9 214.1l5.3 6M822.9 220.1l5.3 -6M827.1 210h7.4M830.8 205.2v9.6M828.1 207l5.3 6M828.1 213l5.3 -6M830.9 116.4h7.4M834.6 111.6v9.6M831.9 113.4l5.3 6M831.9 119.4l5.3 -6M836.7 174.6h7.4M840.4 169.8v9.6M837.7 171.6l5.3 6M837.7 177.6l5.3 -6M841.2 186.2h7.4M844.9 181.4v9.6M842.2 183.2l5.3 6M842.2 189.2l5.3 -6M845.8 202h7.4M849.5 197.2v9.6M846.8 199l5.3 6M846.8 205l5.3 -6M851.9 292.3h7.4M855.6 287.5v9.6M852.9 289.3l5.3 6M852.9 295.3l5.3 -6M855.9 257.1h7.4M859.6 252.3v9.6M856.9 254.1l5.3 6M856.9 260.1l5.3 -6M860.9 294.3h7.4M864.6 289.5v9.6M861.9 291.3l5.3 6M861.9 297.3l5.3 -6M866 264.1h7.4M869.7 259.3v9.6M867 261.1l5.3 6M867 267.1l5.3 -6M871 283.2h7.4M874.7 278.4v9.6M872 280.2l5.3 6M872 286.2l5.3 -6M876 266.1h7.4M879.7 261.3v9.6M877 263.1l5.3 6M877 269.1l5.3 -6M881 266.1h7.4M884.7 261.3v9.6M882 263.1l5.3 6M882 269.1l5.3 -6M886.1 294.3h7.4M889.8 289.5v9.6M887.1 291.3l5.3 6M887.1 297.3l5.3 -6M891.1 267.2h7.4M894.8 262.4v9.6M892.1 264.2l5.3 6M892.1 270.2l5.3 -6M894.8 222.9h7.4M898.5 218.1v9.6M895.8 219.9l5.3 6M895.8 225.9l5.3 -6M900.1 255.1h7.4M903.8 250.3v9.6M901.1 252.1l5.3 6M901.1 258.1l5.3 -6M905.1 213.9h7.4M908.8 209.1v9.6M906.1 210.9l5.3 6M906.1 216.9l5.3 -6M909.9 249h7.4M913.6 244.2v9.6M910.9 246l5.3 6M910.9 252l5.3 -6M914.8 149.2h7.4M918.5 144.4v9.6M915.8 146.2l5.3 6M915.8 152.2l5.3 -6M920.2 6.6h7.4M923.9 1.8v9.6M921.2 3.6l5.3 6M921.2 9.6l5.3 -6M925.3 52.3h7.4M929 47.5v9.6M926.3 49.3l5.3 6M926.3 55.3l5.3 -6M929.5 237.7h7.4M933.2 232.9v9.6M930.5 234.7l5.3 6M930.5 240.7l5.3 -6M935.3 219h7.4M939 214.2v9.6M936.3 216l5.3 6M936.3 222l5.3 -6M939.2 234.5h7.4M942.9 229.7v9.6M940.2 231.5l5.3 6M940.2 237.5l5.3 -6M944.6 208.5h7.4M948.3 203.7v9.6M945.6 205.5l5.3 6M945.6 211.5l5.3 -6M950.1 235.1h7.4M953.8 230.3v9.6M951.1 232.1l5.3 6M951.1 238.1l5.3 -6M954 194.6h7.4M957.7 189.8v9.6M955 191.6l5.3 6M955 197.6l5.3 -6M959.1 223.5h7.4M962.8 218.7v9.6M960.1 220.5l5.3 6M960.1 226.5l5.3 -6M963.6 162.7h7.4M967.3 157.9v9.6M964.6 159.7l5.3 6M964.6 165.7l5.3 -6M968.1 163.3h7.4M971.8 158.5v9.6M969.1 160.3l5.3 6M969.1 166.3l5.3 -6M973.9 144h7.4M977.6 139.2v9.6M974.9 141l5.3 6M974.9 147l5.3 -6M979.1 160.1h7.4M982.8 155.3v9.6M980.1 157.1l5.3 6M980.1 163.1l5.3 -6M983.4 268.2h7.4M987.1 263.4v9.6M984.4 265.2l5.3 6M984.4 271.2l5.3 -6M988.4 286.2h7.4M992.1 281.4v9.6M989.4 283.2l5.3 6M989.4 289.2l5.3 -6M993.4 313.4h7.4M997.1 308.6v9.6M994.4 310.4l5.3 6M994.4 316.4l5.3 -6M998.4 284.2h7.4M1002.1 279.4v9.6M999.4 281.2l5.3 6M999.4 287.2l5.3 -6M1003.5 309.4h7.4M1007.2 304.6v9.6M1004.5 306.4l5.3 6M1004.5 312.4l5.3 -6M1008.5 311.4h7.4M1012.2 306.6v9.6M1009.5 308.4l5.3 6M1009.5 314.4l5.3 -6M1013 242h7.4M1016.7 237.2v9.6M1014 239l5.3 6M1014 245l5.3 -6M1018.5 212.4h7.4M1022.2 207.6v9.6M1019.5 209.4l5.3 6M1019.5 215.4l5.3 -6M1022.5 213.4h7.4M1026.2 208.6v9.6M1023.5 210.4l5.3 6M1023.5 216.4l5.3 -6M1028.6 201.4h7.4M1032.3 196.6v9.6M1029.6 198.4l5.3 6M1029.6 204.4l5.3 -6M1031.6 241.6h7.4M1035.3 236.8v9.6M1032.6 238.6l5.3 6M1032.6 244.6l5.3 -6M1038.1 239.3h7.4M1041.8 234.5v9.6M1039.1 236.3l5.3 6M1039.1 242.3l5.3 -6M1042.6 179.3h7.4M1046.3 174.5v9.6M1043.6 176.3l5.3 6M1043.6 182.3l5.3 -6M1047.7 182.3h7.4M1051.4 177.5v9.6M1048.7 179.3l5.3 6M1048.7 185.3l5.3 -6M1052.7 160.2h7.4M1056.4 155.4v9.6M1053.7 157.2l5.3 6M1053.7 163.2l5.3 -6M1057.7 114.5h7.4M1061.4 109.7v9.6M1058.7 111.5l5.3 6M1058.7 117.5l5.3 -6M1061.7 134.1h7.4M1065.4 129.3v9.6M1062.7 131.1l5.3 6M1062.7 137.1l5.3 -6M1067.8 42.2h7.4M1071.5 37.4v9.6M1068.8 39.2l5.3 6M1068.8 45.2l5.3 -6M1071.8 126h7.4M1075.5 121.2v9.6M1072.8 123l5.3 6M1072.8 129l5.3 -6M1076.8 162.2h7.4M1080.5 157.4v9.6M1077.8 159.2l5.3 6M1077.8 165.2l5.3 -6M1081.8 288.3h7.4M1085.5 283.5v9.6M1082.8 285.3l5.3 6M1082.8 291.3l5.3 -6M1086.9 257.1h7.4M1090.6 252.3v9.6M1087.9 254.1l5.3 6M1087.9 260.1l5.3 -6M1090.9 310.4h7.4M1094.6 305.6v9.6M1091.9 307.4l5.3 6M1091.9 313.4l5.3 -6M1096.9 296.3h7.4M1100.6 291.5v9.6M1097.9 293.3l5.3 6M1097.9 299.3l5.3 -6M1101.9 318.4h7.4M1105.6 313.6v9.6M1102.9 315.4l5.3 6M1102.9 321.4l5.3 -6M1107 351.6h7.4M1110.7 346.8v9.6M1108 348.6l5.3 6M1108 354.6l5.3 -6M1112 343.5h7.4M1115.7 338.7v9.6M1113 340.5l5.3 6M1113 346.5l5.3 -6M1116 341.5h7.4M1119.7 336.7v9.6M1117 338.5l5.3 6M1117 344.5l5.3 -6M1122 261.1h7.4M1125.7 256.3v9.6M1123 258.1l5.3 6M1123 264.1l5.3 -6M1126 314.4h7.4M1129.7 309.6v9.6M1127 311.4l5.3 6M1127 317.4l5.3 -6M1131.1 311.4h7.4M1134.8 306.6v9.6M1132.1 308.4l5.3 6M1132.1 314.4l5.3 -6M1136.1 346.5h7.4M1139.8 341.7v9.6M1137.1 343.5l5.3 6M1137.1 349.5l5.3 -6M1141.1 373.1h7.4M1144.8 368.3v9.6M1142.1 370.1l5.3 6M1142.1 376.1l5.3 -6M1146.1 358h7.4M1149.8 353.2v9.6M1147.1 355l5.3 6M1147.1 361l5.3 -6M1151.2 386.1h7.4M1154.9 381.3v9.6M1152.2 383.1l5.3 6M1152.2 389.1l5.3 -6M1155.2 357h7.4M1158.9 352.2v9.6M1156.2 354l5.3 6M1156.2 360l5.3 -6M1159.2 381.1h7.4M1162.9 376.3v9.6M1160.2 378.1l5.3 6M1160.2 384.1l5.3 -6M1165.2 390.2h7.4M1168.9 385.4v9.6M1166.2 387.2l5.3 6M1166.2 393.2l5.3 -6M1170.3 418.3h7.4M1174 413.5v9.6M1171.3 415.3l5.3 6M1171.3 421.3l5.3 -6M1175.3 421.3h7.4M1179 416.5v9.6M1176.3 418.3l5.3 6M1176.3 424.3l5.3 -6M1180.3 442.4h7.4M1184 437.6v9.6M1181.3 439.4l5.3 6M1181.3 445.4l5.3 -6M1185.3 435.4h7.4M1189 430.6v9.6M1186.3 432.4l5.3 6M1186.3 438.4l5.3 -6M1190.3 431.4h7.4M1194 426.6v9.6M1191.3 428.4l5.3 6M1191.3 434.4l5.3 -6M1195.4 421.3h7.4M1199.1 416.5v9.6M1196.4 418.3l5.3 6M1196.4 424.3l5.3 -6M1199.4 433.4h7.4M1203.1 428.6v9.6M1200.4 430.4l5.3 6M1200.4 436.4l5.3 -6M1204.4 428.4h7.4M1208.1 423.6v9.6M1205.4 425.4l5.3 6M1205.4 431.4l5.3 -6M1209.4 423.3h7.4M1213.1 418.5v9.6M1210.4 420.3l5.3 6M1210.4 426.3l5.3 -6M1214.5 425.3h7.4M1218.2 420.5v9.6M1215.5 422.3l5.3 6M1215.5 428.3l5.3 -6M1218.5 409.3h7.4M1222.2 404.5v9.6M1219.5 406.3l5.3 6M1219.5 412.3l5.3 -6M1221.3 402.2h7.4M1225 397.4v9.6M1222.3 399.2l5.3 6M1222.3 405.2l5.3 -6" stroke="#7E2F8E" stroke-width="1.4" fill="none"/>
</g>
<text class="tk" x="735.6" y="522.2" text-anchor="middle" transform="translate(735.6 0) scale(0.84 1) translate(-735.6 0)">0</text>
<text class="tk" x="784.5" y="522.2" text-anchor="middle" transform="translate(784.5 0) scale(0.84 1) translate(-784.5 0)">20</text>
<text class="tk" x="833.5" y="522.2" text-anchor="middle" transform="translate(833.5 0) scale(0.84 1) translate(-833.5 0)">40</text>
<text class="tk" x="882.4" y="522.2" text-anchor="middle" transform="translate(882.4 0) scale(0.84 1) translate(-882.4 0)">60</text>
<text class="tk" x="931.4" y="522.2" text-anchor="middle" transform="translate(931.4 0) scale(0.84 1) translate(-931.4 0)">80</text>
<text class="tk" x="980.3" y="522.2" text-anchor="middle" transform="translate(980.3 0) scale(0.84 1) translate(-980.3 0)">100</text>
<text class="tk" x="1029.2" y="522.2" text-anchor="middle" transform="translate(1029.2 0) scale(0.84 1) translate(-1029.2 0)">120</text>
<text class="tk" x="1078.2" y="522.2" text-anchor="middle" transform="translate(1078.2 0) scale(0.84 1) translate(-1078.2 0)">140</text>
<text class="tk" x="1127.1" y="522.2" text-anchor="middle" transform="translate(1127.1 0) scale(0.84 1) translate(-1127.1 0)">160</text>
<text class="tk" x="1176.1" y="522.2" text-anchor="middle" transform="translate(1176.1 0) scale(0.84 1) translate(-1176.1 0)">180</text>
<text class="tk" x="1225" y="522.2" text-anchor="middle" transform="translate(1225 0) scale(0.84 1) translate(-1225 0)">200</text>
<text class="tk" x="728.1" y="503.8" text-anchor="end" transform="translate(728.1 0) scale(0.84 1) translate(-728.1 0)">0</text>
<text class="tk" x="728.1" y="406.2" text-anchor="end" transform="translate(728.1 0) scale(0.84 1) translate(-728.1 0)">0.2</text>
<text class="tk" x="728.1" y="308.6" text-anchor="end" transform="translate(728.1 0) scale(0.84 1) translate(-728.1 0)">0.4</text>
<text class="tk" x="728.1" y="211" text-anchor="end" transform="translate(728.1 0) scale(0.84 1) translate(-728.1 0)">0.6</text>
<text class="tk" x="728.1" y="113.4" text-anchor="end" transform="translate(728.1 0) scale(0.84 1) translate(-728.1 0)">0.8</text>
<text class="tk" x="728.1" y="15.8" text-anchor="end" transform="translate(728.1 0) scale(0.84 1) translate(-728.1 0)">1</text>
<text class="xl" x="979.6" y="546.3" text-anchor="middle" transform="translate(979.6 0) scale(0.85 1) translate(-979.6 0)">t</text>
<text class="yl" x="0" y="0" text-anchor="middle" transform="translate(696 250.5) rotate(-90)" dy="5">y</text>
<rect x="1142.7" y="135.2" width="68.5" height="98.3" fill="#fff"/>
<path d="M1142.7 135.2H1211.2M1142.7 233.5H1211.2" stroke="#262626" stroke-width="1.3" fill="none"/>
<path d="M1142.7 135.2V233.5M1211.2 135.2V233.5" stroke="#555" stroke-width="1.5" fill="none"/>
<path d="M1146.6 149.1H1181.3" stroke="#0072BD" stroke-width="1.6"/>
<path d="M1160.7 149.1h6.4M1163.9 144.5v9.2M1161.6 146.2l4.6 5.7M1161.6 152l4.6 -5.7" stroke="#0072BD" stroke-width="1.1" fill="none"/>
<text class="lg" x="1183.7" y="154.7" transform="translate(1183.7 0) scale(0.84 1) translate(-1183.7 0)">&#948;=0</text>
<path d="M1146.6 172.9H1181.3" stroke="#D95319" stroke-width="1.6"/>
<path d="M1160.7 172.9h6.4M1163.9 168.3v9.2M1161.6 170l4.6 5.7M1161.6 175.7l4.6 -5.7" stroke="#D95319" stroke-width="1.1" fill="none"/>
<text class="lg" x="1183.7" y="178.5" transform="translate(1183.7 0) scale(0.84 1) translate(-1183.7 0)">&#948;=1</text>
<path d="M1146.6 196.6H1181.3" stroke="#EDB120" stroke-width="1.6"/>
<path d="M1160.7 196.6h6.4M1163.9 192v9.2M1161.6 193.8l4.6 5.7M1161.6 199.5l4.6 -5.7" stroke="#EDB120" stroke-width="1.1" fill="none"/>
<text class="lg" x="1183.7" y="202.2" transform="translate(1183.7 0) scale(0.84 1) translate(-1183.7 0)">&#948;=2</text>
<path d="M1146.6 220.4H1181.3" stroke="#7E2F8E" stroke-width="1.6"/>
<path d="M1160.7 220.4h6.4M1163.9 215.8v9.2M1161.6 217.6l4.6 5.7M1161.6 223.3l4.6 -5.7" stroke="#7E2F8E" stroke-width="1.1" fill="none"/>
<text class="lg" x="1183.7" y="226" transform="translate(1183.7 0) scale(0.84 1) translate(-1183.7 0)">&#948;=3</text>
<text class="cap" x="963" y="613.5" text-anchor="middle">(b)</text>
<path d="M1420.1 6.6H1945.1M1420.1 494.9H1945.1" stroke="#262626" stroke-width="1.3" fill="none"/>
<path d="M1420.1 6.6V494.9" stroke="#6a6a6a" stroke-width="1.6" fill="none"/>
<path d="M1945.1 6.6V494.9" stroke="#333" stroke-width="1.5" fill="none"/>
<path d="M1420.1 494.9v-4M1420.1 6.6v4M1472.6 494.9v-4M1472.6 6.6v4M1525.1 494.9v-4M1525.1 6.6v4M1577.6 494.9v-4M1577.6 6.6v4M1630.1 494.9v-4M1630.1 6.6v4M1682.6 494.9v-4M1682.6 6.6v4M1735.1 494.9v-4M1735.1 6.6v4M1787.6 494.9v-4M1787.6 6.6v4M1840.1 494.9v-4M1840.1 6.6v4M1892.6 494.9v-4M1892.6 6.6v4M1945.1 494.9v-4M1945.1 6.6v4M1420.1 494.9h4M1945.1 494.9h-4M1420.1 397.2h4M1945.1 397.2h-4M1420.1 299.6h4M1945.1 299.6h-4M1420.1 201.9h4M1945.1 201.9h-4M1420.1 104.3h4M1945.1 104.3h-4M1420.1 6.6h4M1945.1 6.6h-4" stroke="#262626" stroke-width="1.2" fill="none"/>
<g>
<polyline points="1420.1,250 1425.3,251.7 1430.6,253.6 1435.8,255.5 1441.1,257.5 1446.3,259.6 1451.6,261.7 1456.8,264 1462.1,266.2 1467.3,268.6 1472.6,271 1477.8,273.5 1483.1,276 1488.3,278.5 1493.6,281.1 1498.8,283.8 1504.1,286.4 1509.3,289.1 1514.6,291.9 1519.8,294.6 1525.1,297.4 1530.3,300.2 1535.6,303 1540.8,305.8 1546.1,308.7 1551.3,311.5 1556.6,314.3 1561.8,317.2 1567.1,320 1572.3,322.8 1577.6,325.7 1582.8,328.5 1588.1,331.3 1593.3,334.1 1598.6,336.9 1603.8,339.6 1609.1,342.4 1614.3,345.1 1619.6,347.8 1624.8,350.4 1630.1,353.1 1635.3,355.7 1640.6,358.3 1645.8,360.8 1651.1,363.3 1656.3,365.8 1661.6,368.3 1666.8,370.7 1672.1,373.1 1677.3,375.4 1682.6,377.7 1687.8,380 1693.1,382.2 1698.3,384.4 1703.6,386.5 1708.8,388.6 1714.1,390.7 1719.3,392.7 1724.6,394.6 1729.8,396.6 1735.1,398.4 1740.3,400.3 1745.6,402.1 1750.8,403.8 1756.1,405.5 1761.3,407.2 1766.6,408.8 1771.8,410.4 1777.1,412 1782.3,413.5 1787.6,415 1792.8,416.4 1798.1,417.8 1803.3,419.2 1808.6,420.5 1813.8,421.8 1819.1,423 1824.3,424.3 1829.6,425.5 1834.8,426.6 1840.1,427.8 1845.3,428.9 1850.6,430 1855.8,431.1 1861.1,432.2 1866.3,433.2 1871.6,434.2 1876.8,435.3 1882.1,436.3 1887.3,437.3 1892.6,438.3 1897.8,439.2 1903.1,440.2 1908.3,441.2 1913.6,442.2 1918.8,443.2 1924.1,444.2 1929.3,445.3 1934.6,446.3 1939.8,447.4 1945.1,448.5" fill="none" stroke="#0072BD" stroke-width="1.6" stroke-opacity="0.62" stroke-linejoin="round"/>
<path d="M1416.4 250h7.4M1420.1 245.2v9.6M1417.4 247l5.3 6M1417.4 253l5.3 -6M1421.6 251.7h7.4M1425.3 246.9v9.6M1422.7 248.8l5.3 6M1422.7 254.7l5.3 -6M1426.9 253.6h7.4M1430.6 248.8v9.6M1427.9 250.6l5.3 6M1427.9 256.6l5.3 -6M1432.1 255.5h7.4M1435.8 250.7v9.6M1433.2 252.5l5.3 6M1433.2 258.5l5.3 -6M1437.4 257.5h7.4M1441.1 252.7v9.6M1438.4 254.5l5.3 6M1438.4 260.5l5.3 -6M1442.6 259.6h7.4M1446.3 254.8v9.6M1443.7 256.6l5.3 6M1443.7 262.6l5.3 -6M1447.9 261.7h7.4M1451.6 256.9v9.6M1448.9 258.8l5.3 6M1448.9 264.7l5.3 -6M1453.1 264h7.4M1456.8 259.2v9.6M1454.2 261l5.3 6M1454.2 266.9l5.3 -6M1458.4 266.2h7.4M1462.1 261.4v9.6M1459.4 263.3l5.3 6M1459.4 269.2l5.3 -6M1463.6 268.6h7.4M1467.3 263.8v9.6M1464.7 265.6l5.3 6M1464.7 271.6l5.3 -6M1468.9 271h7.4M1472.6 266.2v9.6M1469.9 268l5.3 6M1469.9 274l5.3 -6M1474.1 273.5h7.4M1477.8 268.7v9.6M1475.2 270.5l5.3 6M1475.2 276.4l5.3 -6M1479.4 276h7.4M1483.1 271.2v9.6M1480.4 273l5.3 6M1480.4 278.9l5.3 -6M1484.6 278.5h7.4M1488.3 273.7v9.6M1485.7 275.6l5.3 6M1485.7 281.5l5.3 -6M1489.9 281.1h7.4M1493.6 276.3v9.6M1490.9 278.2l5.3 6M1490.9 284.1l5.3 -6M1495.1 283.8h7.4M1498.8 279v9.6M1496.2 280.8l5.3 6M1496.2 286.7l5.3 -6M1500.4 286.4h7.4M1504.1 281.6v9.6M1501.4 283.5l5.3 6M1501.4 289.4l5.3 -6M1505.6 289.1h7.4M1509.3 284.3v9.6M1506.7 286.2l5.3 6M1506.7 292.1l5.3 -6M1510.9 291.9h7.4M1514.6 287.1v9.6M1511.9 288.9l5.3 6M1511.9 294.8l5.3 -6M1516.1 294.6h7.4M1519.8 289.8v9.6M1517.2 291.6l5.3 6M1517.2 297.6l5.3 -6M1521.4 297.4h7.4M1525.1 292.6v9.6M1522.4 294.4l5.3 6M1522.4 300.4l5.3 -6M1526.6 300.2h7.4M1530.3 295.4v9.6M1527.7 297.2l5.3 6M1527.7 303.2l5.3 -6M1531.9 303h7.4M1535.6 298.2v9.6M1532.9 300l5.3 6M1532.9 306l5.3 -6M1537.1 305.8h7.4M1540.8 301v9.6M1538.2 302.9l5.3 6M1538.2 308.8l5.3 -6M1542.4 308.7h7.4M1546.1 303.9v9.6M1543.4 305.7l5.3 6M1543.4 311.6l5.3 -6M1547.6 311.5h7.4M1551.3 306.7v9.6M1548.7 308.5l5.3 6M1548.7 314.5l5.3 -6M1552.9 314.3h7.4M1556.6 309.5v9.6M1553.9 311.4l5.3 6M1553.9 317.3l5.3 -6M1558.1 317.2h7.4M1561.8 312.4v9.6M1559.2 314.2l5.3 6M1559.2 320.2l5.3 -6M1563.4 320h7.4M1567.1 315.2v9.6M1564.4 317l5.3 6M1564.4 323l5.3 -6M1568.6 322.8h7.4M1572.3 318v9.6M1569.7 319.9l5.3 6M1569.7 325.8l5.3 -6M1573.9 325.7h7.4M1577.6 320.9v9.6M1574.9 322.7l5.3 6M1574.9 328.7l5.3 -6M1579.1 328.5h7.4M1582.8 323.7v9.6M1580.2 325.5l5.3 6M1580.2 331.5l5.3 -6M1584.4 331.3h7.4M1588.1 326.5v9.6M1585.4 328.3l5.3 6M1585.4 334.3l5.3 -6M1589.6 334.1h7.4M1593.3 329.3v9.6M1590.7 331.1l5.3 6M1590.7 337.1l5.3 -6M1594.9 336.9h7.4M1598.6 332.1v9.6M1595.9 333.9l5.3 6M1595.9 339.8l5.3 -6M1600.1 339.6h7.4M1603.8 334.8v9.6M1601.2 336.7l5.3 6M1601.2 342.6l5.3 -6M1605.4 342.4h7.4M1609.1 337.6v9.6M1606.4 339.4l5.3 6M1606.4 345.3l5.3 -6M1610.6 345.1h7.4M1614.3 340.3v9.6M1611.7 342.1l5.3 6M1611.7 348.1l5.3 -6M1615.9 347.8h7.4M1619.6 343v9.6M1616.9 344.8l5.3 6M1616.9 350.8l5.3 -6M1621.1 350.4h7.4M1624.8 345.6v9.6M1622.2 347.5l5.3 6M1622.2 353.4l5.3 -6M1626.4 353.1h7.4M1630.1 348.3v9.6M1627.4 350.1l5.3 6M1627.4 356.1l5.3 -6M1631.6 355.7h7.4M1635.3 350.9v9.6M1632.7 352.7l5.3 6M1632.7 358.7l5.3 -6M1636.9 358.3h7.4M1640.6 353.5v9.6M1637.9 355.3l5.3 6M1637.9 361.3l5.3 -6M1642.1 360.8h7.4M1645.8 356v9.6M1643.2 357.9l5.3 6M1643.2 363.8l5.3 -6M1647.4 363.3h7.4M1651.1 358.5v9.6M1648.4 360.4l5.3 6M1648.4 366.3l5.3 -6M1652.6 365.8h7.4M1656.3 361v9.6M1653.7 362.9l5.3 6M1653.7 368.8l5.3 -6M1657.9 368.3h7.4M1661.6 363.5v9.6M1658.9 365.3l5.3 6M1658.9 371.3l5.3 -6M1663.1 370.7h7.4M1666.8 365.9v9.6M1664.2 367.7l5.3 6M1664.2 373.7l5.3 -6M1668.4 373.1h7.4M1672.1 368.3v9.6M1669.4 370.1l5.3 6M1669.4 376l5.3 -6M1673.6 375.4h7.4M1677.3 370.6v9.6M1674.7 372.4l5.3 6M1674.7 378.4l5.3 -6M1678.9 377.7h7.4M1682.6 372.9v9.6M1679.9 374.7l5.3 6M1679.9 380.7l5.3 -6M1684.1 380h7.4M1687.8 375.2v9.6M1685.2 377l5.3 6M1685.2 382.9l5.3 -6M1689.4 382.2h7.4M1693.1 377.4v9.6M1690.4 379.2l5.3 6M1690.4 385.2l5.3 -6M1694.6 384.4h7.4M1698.3 379.6v9.6M1695.7 381.4l5.3 6M1695.7 387.3l5.3 -6M1699.9 386.5h7.4M1703.6 381.7v9.6M1700.9 383.5l5.3 6M1700.9 389.5l5.3 -6M1705.1 388.6h7.4M1708.8 383.8v9.6M1706.2 385.6l5.3 6M1706.2 391.6l5.3 -6M1710.4 390.7h7.4M1714.1 385.9v9.6M1711.4 387.7l5.3 6M1711.4 393.6l5.3 -6M1715.6 392.7h7.4M1719.3 387.9v9.6M1716.7 389.7l5.3 6M1716.7 395.6l5.3 -6M1720.9 394.6h7.4M1724.6 389.8v9.6M1721.9 391.7l5.3 6M1721.9 397.6l5.3 -6M1726.1 396.6h7.4M1729.8 391.8v9.6M1727.2 393.6l5.3 6M1727.2 399.5l5.3 -6M1731.4 398.4h7.4M1735.1 393.6v9.6M1732.4 395.5l5.3 6M1732.4 401.4l5.3 -6M1736.6 400.3h7.4M1740.3 395.5v9.6M1737.7 397.3l5.3 6M1737.7 403.3l5.3 -6M1741.9 402.1h7.4M1745.6 397.3v9.6M1742.9 399.1l5.3 6M1742.9 405.1l5.3 -6M1747.1 403.8h7.4M1750.8 399v9.6M1748.2 400.9l5.3 6M1748.2 406.8l5.3 -6M1752.4 405.5h7.4M1756.1 400.7v9.6M1753.4 402.6l5.3 6M1753.4 408.5l5.3 -6M1757.6 407.2h7.4M1761.3 402.4v9.6M1758.7 404.2l5.3 6M1758.7 410.2l5.3 -6M1762.9 408.8h7.4M1766.6 404v9.6M1763.9 405.9l5.3 6M1763.9 411.8l5.3 -6M1768.1 410.4h7.4M1771.8 405.6v9.6M1769.2 407.5l5.3 6M1769.2 413.4l5.3 -6M1773.4 412h7.4M1777.1 407.2v9.6M1774.4 409l5.3 6M1774.4 415l5.3 -6M1778.6 413.5h7.4M1782.3 408.7v9.6M1779.7 410.5l5.3 6M1779.7 416.5l5.3 -6M1783.9 415h7.4M1787.6 410.2v9.6M1784.9 412l5.3 6M1784.9 417.9l5.3 -6M1789.1 416.4h7.4M1792.8 411.6v9.6M1790.2 413.4l5.3 6M1790.2 419.4l5.3 -6M1794.4 417.8h7.4M1798.1 413v9.6M1795.4 414.8l5.3 6M1795.4 420.8l5.3 -6M1799.6 419.2h7.4M1803.3 414.4v9.6M1800.7 416.2l5.3 6M1800.7 422.1l5.3 -6M1804.9 420.5h7.4M1808.6 415.7v9.6M1805.9 417.5l5.3 6M1805.9 423.5l5.3 -6M1810.1 421.8h7.4M1813.8 417v9.6M1811.2 418.8l5.3 6M1811.2 424.8l5.3 -6M1815.4 423h7.4M1819.1 418.2v9.6M1816.4 420.1l5.3 6M1816.4 426l5.3 -6M1820.6 424.3h7.4M1824.3 419.5v9.6M1821.7 421.3l5.3 6M1821.7 427.2l5.3 -6M1825.9 425.5h7.4M1829.6 420.7v9.6M1826.9 422.5l5.3 6M1826.9 428.5l5.3 -6M1831.1 426.6h7.4M1834.8 421.8v9.6M1832.2 423.7l5.3 6M1832.2 429.6l5.3 -6M1836.4 427.8h7.4M1840.1 423v9.6M1837.4 424.8l5.3 6M1837.4 430.8l5.3 -6M1841.6 428.9h7.4M1845.3 424.1v9.6M1842.7 425.9l5.3 6M1842.7 431.9l5.3 -6M1846.9 430h7.4M1850.6 425.2v9.6M1847.9 427l5.3 6M1847.9 433l5.3 -6M1852.1 431.1h7.4M1855.8 426.3v9.6M1853.2 428.1l5.3 6M1853.2 434.1l5.3 -6M1857.4 432.2h7.4M1861.1 427.4v9.6M1858.4 429.2l5.3 6M1858.4 435.1l5.3 -6M1862.6 433.2h7.4M1866.3 428.4v9.6M1863.7 430.2l5.3 6M1863.7 436.2l5.3 -6M1867.9 434.2h7.4M1871.6 429.4v9.6M1868.9 431.3l5.3 6M1868.9 437.2l5.3 -6M1873.1 435.3h7.4M1876.8 430.5v9.6M1874.2 432.3l5.3 6M1874.2 438.2l5.3 -6M1878.4 436.3h7.4M1882.1 431.5v9.6M1879.4 433.3l5.3 6M1879.4 439.2l5.3 -6M1883.6 437.3h7.4M1887.3 432.5v9.6M1884.7 434.3l5.3 6M1884.7 440.2l5.3 -6M1888.9 438.3h7.4M1892.6 433.5v9.6M1889.9 435.3l5.3 6M1889.9 441.2l5.3 -6M1894.1 439.2h7.4M1897.8 434.4v9.6M1895.2 436.3l5.3 6M1895.2 442.2l5.3 -6M1899.4 440.2h7.4M1903.1 435.4v9.6M1900.4 437.3l5.3 6M1900.4 443.2l5.3 -6M1904.6 441.2h7.4M1908.3 436.4v9.6M1905.7 438.2l5.3 6M1905.7 444.2l5.3 -6M1909.9 442.2h7.4M1913.6 437.4v9.6M1910.9 439.2l5.3 6M1910.9 445.2l5.3 -6M1915.1 443.2h7.4M1918.8 438.4v9.6M1916.2 440.2l5.3 6M1916.2 446.2l5.3 -6M1920.4 444.2h7.4M1924.1 439.4v9.6M1921.4 441.3l5.3 6M1921.4 447.2l5.3 -6M1925.6 445.3h7.4M1929.3 440.5v9.6M1926.7 442.3l5.3 6M1926.7 448.2l5.3 -6M1930.9 446.3h7.4M1934.6 441.5v9.6M1931.9 443.3l5.3 6M1931.9 449.3l5.3 -6M1936.1 447.4h7.4M1939.8 442.6v9.6M1937.2 444.4l5.3 6M1937.2 450.4l5.3 -6M1941.4 448.5h7.4M1945.1 443.7v9.6M1942.4 445.5l5.3 6M1942.4 451.4l5.3 -6" stroke="#0072BD" stroke-width="1.4" fill="none"/>
<polyline points="1420.1,250.7 1427.1,260.1 1432.1,270.2 1438.1,288.3 1443.1,264.1 1447.2,270.2 1453.2,261.1 1458.2,252 1463.2,241 1468.3,247.1 1474.3,254.1 1479.3,251.1 1485.3,259.1 1490.4,284.2 1495.4,283 1501.4,294.3 1505.4,293.3 1510.5,307.3 1516.5,317.4 1520.9,331.5 1526.5,321.4 1532.6,342.5 1537.6,339.5 1542.6,345 1547.6,357.4 1553.7,362 1559.4,371.5 1564.6,372.2 1569,372.9 1574,378 1578,388.5 1583.8,384.8 1589,385.5 1594.2,401.8 1599.4,404.8 1604,405.5 1609,404.5 1614,402 1619,404 1622,411.5 1627,415.3 1632.5,417.4 1638.1,419.3 1643.1,429.4 1648.1,426.3 1653.2,434.4 1658.2,436.4 1663.2,447 1668.9,447.8 1674.8,447 1679.3,452.2 1685.2,454.4 1689.6,452.2 1695.5,457.4 1700.7,460.4 1705.9,455.9 1711.1,450.7 1716.3,452.2 1722.2,455.2 1728.1,457.4 1734.1,458.9 1740.7,459.6 1747.4,464.1 1753.3,465.5 1759.2,466.3 1765.2,467 1771.1,469.2 1778.5,472.2 1784.4,470.7 1790.3,470 1795.5,472.2 1800.7,472.9 1805.9,474.4 1811.1,471.5 1817,466.3 1822.9,469.2 1828.8,471.5 1834.8,470.7 1840.7,469.2 1846.6,467.8 1852.5,467.8 1858.5,467.8 1864.4,472.2 1870.3,472.9 1876.2,471.5 1882.1,472.2 1888.1,472.9 1894,470.7 1899.9,472.2 1905.8,472.9 1911.8,473.7 1917.7,473.7 1923.6,472.9 1929.5,473.7 1935.5,472.2 1941.4,470.7 1945.1,469.2" fill="none" stroke="#D95319" stroke-width="1.6" stroke-opacity="0.62" stroke-linejoin="round"/>
<path d="M1416.4 250.7h7.4M1420.1 245.9v9.6M1417.4 247.7l5.3 6M1417.4 253.7l5.3 -6M1423.4 260.1h7.4M1427.1 255.3v9.6M1424.4 257.1l5.3 6M1424.4 263.1l5.3 -6M1428.4 270.2h7.4M1432.1 265.4v9.6M1429.4 267.2l5.3 6M1429.4 273.2l5.3 -6M1434.4 288.3h7.4M1438.1 283.5v9.6M1435.4 285.3l5.3 6M1435.4 291.3l5.3 -6M1439.4 264.1h7.4M1443.1 259.3v9.6M1440.4 261.1l5.3 6M1440.4 267.1l5.3 -6M1443.5 270.2h7.4M1447.2 265.4v9.6M1444.5 267.2l5.3 6M1444.5 273.2l5.3 -6M1449.5 261.1h7.4M1453.2 256.3v9.6M1450.5 258.1l5.3 6M1450.5 264.1l5.3 -6M1459.5 241h7.4M1463.2 236.2v9.6M1460.5 238l5.3 6M1460.5 244l5.3 -6M1464.6 247.1h7.4M1468.3 242.3v9.6M1465.6 244.1l5.3 6M1465.6 250.1l5.3 -6M1470.6 254.1h7.4M1474.3 249.3v9.6M1471.6 251.1l5.3 6M1471.6 257.1l5.3 -6M1475.6 251.1h7.4M1479.3 246.3v9.6M1476.6 248.1l5.3 6M1476.6 254.1l5.3 -6M1481.6 259.1h7.4M1485.3 254.3v9.6M1482.6 256.1l5.3 6M1482.6 262.1l5.3 -6M1486.7 284.2h7.4M1490.4 279.4v9.6M1487.7 281.2l5.3 6M1487.7 287.2l5.3 -6M1491.7 283h7.4M1495.4 278.2v9.6M1492.7 280l5.3 6M1492.7 286l5.3 -6M1497.7 294.3h7.4M1501.4 289.5v9.6M1498.7 291.3l5.3 6M1498.7 297.3l5.3 -6M1501.7 293.3h7.4M1505.4 288.5v9.6M1502.7 290.3l5.3 6M1502.7 296.3l5.3 -6M1506.8 307.3h7.4M1510.5 302.5v9.6M1507.8 304.3l5.3 6M1507.8 310.3l5.3 -6M1512.8 317.4h7.4M1516.5 312.6v9.6M1513.8 314.4l5.3 6M1513.8 320.4l5.3 -6M1517.2 331.5h7.4M1520.9 326.7v9.6M1518.2 328.5l5.3 6M1518.2 334.5l5.3 -6M1522.8 321.4h7.4M1526.5 316.6v9.6M1523.8 318.4l5.3 6M1523.8 324.4l5.3 -6M1528.9 342.5h7.4M1532.6 337.7v9.6M1529.9 339.5l5.3 6M1529.9 345.5l5.3 -6M1533.9 339.5h7.4M1537.6 334.7v9.6M1534.9 336.5l5.3 6M1534.9 342.5l5.3 -6M1538.9 345h7.4M1542.6 340.2v9.6M1539.9 342l5.3 6M1539.9 348l5.3 -6M1543.9 357.4h7.4M1547.6 352.6v9.6M1544.9 354.4l5.3 6M1544.9 360.4l5.3 -6M1550 362h7.4M1553.7 357.2v9.6M1551 359l5.3 6M1551 365l5.3 -6M1555.7 371.5h7.4M1559.4 366.7v9.6M1556.7 368.5l5.3 6M1556.7 374.5l5.3 -6M1560.9 372.2h7.4M1564.6 367.4v9.6M1561.9 369.2l5.3 6M1561.9 375.2l5.3 -6M1565.3 372.9h7.4M1569 368.1v9.6M1566.3 369.9l5.3 6M1566.3 375.9l5.3 -6M1570.3 378h7.4M1574 373.2v9.6M1571.3 375l5.3 6M1571.3 381l5.3 -6M1574.3 388.5h7.4M1578 383.7v9.6M1575.3 385.5l5.3 6M1575.3 391.5l5.3 -6M1580.1 384.8h7.4M1583.8 380v9.6M1581.1 381.8l5.3 6M1581.1 387.8l5.3 -6M1585.3 385.5h7.4M1589 380.7v9.6M1586.3 382.5l5.3 6M1586.3 388.5l5.3 -6M1590.5 401.8h7.4M1594.2 397v9.6M1591.5 398.8l5.3 6M1591.5 404.8l5.3 -6M1595.7 404.8h7.4M1599.4 400v9.6M1596.7 401.8l5.3 6M1596.7 407.8l5.3 -6M1600.3 405.5h7.4M1604 400.7v9.6M1601.3 402.5l5.3 6M1601.3 408.5l5.3 -6M1605.3 404.5h7.4M1609 399.7v9.6M1606.3 401.5l5.3 6M1606.3 407.5l5.3 -6M1610.3 402h7.4M1614 397.2v9.6M1611.3 399l5.3 6M1611.3 405l5.3 -6M1615.3 404h7.4M1619 399.2v9.6M1616.3 401l5.3 6M1616.3 407l5.3 -6M1618.3 411.5h7.4M1622 406.7v9.6M1619.3 408.5l5.3 6M1619.3 414.5l5.3 -6M1623.3 415.3h7.4M1627 410.5v9.6M1624.3 412.3l5.3 6M1624.3 418.3l5.3 -6M1628.8 417.4h7.4M1632.5 412.6v9.6M1629.8 414.4l5.3 6M1629.8 420.4l5.3 -6M1634.4 419.3h7.4M1638.1 414.5v9.6M1635.4 416.3l5.3 6M1635.4 422.3l5.3 -6M1639.4 429.4h7.4M1643.1 424.6v9.6M1640.4 426.4l5.3 6M1640.4 432.4l5.3 -6M1644.4 426.3h7.4M1648.1 421.5v9.6M1645.4 423.3l5.3 6M1645.4 429.3l5.3 -6M1649.5 434.4h7.4M1653.2 429.6v9.6M1650.5 431.4l5.3 6M1650.5 437.4l5.3 -6M1654.5 436.4h7.4M1658.2 431.6v9.6M1655.5 433.4l5.3 6M1655.5 439.4l5.3 -6M1659.5 447h7.4M1663.2 442.2v9.6M1660.5 444l5.3 6M1660.5 450l5.3 -6M1665.2 447.8h7.4M1668.9 443v9.6M1666.2 444.8l5.3 6M1666.2 450.8l5.3 -6M1671.1 447h7.4M1674.8 442.2v9.6M1672.1 444l5.3 6M1672.1 450l5.3 -6M1675.6 452.2h7.4M1679.3 447.4v9.6M1676.6 449.2l5.3 6M1676.6 455.2l5.3 -6M1681.5 454.4h7.4M1685.2 449.6v9.6M1682.5 451.4l5.3 6M1682.5 457.4l5.3 -6M1685.9 452.2h7.4M1689.6 447.4v9.6M1686.9 449.2l5.3 6M1686.9 455.2l5.3 -6M1691.8 457.4h7.4M1695.5 452.6v9.6M1692.8 454.4l5.3 6M1692.8 460.4l5.3 -6M1697 460.4h7.4M1700.7 455.6v9.6M1698 457.4l5.3 6M1698 463.4l5.3 -6M1702.2 455.9h7.4M1705.9 451.1v9.6M1703.2 452.9l5.3 6M1703.2 458.9l5.3 -6M1707.4 450.7h7.4M1711.1 445.9v9.6M1708.4 447.7l5.3 6M1708.4 453.7l5.3 -6M1712.6 452.2h7.4M1716.3 447.4v9.6M1713.6 449.2l5.3 6M1713.6 455.2l5.3 -6M1718.5 455.2h7.4M1722.2 450.4v9.6M1719.5 452.2l5.3 6M1719.5 458.2l5.3 -6M1724.4 457.4h7.4M1728.1 452.6v9.6M1725.4 454.4l5.3 6M1725.4 460.4l5.3 -6M1730.4 458.9h7.4M1734.1 454.1v9.6M1731.4 455.9l5.3 6M1731.4 461.9l5.3 -6M1737 459.6h7.4M1740.7 454.8v9.6M1738 456.6l5.3 6M1738 462.6l5.3 -6M1743.7 464.1h7.4M1747.4 459.3v9.6M1744.7 461.1l5.3 6M1744.7 467.1l5.3 -6M1749.6 465.5h7.4M1753.3 460.7v9.6M1750.6 462.5l5.3 6M1750.6 468.5l5.3 -6M1755.5 466.3h7.4M1759.2 461.5v9.6M1756.5 463.3l5.3 6M1756.5 469.3l5.3 -6M1761.5 467h7.4M1765.2 462.2v9.6M1762.5 464l5.3 6M1762.5 470l5.3 -6M1767.4 469.2h7.4M1771.1 464.4v9.6M1768.4 466.2l5.3 6M1768.4 472.2l5.3 -6M1774.8 472.2h7.4M1778.5 467.4v9.6M1775.8 469.2l5.3 6M1775.8 475.2l5.3 -6M1780.7 470.7h7.4M1784.4 465.9v9.6M1781.7 467.7l5.3 6M1781.7 473.7l5.3 -6M1786.6 470h7.4M1790.3 465.2v9.6M1787.6 467l5.3 6M1787.6 473l5.3 -6M1791.8 472.2h7.4M1795.5 467.4v9.6M1792.8 469.2l5.3 6M1792.8 475.2l5.3 -6M1797 472.9h7.4M1800.7 468.1v9.6M1798 469.9l5.3 6M1798 475.9l5.3 -6M1802.2 474.4h7.4M1805.9 469.6v9.6M1803.2 471.4l5.3 6M1803.2 477.4l5.3 -6M1807.4 471.5h7.4M1811.1 466.7v9.6M1808.4 468.5l5.3 6M1808.4 474.5l5.3 -6M1813.3 466.3h7.4M1817 461.5v9.6M1814.3 463.3l5.3 6M1814.3 469.3l5.3 -6M1819.2 469.2h7.4M1822.9 464.4v9.6M1820.2 466.2l5.3 6M1820.2 472.2l5.3 -6M1825.1 471.5h7.4M1828.8 466.7v9.6M1826.1 468.5l5.3 6M1826.1 474.5l5.3 -6M1831.1 470.7h7.4M1834.8 465.9v9.6M1832.1 467.7l5.3 6M1832.1 473.7l5.3 -6M1837 469.2h7.4M1840.7 464.4v9.6M1838 466.2l5.3 6M1838 472.2l5.3 -6M1842.9 467.8h7.4M1846.6 463v9.6M1843.9 464.8l5.3 6M1843.9 470.8l5.3 -6M1848.8 467.8h7.4M1852.5 463v9.6M1849.8 464.8l5.3 6M1849.8 470.8l5.3 -6M1854.8 467.8h7.4M1858.5 463v9.6M1855.8 464.8l5.3 6M1855.8 470.8l5.3 -6M1860.7 472.2h7.4M1864.4 467.4v9.6M1861.7 469.2l5.3 6M1861.7 475.2l5.3 -6M1866.6 472.9h7.4M1870.3 468.1v9.6M1867.6 469.9l5.3 6M1867.6 475.9l5.3 -6M1872.5 471.5h7.4M1876.2 466.7v9.6M1873.5 468.5l5.3 6M1873.5 474.5l5.3 -6M1878.4 472.2h7.4M1882.1 467.4v9.6M1879.4 469.2l5.3 6M1879.4 475.2l5.3 -6M1884.4 472.9h7.4M1888.1 468.1v9.6M1885.4 469.9l5.3 6M1885.4 475.9l5.3 -6M1890.3 470.7h7.4M1894 465.9v9.6M1891.3 467.7l5.3 6M1891.3 473.7l5.3 -6M1896.2 472.2h7.4M1899.9 467.4v9.6M1897.2 469.2l5.3 6M1897.2 475.2l5.3 -6M1902.1 472.9h7.4M1905.8 468.1v9.6M1903.1 469.9l5.3 6M1903.1 475.9l5.3 -6M1908.1 473.7h7.4M1911.8 468.9v9.6M1909.1 470.7l5.3 6M1909.1 476.7l5.3 -6M1914 473.7h7.4M1917.7 468.9v9.6M1915 470.7l5.3 6M1915 476.7l5.3 -6M1919.9 472.9h7.4M1923.6 468.1v9.6M1920.9 469.9l5.3 6M1920.9 475.9l5.3 -6M1925.8 473.7h7.4M1929.5 468.9v9.6M1926.8 470.7l5.3 6M1926.8 476.7l5.3 -6M1931.8 472.2h7.4M1935.5 467.4v9.6M1932.8 469.2l5.3 6M1932.8 475.2l5.3 -6M1937.7 470.7h7.4M1941.4 465.9v9.6M1938.7 467.7l5.3 6M1938.7 473.7l5.3 -6M1941.4 469.2h7.4M1945.1 464.4v9.6M1942.4 466.2l5.3 6M1942.4 472.2l5.3 -6" stroke="#D95319" stroke-width="1.4" fill="none"/>
<polyline points="1420.1,250.7 1427.1,272.2 1432.1,296.3 1437.1,266.1 1443.1,284.2 1447.2,294.3 1450.5,255 1454.2,223.5 1458.2,251.1 1462.2,237 1469.3,203.4 1471.3,196.4 1474.3,204.4 1479.3,154.2 1484.3,231.5 1489.4,224.5 1495.4,280.2 1497.4,255.1 1501.4,257.1 1503.4,230.5 1506.4,265.1 1510.5,298.3 1515.5,315 1521.5,304.3 1526.5,311.4 1532.6,317.4 1537.6,297.3 1542.5,334.4 1546,340 1550.5,346.3 1554.5,345 1559.4,330.7 1563.8,336.7 1569,356.7 1574.2,344.1 1579.4,331.5 1584.6,347 1590.5,354.4 1595.7,384.8 1601.6,384.1 1607.5,382.6 1612,392.9 1616.4,383.3 1622.3,401.1 1626.8,415.9 1632,410 1637.9,401.1 1643.1,390.7 1647.5,402.6 1653.4,417.4 1658.5,420 1663,424.8 1668.9,433.7 1674.1,435.9 1679.3,442.6 1685.2,453 1690.4,444.8 1694.8,433 1700.7,420.4 1706.7,430 1711.1,432.2 1717,435.9 1720.7,437.4 1726.6,428.5 1731.8,436.7 1737,427.8 1741.5,435.2 1748.1,425.6 1753.3,415.9 1758.5,421.8 1763.7,438.9 1769.6,446.3 1774.8,444.1 1780,441.1 1784.4,433.7 1790.3,430 1795.5,430.7 1800.7,440.4 1805.9,451.5 1811.1,453.7 1817,450.7 1822.2,452.2 1827.4,448.5 1832.5,441.1 1838.5,436.7 1842.9,445.5 1848.1,449.2 1853.3,457.4 1858.5,458.9 1864.4,470.7 1868.8,472.2 1874,474.4 1879.2,468.5 1885.1,467 1891,465.5 1896.2,461.1 1902.1,458.9 1907.3,462.6 1911.8,467 1917.7,464.8 1923.6,467.8 1929.5,469.2 1935.5,468.5 1941.4,468.5 1945.1,467.8" fill="none" stroke="#EDB120" stroke-width="1.6" stroke-opacity="0.62" stroke-linejoin="round"/>
<path d="M1416.4 250.7h7.4M1420.1 245.9v9.6M1417.4 247.7l5.3 6M1417.4 253.7l5.3 -6M1423.4 272.2h7.4M1427.1 267.4v9.6M1424.4 269.2l5.3 6M1424.4 275.2l5.3 -6M1428.4 296.3h7.4M1432.1 291.5v9.6M1429.4 293.3l5.3 6M1429.4 299.3l5.3 -6M1433.4 266.1h7.4M1437.1 261.3v9.6M1434.4 263.1l5.3 6M1434.4 269.1l5.3 -6M1439.4 284.2h7.4M1443.1 279.4v9.6M1440.4 281.2l5.3 6M1440.4 287.2l5.3 -6M1443.5 294.3h7.4M1447.2 289.5v9.6M1444.5 291.3l5.3 6M1444.5 297.3l5.3 -6M1450.5 223.5h7.4M1454.2 218.7v9.6M1451.5 220.5l5.3 6M1451.5 226.5l5.3 -6M1454.5 251.1h7.4M1458.2 246.3v9.6M1455.5 248.1l5.3 6M1455.5 254.1l5.3 -6M1458.5 237h7.4M1462.2 232.2v9.6M1459.5 234l5.3 6M1459.5 240l5.3 -6M1465.6 203.4h7.4M1469.3 198.6v9.6M1466.6 200.4l5.3 6M1466.6 206.4l5.3 -6M1470.6 204.4h7.4M1474.3 199.6v9.6M1471.6 201.4l5.3 6M1471.6 207.4l5.3 -6M1475.6 154.2h7.4M1479.3 149.4v9.6M1476.6 151.2l5.3 6M1476.6 157.2l5.3 -6M1480.6 231.5h7.4M1484.3 226.7v9.6M1481.6 228.5l5.3 6M1481.6 234.5l5.3 -6M1485.7 224.5h7.4M1489.4 219.7v9.6M1486.7 221.5l5.3 6M1486.7 227.5l5.3 -6M1491.7 280.2h7.4M1495.4 275.4v9.6M1492.7 277.2l5.3 6M1492.7 283.2l5.3 -6M1493.7 255.1h7.4M1497.4 250.3v9.6M1494.7 252.1l5.3 6M1494.7 258.1l5.3 -6M1497.7 257.1h7.4M1501.4 252.3v9.6M1498.7 254.1l5.3 6M1498.7 260.1l5.3 -6M1502.7 265.1h7.4M1506.4 260.3v9.6M1503.7 262.1l5.3 6M1503.7 268.1l5.3 -6M1506.8 298.3h7.4M1510.5 293.5v9.6M1507.8 295.3l5.3 6M1507.8 301.3l5.3 -6M1517.8 304.3h7.4M1521.5 299.5v9.6M1518.8 301.3l5.3 6M1518.8 307.3l5.3 -6M1522.8 311.4h7.4M1526.5 306.6v9.6M1523.8 308.4l5.3 6M1523.8 314.4l5.3 -6M1528.9 317.4h7.4M1532.6 312.6v9.6M1529.9 314.4l5.3 6M1529.9 320.4l5.3 -6M1533.9 297.3h7.4M1537.6 292.5v9.6M1534.9 294.3l5.3 6M1534.9 300.3l5.3 -6M1538.8 334.4h7.4M1542.5 329.6v9.6M1539.8 331.4l5.3 6M1539.8 337.4l5.3 -6M1546.8 346.3h7.4M1550.5 341.5v9.6M1547.8 343.3l5.3 6M1547.8 349.3l5.3 -6M1550.8 345h7.4M1554.5 340.2v9.6M1551.8 342l5.3 6M1551.8 348l5.3 -6M1555.7 330.7h7.4M1559.4 325.9v9.6M1556.7 327.7l5.3 6M1556.7 333.7l5.3 -6M1560.1 336.7h7.4M1563.8 331.9v9.6M1561.1 333.7l5.3 6M1561.1 339.7l5.3 -6M1565.3 356.7h7.4M1569 351.9v9.6M1566.3 353.7l5.3 6M1566.3 359.7l5.3 -6M1570.5 344.1h7.4M1574.2 339.3v9.6M1571.5 341.1l5.3 6M1571.5 347.1l5.3 -6M1575.7 331.5h7.4M1579.4 326.7v9.6M1576.7 328.5l5.3 6M1576.7 334.5l5.3 -6M1580.9 347h7.4M1584.6 342.2v9.6M1581.9 344l5.3 6M1581.9 350l5.3 -6M1586.8 354.4h7.4M1590.5 349.6v9.6M1587.8 351.4l5.3 6M1587.8 357.4l5.3 -6M1592 384.8h7.4M1595.7 380v9.6M1593 381.8l5.3 6M1593 387.8l5.3 -6M1597.9 384.1h7.4M1601.6 379.3v9.6M1598.9 381.1l5.3 6M1598.9 387.1l5.3 -6M1603.8 382.6h7.4M1607.5 377.8v9.6M1604.8 379.6l5.3 6M1604.8 385.6l5.3 -6M1608.3 392.9h7.4M1612 388.1v9.6M1609.3 389.9l5.3 6M1609.3 395.9l5.3 -6M1612.7 383.3h7.4M1616.4 378.5v9.6M1613.7 380.3l5.3 6M1613.7 386.3l5.3 -6M1618.6 401.1h7.4M1622.3 396.3v9.6M1619.6 398.1l5.3 6M1619.6 404.1l5.3 -6M1623.1 415.9h7.4M1626.8 411.1v9.6M1624.1 412.9l5.3 6M1624.1 418.9l5.3 -6M1628.3 410h7.4M1632 405.2v9.6M1629.3 407l5.3 6M1629.3 413l5.3 -6M1634.2 401.1h7.4M1637.9 396.3v9.6M1635.2 398.1l5.3 6M1635.2 404.1l5.3 -6M1639.4 390.7h7.4M1643.1 385.9v9.6M1640.4 387.7l5.3 6M1640.4 393.7l5.3 -6M1643.8 402.6h7.4M1647.5 397.8v9.6M1644.8 399.6l5.3 6M1644.8 405.6l5.3 -6M1649.7 417.4h7.4M1653.4 412.6v9.6M1650.7 414.4l5.3 6M1650.7 420.4l5.3 -6M1654.8 420h7.4M1658.5 415.2v9.6M1655.8 417l5.3 6M1655.8 423l5.3 -6M1659.3 424.8h7.4M1663 420v9.6M1660.3 421.8l5.3 6M1660.3 427.8l5.3 -6M1665.2 433.7h7.4M1668.9 428.9v9.6M1666.2 430.7l5.3 6M1666.2 436.7l5.3 -6M1670.4 435.9h7.4M1674.1 431.1v9.6M1671.4 432.9l5.3 6M1671.4 438.9l5.3 -6M1675.6 442.6h7.4M1679.3 437.8v9.6M1676.6 439.6l5.3 6M1676.6 445.6l5.3 -6M1681.5 453h7.4M1685.2 448.2v9.6M1682.5 450l5.3 6M1682.5 456l5.3 -6M1686.7 444.8h7.4M1690.4 440v9.6M1687.7 441.8l5.3 6M1687.7 447.8l5.3 -6M1691.1 433h7.4M1694.8 428.2v9.6M1692.1 430l5.3 6M1692.1 436l5.3 -6M1697 420.4h7.4M1700.7 415.6v9.6M1698 417.4l5.3 6M1698 423.4l5.3 -6M1703 430h7.4M1706.7 425.2v9.6M1704 427l5.3 6M1704 433l5.3 -6M1707.4 432.2h7.4M1711.1 427.4v9.6M1708.4 429.2l5.3 6M1708.4 435.2l5.3 -6M1713.3 435.9h7.4M1717 431.1v9.6M1714.3 432.9l5.3 6M1714.3 438.9l5.3 -6M1717 437.4h7.4M1720.7 432.6v9.6M1718 434.4l5.3 6M1718 440.4l5.3 -6M1722.9 428.5h7.4M1726.6 423.7v9.6M1723.9 425.5l5.3 6M1723.9 431.5l5.3 -6M1728.1 436.7h7.4M1731.8 431.9v9.6M1729.1 433.7l5.3 6M1729.1 439.7l5.3 -6M1733.3 427.8h7.4M1737 423v9.6M1734.3 424.8l5.3 6M1734.3 430.8l5.3 -6M1737.8 435.2h7.4M1741.5 430.4v9.6M1738.8 432.2l5.3 6M1738.8 438.2l5.3 -6M1744.4 425.6h7.4M1748.1 420.8v9.6M1745.4 422.6l5.3 6M1745.4 428.6l5.3 -6M1749.6 415.9h7.4M1753.3 411.1v9.6M1750.6 412.9l5.3 6M1750.6 418.9l5.3 -6M1754.8 421.8h7.4M1758.5 417v9.6M1755.8 418.8l5.3 6M1755.8 424.8l5.3 -6M1760 438.9h7.4M1763.7 434.1v9.6M1761 435.9l5.3 6M1761 441.9l5.3 -6M1765.9 446.3h7.4M1769.6 441.5v9.6M1766.9 443.3l5.3 6M1766.9 449.3l5.3 -6M1771.1 444.1h7.4M1774.8 439.3v9.6M1772.1 441.1l5.3 6M1772.1 447.1l5.3 -6M1776.3 441.1h7.4M1780 436.3v9.6M1777.3 438.1l5.3 6M1777.3 444.1l5.3 -6M1780.7 433.7h7.4M1784.4 428.9v9.6M1781.7 430.7l5.3 6M1781.7 436.7l5.3 -6M1786.6 430h7.4M1790.3 425.2v9.6M1787.6 427l5.3 6M1787.6 433l5.3 -6M1791.8 430.7h7.4M1795.5 425.9v9.6M1792.8 427.7l5.3 6M1792.8 433.7l5.3 -6M1797 440.4h7.4M1800.7 435.6v9.6M1798 437.4l5.3 6M1798 443.4l5.3 -6M1802.2 451.5h7.4M1805.9 446.7v9.6M1803.2 448.5l5.3 6M1803.2 454.5l5.3 -6M1807.4 453.7h7.4M1811.1 448.9v9.6M1808.4 450.7l5.3 6M1808.4 456.7l5.3 -6M1813.3 450.7h7.4M1817 445.9v9.6M1814.3 447.7l5.3 6M1814.3 453.7l5.3 -6M1818.5 452.2h7.4M1822.2 447.4v9.6M1819.5 449.2l5.3 6M1819.5 455.2l5.3 -6M1823.7 448.5h7.4M1827.4 443.7v9.6M1824.7 445.5l5.3 6M1824.7 451.5l5.3 -6M1828.8 441.1h7.4M1832.5 436.3v9.6M1829.8 438.1l5.3 6M1829.8 444.1l5.3 -6M1834.8 436.7h7.4M1838.5 431.9v9.6M1835.8 433.7l5.3 6M1835.8 439.7l5.3 -6M1839.2 445.5h7.4M1842.9 440.7v9.6M1840.2 442.5l5.3 6M1840.2 448.5l5.3 -6M1844.4 449.2h7.4M1848.1 444.4v9.6M1845.4 446.2l5.3 6M1845.4 452.2l5.3 -6M1849.6 457.4h7.4M1853.3 452.6v9.6M1850.6 454.4l5.3 6M1850.6 460.4l5.3 -6M1854.8 458.9h7.4M1858.5 454.1v9.6M1855.8 455.9l5.3 6M1855.8 461.9l5.3 -6M1860.7 470.7h7.4M1864.4 465.9v9.6M1861.7 467.7l5.3 6M1861.7 473.7l5.3 -6M1865.1 472.2h7.4M1868.8 467.4v9.6M1866.1 469.2l5.3 6M1866.1 475.2l5.3 -6M1870.3 474.4h7.4M1874 469.6v9.6M1871.3 471.4l5.3 6M1871.3 477.4l5.3 -6M1875.5 468.5h7.4M1879.2 463.7v9.6M1876.5 465.5l5.3 6M1876.5 471.5l5.3 -6M1881.4 467h7.4M1885.1 462.2v9.6M1882.4 464l5.3 6M1882.4 470l5.3 -6M1887.3 465.5h7.4M1891 460.7v9.6M1888.3 462.5l5.3 6M1888.3 468.5l5.3 -6M1892.5 461.1h7.4M1896.2 456.3v9.6M1893.5 458.1l5.3 6M1893.5 464.1l5.3 -6M1898.4 458.9h7.4M1902.1 454.1v9.6M1899.4 455.9l5.3 6M1899.4 461.9l5.3 -6M1903.6 462.6h7.4M1907.3 457.8v9.6M1904.6 459.6l5.3 6M1904.6 465.6l5.3 -6M1908.1 467h7.4M1911.8 462.2v9.6M1909.1 464l5.3 6M1909.1 470l5.3 -6M1914 464.8h7.4M1917.7 460v9.6M1915 461.8l5.3 6M1915 467.8l5.3 -6M1919.9 467.8h7.4M1923.6 463v9.6M1920.9 464.8l5.3 6M1920.9 470.8l5.3 -6M1925.8 469.2h7.4M1929.5 464.4v9.6M1926.8 466.2l5.3 6M1926.8 472.2l5.3 -6M1931.8 468.5h7.4M1935.5 463.7v9.6M1932.8 465.5l5.3 6M1932.8 471.5l5.3 -6M1937.7 468.5h7.4M1941.4 463.7v9.6M1938.7 465.5l5.3 6M1938.7 471.5l5.3 -6M1941.4 467.8h7.4M1945.1 463v9.6M1942.4 464.8l5.3 6M1942.4 470.8l5.3 -6" stroke="#EDB120" stroke-width="1.4" fill="none"/>
<polyline points="1420.1,250.7 1422,250.1 1427.1,150.1 1432.1,121 1435.1,152.2 1438.1,126 1443.1,169.2 1447.2,82.4 1450.2,244.6 1453.2,268.2 1458.2,167.2 1463.2,246.1 1469.3,271.2 1474.3,230.5 1479.3,328.4 1484.6,343.3 1489.8,387.8 1492.8,409.2 1495.7,387 1500.9,351.5 1506.1,350.7 1510.5,359.6 1513.5,364.8 1516.5,341.8 1520.9,381.1 1524.6,391.5 1526.8,366.3 1532,378.9 1537.2,404.8 1542.4,389.2 1547.6,392.2 1550.5,384.8 1553.5,402.6 1557.9,415.9 1563.1,415.2 1569,388.5 1574.2,372.2 1579.4,395.2 1584.6,381.8 1589.8,387 1595,392.2 1600.9,372.2 1605.9,309.4 1611.2,350 1616.4,333.7 1622.3,341.8 1627.5,376.7 1632.7,341.8 1638.1,291.3 1643.1,273.2 1648.1,218.5 1651.1,230.5 1653.2,179.3 1656.2,210.4 1659.2,173.3 1664.2,89.4 1670,58.3 1674,213.4 1679.1,141.1 1682.1,110.5 1685.1,169.2 1689.1,94.5 1693.1,167.2 1695.1,90.4 1698.2,116.6 1701.2,100.5 1706.2,6.6 1711.2,94.5 1716.2,186.3 1719.3,135.1 1722.3,180.3 1724.3,190.3 1727.3,169.2 1729.3,132.1 1733.3,185.3 1735.3,170.2 1737.3,255.1 1739.5,230 1742.4,236 1748.4,294.3 1753.4,335.5 1758.4,322.4 1764.5,331.5 1768.5,375.1 1773.5,384.1 1779.5,413.3 1784.6,396.2 1789.6,392.2 1795.6,385.1 1800.7,380.1 1805.7,357 1808.7,334.5 1812.7,363 1813.7,373.1 1816.7,343.5 1819,365 1822.8,369.1 1826.8,340.5 1829.8,332.5 1832.8,357 1837.8,346.5 1842.9,323.4 1845.9,275.2 1847.9,304.3 1850.9,298.3 1853.9,374.1 1858.9,367.1 1864,413.3 1870,396.2 1875,410.3 1880,430.4 1886.1,412.3 1891.1,425.3 1896.1,430.4 1901.1,425.3 1906.2,439.4 1911.2,436.4 1916.2,443.4 1922.2,440.4 1927.3,432.4 1933.3,428.4 1938.3,431.4 1942.3,409.3 1945.1,395" fill="none" stroke="#7E2F8E" stroke-width="1.6" stroke-opacity="0.62" stroke-linejoin="round"/>
<path d="M1416.4 250.7h7.4M1420.1 245.9v9.6M1417.4 247.7l5.3 6M1417.4 253.7l5.3 -6M1418.3 250.1h7.4M1422 245.3v9.6M1419.3 247.1l5.3 6M1419.3 253.1l5.3 -6M1423.4 150.1h7.4M1427.1 145.3v9.6M1424.4 147.1l5.3 6M1424.4 153.1l5.3 -6M1428.4 121h7.4M1432.1 116.2v9.6M1429.4 118l5.3 6M1429.4 124l5.3 -6M1434.4 126h7.4M1438.1 121.2v9.6M1435.4 123l5.3 6M1435.4 129l5.3 -6M1439.4 169.2h7.4M1443.1 164.4v9.6M1440.4 166.2l5.3 6M1440.4 172.2l5.3 -6M1443.5 82.4h7.4M1447.2 77.6v9.6M1444.5 79.4l5.3 6M1444.5 85.4l5.3 -6M1449.5 268.2h7.4M1453.2 263.4v9.6M1450.5 265.2l5.3 6M1450.5 271.2l5.3 -6M1454.5 167.2h7.4M1458.2 162.4v9.6M1455.5 164.2l5.3 6M1455.5 170.2l5.3 -6M1459.5 246.1h7.4M1463.2 241.3v9.6M1460.5 243.1l5.3 6M1460.5 249.1l5.3 -6M1465.6 271.2h7.4M1469.3 266.4v9.6M1466.6 268.2l5.3 6M1466.6 274.2l5.3 -6M1470.6 230.5h7.4M1474.3 225.7v9.6M1471.6 227.5l5.3 6M1471.6 233.5l5.3 -6M1475.6 328.4h7.4M1479.3 323.6v9.6M1476.6 325.4l5.3 6M1476.6 331.4l5.3 -6M1480.9 343.3h7.4M1484.6 338.5v9.6M1481.9 340.3l5.3 6M1481.9 346.3l5.3 -6M1486.1 387.8h7.4M1489.8 383v9.6M1487.1 384.8l5.3 6M1487.1 390.8l5.3 -6M1492 387h7.4M1495.7 382.2v9.6M1493 384l5.3 6M1493 390l5.3 -6M1497.2 351.5h7.4M1500.9 346.7v9.6M1498.2 348.5l5.3 6M1498.2 354.5l5.3 -6M1502.4 350.7h7.4M1506.1 345.9v9.6M1503.4 347.7l5.3 6M1503.4 353.7l5.3 -6M1506.8 359.6h7.4M1510.5 354.8v9.6M1507.8 356.6l5.3 6M1507.8 362.6l5.3 -6M1512.8 341.8h7.4M1516.5 337v9.6M1513.8 338.8l5.3 6M1513.8 344.8l5.3 -6M1517.2 381.1h7.4M1520.9 376.3v9.6M1518.2 378.1l5.3 6M1518.2 384.1l5.3 -6M1523.1 366.3h7.4M1526.8 361.5v9.6M1524.1 363.3l5.3 6M1524.1 369.3l5.3 -6M1528.3 378.9h7.4M1532 374.1v9.6M1529.3 375.9l5.3 6M1529.3 381.9l5.3 -6M1533.5 404.8h7.4M1537.2 400v9.6M1534.5 401.8l5.3 6M1534.5 407.8l5.3 -6M1538.7 389.2h7.4M1542.4 384.4v9.6M1539.7 386.2l5.3 6M1539.7 392.2l5.3 -6M1543.9 392.2h7.4M1547.6 387.4v9.6M1544.9 389.2l5.3 6M1544.9 395.2l5.3 -6M1549.8 402.6h7.4M1553.5 397.8v9.6M1550.8 399.6l5.3 6M1550.8 405.6l5.3 -6M1554.2 415.9h7.4M1557.9 411.1v9.6M1555.2 412.9l5.3 6M1555.2 418.9l5.3 -6M1559.4 415.2h7.4M1563.1 410.4v9.6M1560.4 412.2l5.3 6M1560.4 418.2l5.3 -6M1565.3 388.5h7.4M1569 383.7v9.6M1566.3 385.5l5.3 6M1566.3 391.5l5.3 -6M1570.5 372.2h7.4M1574.2 367.4v9.6M1571.5 369.2l5.3 6M1571.5 375.2l5.3 -6M1575.7 395.2h7.4M1579.4 390.4v9.6M1576.7 392.2l5.3 6M1576.7 398.2l5.3 -6M1580.9 381.8h7.4M1584.6 377v9.6M1581.9 378.8l5.3 6M1581.9 384.8l5.3 -6M1586.1 387h7.4M1589.8 382.2v9.6M1587.1 384l5.3 6M1587.1 390l5.3 -6M1591.3 392.2h7.4M1595 387.4v9.6M1592.3 389.2l5.3 6M1592.3 395.2l5.3 -6M1597.2 372.2h7.4M1600.9 367.4v9.6M1598.2 369.2l5.3 6M1598.2 375.2l5.3 -6M1602.2 309.4h7.4M1605.9 304.6v9.6M1603.2 306.4l5.3 6M1603.2 312.4l5.3 -6M1607.5 350h7.4M1611.2 345.2v9.6M1608.5 347l5.3 6M1608.5 353l5.3 -6M1612.7 333.7h7.4M1616.4 328.9v9.6M1613.7 330.7l5.3 6M1613.7 336.7l5.3 -6M1618.6 341.8h7.4M1622.3 337v9.6M1619.6 338.8l5.3 6M1619.6 344.8l5.3 -6M1623.8 376.7h7.4M1627.5 371.9v9.6M1624.8 373.7l5.3 6M1624.8 379.7l5.3 -6M1629 341.8h7.4M1632.7 337v9.6M1630 338.8l5.3 6M1630 344.8l5.3 -6M1634.4 291.3h7.4M1638.1 286.5v9.6M1635.4 288.3l5.3 6M1635.4 294.3l5.3 -6M1639.4 273.2h7.4M1643.1 268.4v9.6M1640.4 270.2l5.3 6M1640.4 276.2l5.3 -6M1644.4 218.5h7.4M1648.1 213.7v9.6M1645.4 215.5l5.3 6M1645.4 221.5l5.3 -6M1649.5 179.3h7.4M1653.2 174.5v9.6M1650.5 176.3l5.3 6M1650.5 182.3l5.3 -6M1655.5 173.3h7.4M1659.2 168.5v9.6M1656.5 170.3l5.3 6M1656.5 176.3l5.3 -6M1660.5 89.4h7.4M1664.2 84.6v9.6M1661.5 86.4l5.3 6M1661.5 92.4l5.3 -6M1666.3 58.3h7.4M1670 53.5v9.6M1667.3 55.3l5.3 6M1667.3 61.3l5.3 -6M1670.3 213.4h7.4M1674 208.6v9.6M1671.3 210.4l5.3 6M1671.3 216.4l5.3 -6M1675.4 141.1h7.4M1679.1 136.3v9.6M1676.4 138.1l5.3 6M1676.4 144.1l5.3 -6M1681.4 169.2h7.4M1685.1 164.4v9.6M1682.4 166.2l5.3 6M1682.4 172.2l5.3 -6M1685.4 94.5h7.4M1689.1 89.7v9.6M1686.4 91.5l5.3 6M1686.4 97.5l5.3 -6M1691.4 90.4h7.4M1695.1 85.6v9.6M1692.4 87.4l5.3 6M1692.4 93.4l5.3 -6M1697.5 100.5h7.4M1701.2 95.7v9.6M1698.5 97.5l5.3 6M1698.5 103.5l5.3 -6M1702.5 6.6h7.4M1706.2 1.8v9.6M1703.5 3.6l5.3 6M1703.5 9.6l5.3 -6M1707.5 94.5h7.4M1711.2 89.7v9.6M1708.5 91.5l5.3 6M1708.5 97.5l5.3 -6M1712.5 186.3h7.4M1716.2 181.5v9.6M1713.5 183.3l5.3 6M1713.5 189.3l5.3 -6M1718.6 180.3h7.4M1722.3 175.5v9.6M1719.6 177.3l5.3 6M1719.6 183.3l5.3 -6M1723.6 169.2h7.4M1727.3 164.4v9.6M1724.6 166.2l5.3 6M1724.6 172.2l5.3 -6M1729.6 185.3h7.4M1733.3 180.5v9.6M1730.6 182.3l5.3 6M1730.6 188.3l5.3 -6M1733.6 255.1h7.4M1737.3 250.3v9.6M1734.6 252.1l5.3 6M1734.6 258.1l5.3 -6M1738.7 236h7.4M1742.4 231.2v9.6M1739.7 233l5.3 6M1739.7 239l5.3 -6M1744.7 294.3h7.4M1748.4 289.5v9.6M1745.7 291.3l5.3 6M1745.7 297.3l5.3 -6M1749.7 335.5h7.4M1753.4 330.7v9.6M1750.7 332.5l5.3 6M1750.7 338.5l5.3 -6M1754.7 322.4h7.4M1758.4 317.6v9.6M1755.7 319.4l5.3 6M1755.7 325.4l5.3 -6M1760.8 331.5h7.4M1764.5 326.7v9.6M1761.8 328.5l5.3 6M1761.8 334.5l5.3 -6M1764.8 375.1h7.4M1768.5 370.3v9.6M1765.8 372.1l5.3 6M1765.8 378.1l5.3 -6M1769.8 384.1h7.4M1773.5 379.3v9.6M1770.8 381.1l5.3 6M1770.8 387.1l5.3 -6M1775.8 413.3h7.4M1779.5 408.5v9.6M1776.8 410.3l5.3 6M1776.8 416.3l5.3 -6M1780.9 396.2h7.4M1784.6 391.4v9.6M1781.9 393.2l5.3 6M1781.9 399.2l5.3 -6M1785.9 392.2h7.4M1789.6 387.4v9.6M1786.9 389.2l5.3 6M1786.9 395.2l5.3 -6M1791.9 385.1h7.4M1795.6 380.3v9.6M1792.9 382.1l5.3 6M1792.9 388.1l5.3 -6M1797 380.1h7.4M1800.7 375.3v9.6M1798 377.1l5.3 6M1798 383.1l5.3 -6M1802 357h7.4M1805.7 352.2v9.6M1803 354l5.3 6M1803 360l5.3 -6M1809 363h7.4M1812.7 358.2v9.6M1810 360l5.3 6M1810 366l5.3 -6M1813 343.5h7.4M1816.7 338.7v9.6M1814 340.5l5.3 6M1814 346.5l5.3 -6M1819.1 369.1h7.4M1822.8 364.3v9.6M1820.1 366.1l5.3 6M1820.1 372.1l5.3 -6M1823.1 340.5h7.4M1826.8 335.7v9.6M1824.1 337.5l5.3 6M1824.1 343.5l5.3 -6M1829.1 357h7.4M1832.8 352.2v9.6M1830.1 354l5.3 6M1830.1 360l5.3 -6M1834.1 346.5h7.4M1837.8 341.7v9.6M1835.1 343.5l5.3 6M1835.1 349.5l5.3 -6M1839.2 323.4h7.4M1842.9 318.6v9.6M1840.2 320.4l5.3 6M1840.2 326.4l5.3 -6M1844.2 304.3h7.4M1847.9 299.5v9.6M1845.2 301.3l5.3 6M1845.2 307.3l5.3 -6M1850.2 374.1h7.4M1853.9 369.3v9.6M1851.2 371.1l5.3 6M1851.2 377.1l5.3 -6M1855.2 367.1h7.4M1858.9 362.3v9.6M1856.2 364.1l5.3 6M1856.2 370.1l5.3 -6M1860.3 413.3h7.4M1864 408.5v9.6M1861.3 410.3l5.3 6M1861.3 416.3l5.3 -6M1866.3 396.2h7.4M1870 391.4v9.6M1867.3 393.2l5.3 6M1867.3 399.2l5.3 -6M1871.3 410.3h7.4M1875 405.5v9.6M1872.3 407.3l5.3 6M1872.3 413.3l5.3 -6M1876.3 430.4h7.4M1880 425.6v9.6M1877.3 427.4l5.3 6M1877.3 433.4l5.3 -6M1882.4 412.3h7.4M1886.1 407.5v9.6M1883.4 409.3l5.3 6M1883.4 415.3l5.3 -6M1887.4 425.3h7.4M1891.1 420.5v9.6M1888.4 422.3l5.3 6M1888.4 428.3l5.3 -6M1892.4 430.4h7.4M1896.1 425.6v9.6M1893.4 427.4l5.3 6M1893.4 433.4l5.3 -6M1897.4 425.3h7.4M1901.1 420.5v9.6M1898.4 422.3l5.3 6M1898.4 428.3l5.3 -6M1902.5 439.4h7.4M1906.2 434.6v9.6M1903.5 436.4l5.3 6M1903.5 442.4l5.3 -6M1907.5 436.4h7.4M1911.2 431.6v9.6M1908.5 433.4l5.3 6M1908.5 439.4l5.3 -6M1912.5 443.4h7.4M1916.2 438.6v9.6M1913.5 440.4l5.3 6M1913.5 446.4l5.3 -6M1918.5 440.4h7.4M1922.2 435.6v9.6M1919.5 437.4l5.3 6M1919.5 443.4l5.3 -6M1923.6 432.4h7.4M1927.3 427.6v9.6M1924.6 429.4l5.3 6M1924.6 435.4l5.3 -6M1929.6 428.4h7.4M1933.3 423.6v9.6M1930.6 425.4l5.3 6M1930.6 431.4l5.3 -6M1934.6 431.4h7.4M1938.3 426.6v9.6M1935.6 428.4l5.3 6M1935.6 434.4l5.3 -6M1938.6 409.3h7.4M1942.3 404.5v9.6M1939.6 406.3l5.3 6M1939.6 412.3l5.3 -6M1941.4 395h7.4M1945.1 390.2v9.6M1942.4 392l5.3 6M1942.4 398l5.3 -6" stroke="#7E2F8E" stroke-width="1.4" fill="none"/>
</g>
<text class="tk" x="1420.1" y="522.3" text-anchor="middle" transform="translate(1420.1 0) scale(0.91 1) translate(-1420.1 0)">0</text>
<text class="tk" x="1472.6" y="522.3" text-anchor="middle" transform="translate(1472.6 0) scale(0.91 1) translate(-1472.6 0)">20</text>
<text class="tk" x="1525.1" y="522.3" text-anchor="middle" transform="translate(1525.1 0) scale(0.91 1) translate(-1525.1 0)">40</text>
<text class="tk" x="1577.6" y="522.3" text-anchor="middle" transform="translate(1577.6 0) scale(0.91 1) translate(-1577.6 0)">60</text>
<text class="tk" x="1630.1" y="522.3" text-anchor="middle" transform="translate(1630.1 0) scale(0.91 1) translate(-1630.1 0)">80</text>
<text class="tk" x="1682.6" y="522.3" text-anchor="middle" transform="translate(1682.6 0) scale(0.91 1) translate(-1682.6 0)">100</text>
<text class="tk" x="1735.1" y="522.3" text-anchor="middle" transform="translate(1735.1 0) scale(0.91 1) translate(-1735.1 0)">120</text>
<text class="tk" x="1787.6" y="522.3" text-anchor="middle" transform="translate(1787.6 0) scale(0.91 1) translate(-1787.6 0)">140</text>
<text class="tk" x="1840.1" y="522.3" text-anchor="middle" transform="translate(1840.1 0) scale(0.91 1) translate(-1840.1 0)">160</text>
<text class="tk" x="1892.6" y="522.3" text-anchor="middle" transform="translate(1892.6 0) scale(0.91 1) translate(-1892.6 0)">180</text>
<text class="tk" x="1945.1" y="522.3" text-anchor="middle" transform="translate(1945.1 0) scale(0.91 1) translate(-1945.1 0)">200</text>
<text class="tk" x="1412.6" y="503.9" text-anchor="end" transform="translate(1412.6 0) scale(0.91 1) translate(-1412.6 0)">0</text>
<text class="tk" x="1412.6" y="406.2" text-anchor="end" transform="translate(1412.6 0) scale(0.91 1) translate(-1412.6 0)">0.2</text>
<text class="tk" x="1412.6" y="308.6" text-anchor="end" transform="translate(1412.6 0) scale(0.91 1) translate(-1412.6 0)">0.4</text>
<text class="tk" x="1412.6" y="210.9" text-anchor="end" transform="translate(1412.6 0) scale(0.91 1) translate(-1412.6 0)">0.6</text>
<text class="tk" x="1412.6" y="113.3" text-anchor="end" transform="translate(1412.6 0) scale(0.91 1) translate(-1412.6 0)">0.8</text>
<text class="tk" x="1412.6" y="15.6" text-anchor="end" transform="translate(1412.6 0) scale(0.91 1) translate(-1412.6 0)">1</text>
<text class="xl" x="1681.9" y="546.4" text-anchor="middle" transform="translate(1681.9 0) scale(0.85 1) translate(-1681.9 0)">t</text>
<text class="yl" x="0" y="0" text-anchor="middle" transform="translate(1375.5 250.5) rotate(-90)" dy="5">z</text>
<rect x="1855.1" y="25.2" width="73.8" height="98.3" fill="#fff"/>
<path d="M1855.1 25.2H1928.9M1855.1 123.5H1928.9" stroke="#262626" stroke-width="1.3" fill="none"/>
<path d="M1855.1 25.2V123.5M1928.9 25.2V123.5" stroke="#555" stroke-width="1.5" fill="none"/>
<path d="M1860 39.2H1896.9" stroke="#0072BD" stroke-width="1.6"/>
<path d="M1875.1 39.2h6.4M1878.3 34.6v9.2M1876 36.3l4.6 5.7M1876 42.1l4.6 -5.7" stroke="#0072BD" stroke-width="1.1" fill="none"/>
<text class="lg" x="1899.5" y="44.8" transform="translate(1899.5 0) scale(0.91 1) translate(-1899.5 0)">&#948;=0</text>
<path d="M1860 62.9H1896.9" stroke="#D95319" stroke-width="1.6"/>
<path d="M1875.1 62.9h6.4M1878.3 58.3v9.2M1876 60.1l4.6 5.7M1876 65.8l4.6 -5.7" stroke="#D95319" stroke-width="1.1" fill="none"/>
<text class="lg" x="1899.5" y="68.5" transform="translate(1899.5 0) scale(0.91 1) translate(-1899.5 0)">&#948;=1</text>
<path d="M1860 86.7H1896.9" stroke="#EDB120" stroke-width="1.6"/>
<path d="M1875.1 86.7h6.4M1878.3 82.1v9.2M1876 83.8l4.6 5.7M1876 89.5l4.6 -5.7" stroke="#EDB120" stroke-width="1.1" fill="none"/>
<text class="lg" x="1899.5" y="92.3" transform="translate(1899.5 0) scale(0.91 1) translate(-1899.5 0)">&#948;=2</text>
<path d="M1860 110.4H1896.9" stroke="#7E2F8E" stroke-width="1.6"/>
<path d="M1875.1 110.4h6.4M1878.3 105.8v9.2M1876 107.5l4.6 5.7M1876 113.2l4.6 -5.7" stroke="#7E2F8E" stroke-width="1.1" fill="none"/>
<text class="lg" x="1899.5" y="116" transform="translate(1899.5 0) scale(0.91 1) translate(-1899.5 0)">&#948;=3</text>
<text class="cap" x="1670.1" y="613.5" text-anchor="middle">(c)</text>
</svg>
</body></html>
